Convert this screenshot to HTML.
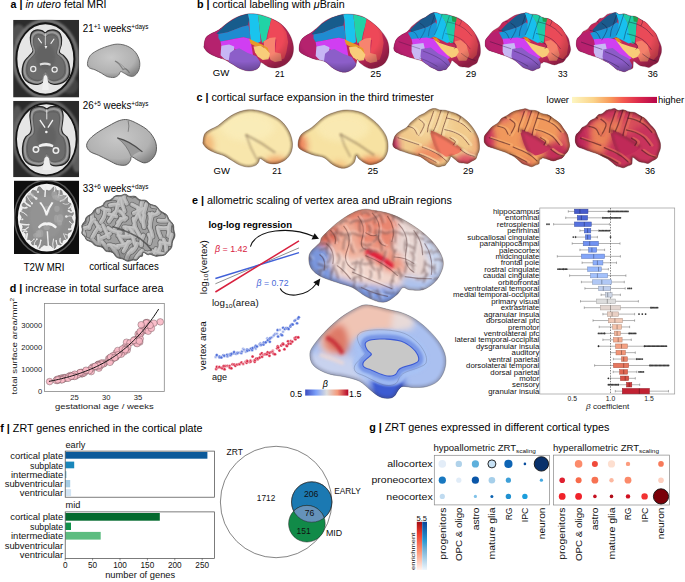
<!DOCTYPE html>
<html><head><meta charset="utf-8"><style>
html,body{margin:0;padding:0;background:#fff;overflow:hidden;}
svg{display:block;font-family:"Liberation Sans", sans-serif;}
</style></head><body>
<svg width="685" height="582" viewBox="0 0 685 582">
<defs><filter id="blur8" x="-50%" y="-50%" width="200%" height="200%"><feGaussianBlur stdDeviation="8"/></filter>
<filter id="blur4" x="-50%" y="-50%" width="200%" height="200%"><feGaussianBlur stdDeviation="4"/></filter>
<filter id="blur3" x="-50%" y="-50%" width="200%" height="200%"><feGaussianBlur stdDeviation="3"/></filter>
<filter id="blur1" x="-50%" y="-50%" width="200%" height="200%"><feGaussianBlur stdDeviation="1"/></filter>
<filter id="blur05" x="-50%" y="-50%" width="200%" height="200%"><feGaussianBlur stdDeviation="0.5"/></filter>
<radialGradient id="gray3d" cx="0.45" cy="0.4" r="0.65"><stop offset="0" stop-color="#c8c8c8"/><stop offset="0.7" stop-color="#b2b2b2"/><stop offset="1" stop-color="#858585"/></radialGradient>
<radialGradient id="edgeShade" cx="0.45" cy="0.4" r="0.62"><stop offset="0.7" stop-color="#000" stop-opacity="0"/><stop offset="1" stop-color="#000" stop-opacity="0.28"/></radialGradient>
<linearGradient id="magma" x1="0" x2="1" y1="0" y2="0"><stop offset="0" stop-color="#fdf6c2"/><stop offset="0.25" stop-color="#fbd48a"/><stop offset="0.45" stop-color="#f89a5a"/><stop offset="0.6" stop-color="#f45a50"/><stop offset="0.78" stop-color="#dc2a4c"/><stop offset="1" stop-color="#b6064a"/></linearGradient>
<filter id="blurE" x="-50%" y="-50%" width="200%" height="200%"><feGaussianBlur stdDeviation="14"/></filter>
<filter id="blurE2" x="-50%" y="-50%" width="200%" height="200%"><feGaussianBlur stdDeviation="8"/></filter>
<linearGradient id="cwgrad" x1="0" x2="1"><stop offset="0" stop-color="#3b4cc0"/><stop offset="0.25" stop-color="#7b9ff9"/><stop offset="0.5" stop-color="#dddddd"/><stop offset="0.75" stop-color="#f49a7b"/><stop offset="1" stop-color="#b40426"/></linearGradient></defs>
<text x="10.6" y="8.3" font-size="10" textLength="96" lengthAdjust="spacingAndGlyphs"><tspan font-weight="bold">a |</tspan> <tspan font-style="italic">in utero</tspan> fetal MRI</text>
<text x="197" y="8" font-size="10" textLength="147.7" lengthAdjust="spacingAndGlyphs"><tspan font-weight="bold">b |</tspan> cortical labelling with <tspan font-style="italic">μ</tspan>Brain</text>
<text x="196.5" y="101.1" font-size="10" textLength="237.3" lengthAdjust="spacingAndGlyphs"><tspan font-weight="bold">c |</tspan> cortical surface expansion in the third trimester</text>
<text x="9.8" y="291.8" font-size="10" textLength="153.7" lengthAdjust="spacingAndGlyphs"><tspan font-weight="bold">d |</tspan> increase in total surface area</text>
<text x="192.1" y="204" font-size="10" textLength="259.8" lengthAdjust="spacingAndGlyphs"><tspan font-weight="bold">e |</tspan> allometric scaling of vertex area and uBrain regions</text>
<text x="0.3" y="431.9" font-size="10" textLength="202.2" lengthAdjust="spacingAndGlyphs"><tspan font-weight="bold">f |</tspan> ZRT genes enriched in the cortical plate</text>
<text x="369.2" y="431" font-size="10" textLength="240.2" lengthAdjust="spacingAndGlyphs"><tspan font-weight="bold">g |</tspan> ZRT genes expressed in different cortical types</text>
<g transform="translate(10,17) scale(0.14257)"><clipPath id="mc1"><rect x="22" y="20" width="463" height="545"/></clipPath><g clip-path="url(#mc1)"><rect x="22" y="20" width="463" height="545" fill="#2c2c2c"/><ellipse cx="60" cy="120" rx="50" ry="70" fill="#6a6a6a" opacity="0.6" filter="url(#blur8)"/><ellipse cx="420" cy="480" rx="60" ry="60" fill="#555" opacity="0.6" filter="url(#blur8)"/><ellipse cx="250" cy="293" rx="222" ry="268" fill="none" stroke="#7a7a7a" stroke-width="22" filter="url(#blur8)"/><ellipse cx="248" cy="294" rx="203" ry="250" fill="#e6e6e6" stroke="#141414" stroke-width="13"/><path d="M247,112C238.38,112 235.1,99.67 223,96C210.9,92.33 193.83,89.43 181,92C168.17,94.57 159.97,100.65 153,110C146.03,119.35 143.92,128.33 143,143C142.08,157.67 144.52,172.77 148,190C151.48,207.23 164.57,221.42 162,237C159.43,252.58 145.18,261.07 134,275C122.82,288.93 109.62,297.42 101,313C92.38,328.58 89.2,342.77 87,360C84.8,377.23 84.78,391.6 89,407C93.22,422.4 98.27,432.82 110,444C121.73,455.18 136.5,463.05 153,468C169.5,472.95 186.25,473.2 200,471C213.75,468.8 220.85,464.25 228,456C235.15,447.75 235.33,436.27 239,426C242.67,415.73 243.97,400 248,400C252.03,400 256.42,415.73 261,426C265.58,436.27 265.3,447.75 273,456C280.7,464.25 288.88,468.8 303,471C317.12,473.2 333.5,472.95 350,468C366.5,463.05 380.9,455.18 393,444C405.1,432.82 411.42,422.4 416,407C420.58,391.6 419.65,377.23 418,360C416.35,342.77 414.15,328.58 407,313C399.85,297.42 390.18,287.1 379,275C367.82,262.9 349.48,262.58 346,247C342.52,231.42 357.43,209.07 360,190C362.57,170.93 362.57,157.67 360,143C357.43,128.33 354.62,119.35 346,110C337.38,100.65 326.93,94.57 313,92C299.07,89.43 282.1,92.33 270,96C257.9,99.67 255.62,112 247,112Z" fill="#6c6c6c" stroke="#262626" stroke-width="9"/><path d="M247.1,127.04C239.34,127.04 236.39,115.69 225.5,112.32C214.61,108.95 199.25,106.28 187.7,108.64C176.15,111 168.77,116.6 162.5,125.2C156.23,133.8 154.32,142.07 153.5,155.56C152.68,169.05 154.87,182.95 158,198.8C161.13,214.65 172.91,227.7 170.6,242.04C168.29,256.38 155.46,264.18 145.4,277C135.33,289.82 123.45,297.62 115.7,311.96C107.94,326.3 105.08,339.35 103.1,355.2C101.12,371.05 101.11,384.27 104.9,398.44C108.7,412.61 113.24,422.19 123.8,432.48C134.36,442.77 147.65,450.01 162.5,454.56C177.35,459.11 192.43,459.34 204.8,457.32C217.18,455.3 223.56,451.11 230,443.52C236.44,435.93 236.6,425.37 239.9,415.92C243.2,406.47 244.37,392 248,392C251.63,392 255.57,406.47 259.7,415.92C263.82,425.37 263.57,435.93 270.5,443.52C277.43,451.11 284.8,455.3 297.5,457.32C310.2,459.34 324.95,459.11 339.8,454.56C354.65,450.01 367.61,442.77 378.5,432.48C389.39,422.19 395.08,412.61 399.2,398.44C403.33,384.27 402.49,371.05 401,355.2C399.51,339.35 397.54,326.3 391.1,311.96C384.67,297.62 375.96,288.13 365.9,277C355.83,265.87 339.33,265.58 336.2,251.24C333.06,236.9 346.49,216.34 348.8,198.8C351.11,181.26 351.11,169.05 348.8,155.56C346.49,142.07 343.95,133.8 336.2,125.2C328.44,116.6 319.04,111 306.5,108.64C293.96,106.28 278.69,108.95 267.8,112.32C256.91,115.69 254.85,127.04 247.1,127.04Z" fill="none" stroke="#a2a2a2" stroke-width="14" opacity="0.85" filter="url(#blur3)"/><path d="M247.2,142.08C240.31,142.08 237.68,131.72 228,128.64C218.32,125.56 204.67,123.12 194.4,125.28C184.13,127.44 177.57,132.55 172,140.4C166.43,148.25 164.73,155.8 164,168.12C163.27,180.44 165.21,193.12 168,207.6C170.79,222.08 181.25,233.99 179.2,247.08C177.15,260.17 165.75,267.3 156.8,279C147.85,290.7 137.29,297.83 130.4,310.92C123.51,324.01 120.96,335.92 119.2,350.4C117.44,364.88 117.43,376.94 120.8,389.88C124.17,402.82 128.21,411.57 137.6,420.96C146.99,430.35 158.8,436.96 172,441.12C185.2,445.28 198.6,445.49 209.6,443.64C220.6,441.79 226.28,437.97 232,431.04C237.72,424.11 237.87,414.46 240.8,405.84C243.73,397.22 244.77,384 248,384C251.23,384 254.73,397.22 258.4,405.84C262.07,414.46 261.84,424.11 268,431.04C274.16,437.97 280.71,441.79 292,443.64C303.29,445.49 316.4,445.28 329.6,441.12C342.8,436.96 354.32,430.35 364,420.96C373.68,411.57 378.73,402.82 382.4,389.88C386.07,376.94 385.32,364.88 384,350.4C382.68,335.92 380.92,324.01 375.2,310.92C369.48,297.83 361.75,289.16 352.8,279C343.85,268.84 329.19,268.57 326.4,255.48C323.61,242.39 335.55,223.62 337.6,207.6C339.65,191.58 339.65,180.44 337.6,168.12C335.55,155.8 333.29,148.25 326.4,140.4C319.51,132.55 311.15,127.44 300,125.28C288.85,123.12 275.28,125.56 265.6,128.64C255.92,131.72 254.09,142.08 247.2,142.08Z" fill="none" stroke="#505050" stroke-width="5" opacity="0.7" filter="url(#blur3)"/><ellipse cx="248" cy="280" rx="70" ry="90" fill="#5a5a5a" opacity="0.5" filter="url(#blur8)"/><path d="M200,146 L226,182 L219,186 L194,151Z M307,150 L282,185 L289,189 L313,155Z" fill="#f2f2f2"/><path d="M242,203 L262,203 L252,224Z" fill="#f2f2f2"/><circle cx="163" cy="365" r="18" fill="none" stroke="#eaeaea" stroke-width="9"/><circle cx="313" cy="369" r="18" fill="none" stroke="#eaeaea" stroke-width="9"/><path d="M208,326 Q248,312 286,328 L283,342 Q248,330 211,340Z" fill="#dedede"/><path d="M236,420 Q249,392 262,420 L272,512 L226,512Z" fill="#efefef"/><path d="M248,114 L248,200" stroke="#dcdcdc" stroke-width="6"/></g></g>
<g transform="translate(10,98) scale(0.14257)"><clipPath id="mc2"><rect x="22" y="20" width="463" height="536"/></clipPath><g clip-path="url(#mc2)"><rect x="22" y="20" width="463" height="536" fill="#2a2a2a"/><ellipse cx="50" cy="200" rx="45" ry="150" fill="#7a7a7a" opacity="0.55" filter="url(#blur8)"/><ellipse cx="470" cy="420" rx="40" ry="100" fill="#888" opacity="0.55" filter="url(#blur8)"/><ellipse cx="255" cy="290" rx="228" ry="268" fill="none" stroke="#6e6e6e" stroke-width="18" filter="url(#blur8)"/><ellipse cx="255" cy="290" rx="212" ry="252" fill="#e6e6e6" stroke="#141414" stroke-width="12"/><path d="M258,76C247.92,76 244.3,64.57 230,62C215.7,59.43 194.67,58.7 180,62C165.33,65.3 157.33,69.37 150,80C142.67,90.63 140.92,103.5 140,120C139.08,136.5 143.17,151.67 145,170C146.83,188.33 150.92,205.33 150,220C149.08,234.67 147.33,239.92 140,250C132.67,260.08 118.8,262.17 110,275C101.2,287.83 96.03,300.75 92,320C87.97,339.25 86.53,359.83 88,380C89.47,400.17 92.3,415.33 100,430C107.7,444.67 115.33,451.75 130,460C144.67,468.25 162.58,473.17 180,475C197.42,476.83 213.08,476.42 225,470C236.92,463.58 238.95,451 245,440C251.05,429 253.05,410 258,410C262.95,410 265.77,429 272,440C278.23,451 279.53,463.58 292,470C304.47,476.42 322.95,476.83 340,475C357.05,473.17 371.8,468.25 385,460C398.2,451.75 405.58,444.67 412,430C418.42,415.33 419.27,400.17 420,380C420.73,359.83 419.67,339.25 416,320C412.33,300.75 408.07,287.83 400,275C391.93,262.17 378.97,260.08 372,250C365.03,239.92 362.73,234.67 362,220C361.27,205.33 366.17,188.33 368,170C369.83,151.67 373.1,136.5 372,120C370.9,103.5 368.78,90.63 362,80C355.22,69.37 349.12,65.3 335,62C320.88,58.7 299.12,59.43 285,62C270.88,64.57 268.08,76 258,76Z" fill="#6c6c6c" stroke="#262626" stroke-width="9"/><path d="M257.8,93.12C248.72,93.12 245.47,82.6 232.6,80.24C219.73,77.88 200.8,77.2 187.6,80.24C174.4,83.28 167.2,87.02 160.6,96.8C154,106.58 152.42,118.42 151.6,133.6C150.78,148.78 154.45,162.73 156.1,179.6C157.75,196.47 161.42,212.11 160.6,225.6C159.78,239.09 158.2,243.92 151.6,253.2C145,262.48 132.52,264.39 124.6,276.2C116.68,288.01 112.03,299.89 108.4,317.6C104.77,335.31 103.48,354.25 104.8,372.8C106.12,391.35 108.67,405.31 115.6,418.8C122.53,432.29 129.4,438.81 142.6,446.4C155.8,453.99 171.92,458.51 187.6,460.2C203.28,461.89 217.38,461.5 228.1,455.6C238.82,449.7 240.66,438.12 246.1,428C251.54,417.88 253.35,400.4 257.8,400.4C262.25,400.4 264.79,417.88 270.4,428C276.01,438.12 277.18,449.7 288.4,455.6C299.62,461.5 316.25,461.89 331.6,460.2C346.95,458.51 360.22,453.99 372.1,446.4C383.98,438.81 390.62,432.29 396.4,418.8C402.17,405.31 402.94,391.35 403.6,372.8C404.26,354.25 403.3,335.31 400,317.6C396.7,299.89 392.86,288.01 385.6,276.2C378.34,264.39 366.67,262.48 360.4,253.2C354.13,243.92 352.06,239.09 351.4,225.6C350.74,212.11 355.15,196.47 356.8,179.6C358.45,162.73 361.39,148.78 360.4,133.6C359.41,118.42 357.5,106.58 351.4,96.8C345.29,87.02 339.81,83.28 327.1,80.24C314.4,77.2 294.81,77.88 282.1,80.24C269.4,82.6 266.88,93.12 257.8,93.12Z" fill="none" stroke="#a2a2a2" stroke-width="14" opacity="0.85" filter="url(#blur3)"/><path d="M257.6,110.24C249.53,110.24 246.64,100.64 235.2,98.48C223.76,96.32 206.93,95.71 195.2,98.48C183.47,101.25 177.07,104.67 171.2,113.6C165.33,122.53 163.93,133.34 163.2,147.2C162.47,161.06 165.73,173.8 167.2,189.2C168.67,204.6 171.93,218.88 171.2,231.2C170.47,243.52 169.07,247.93 163.2,256.4C157.33,264.87 146.24,266.62 139.2,277.4C132.16,288.18 128.03,299.03 124.8,315.2C121.57,331.37 120.43,348.66 121.6,365.6C122.77,382.54 125.04,395.28 131.2,407.6C137.36,419.92 143.47,425.87 155.2,432.8C166.93,439.73 181.27,443.86 195.2,445.4C209.13,446.94 221.67,446.59 231.2,441.2C240.73,435.81 242.36,425.24 247.2,416C252.04,406.76 253.64,390.8 257.6,390.8C261.56,390.8 263.81,406.76 268.8,416C273.79,425.24 274.83,435.81 284.8,441.2C294.77,446.59 309.56,446.94 323.2,445.4C336.84,443.86 348.64,439.73 359.2,432.8C369.76,425.87 375.67,419.92 380.8,407.6C385.93,395.28 386.61,382.54 387.2,365.6C387.79,348.66 386.93,331.37 384,315.2C381.07,299.03 377.65,288.18 371.2,277.4C364.75,266.62 354.37,264.87 348.8,256.4C343.23,247.93 341.39,243.52 340.8,231.2C340.21,218.88 344.13,204.6 345.6,189.2C347.07,173.8 349.68,161.06 348.8,147.2C347.92,133.34 346.23,122.53 340.8,113.6C335.37,104.67 330.49,101.25 319.2,98.48C307.91,95.71 290.49,96.32 279.2,98.48C267.91,100.64 265.67,110.24 257.6,110.24Z" fill="none" stroke="#505050" stroke-width="5" opacity="0.7" filter="url(#blur3)"/><ellipse cx="256" cy="270" rx="70" ry="90" fill="#5a5a5a" opacity="0.5" filter="url(#blur8)"/><path d="M213,150 L250,205 L242,210 L206,158Z M297,150 L262,205 L270,210 L304,158Z" fill="#f2f2f2"/><circle cx="255" cy="238" r="9" fill="#f2f2f2"/><path d="M200,330 Q255,300 305,330 L300,345 Q255,332 205,345Z" fill="#f0f0f0"/><circle cx="182" cy="362" r="19" fill="none" stroke="#ececec" stroke-width="11"/><circle cx="322" cy="368" r="19" fill="none" stroke="#ececec" stroke-width="11"/><path d="M242,425 Q258,395 273,425 L288,505 L228,505Z" fill="#eee"/><path d="M258,80 L258,150" stroke="#e4e4e4" stroke-width="7"/></g></g>
<g transform="translate(10,177) scale(0.14257)"><clipPath id="mc3"><rect x="28" y="25" width="457" height="515"/></clipPath><g clip-path="url(#mc3)"><rect x="28" y="25" width="457" height="515" fill="#0e0e0e"/><ellipse cx="256" cy="285" rx="225" ry="262" fill="none" stroke="#5a5a5a" stroke-width="10" filter="url(#blur4)"/><ellipse cx="258" cy="285" rx="203" ry="238" fill="#f2f2f2"/><path d="M258,93.3C268.64,93.3 268.4,101.07 280.8,95.25C293.2,89.43 299.57,68.4 311.16,68.37C322.75,68.34 319.07,88.89 330.46,95.12C341.86,101.35 350.26,87.57 360.01,95.06C369.75,102.56 362.76,117.43 372.23,127.24C381.7,137.06 393.01,126.67 400.59,137.15C408.18,147.62 397.97,159.53 404.75,172.15C411.52,184.76 424.82,178.6 429.63,191.21C434.44,203.82 421.84,211.8 425.37,226.19C428.9,240.58 443.11,239.15 444.76,252.87C446.41,266.59 432.44,270.01 432.44,285C432.44,299.99 446.41,303.41 444.76,317.13C443.11,330.85 428.9,329.42 425.37,343.81C421.84,358.2 434.44,366.18 429.63,378.79C424.82,391.4 411.52,385.24 404.75,397.85C397.97,410.47 408.18,422.38 400.59,432.85C393.01,443.33 381.7,432.94 372.23,442.76C362.76,452.57 369.75,467.44 360.01,474.94C350.26,482.43 341.86,468.65 330.46,474.88C319.07,481.11 322.63,500.68 311.16,501.63C299.69,502.59 293.71,483.79 281.31,478.97C268.9,474.14 268.88,480.96 258,480.96C247.12,480.96 247.1,474.14 234.69,478.97C222.29,483.79 216.31,502.59 204.84,501.63C193.37,500.68 196.93,481.11 185.54,474.88C174.14,468.65 165.74,482.43 155.99,474.94C146.25,467.44 153.24,452.57 143.77,442.76C134.3,432.94 122.99,443.33 115.41,432.85C107.82,422.38 118.03,410.47 111.25,397.85C104.48,385.24 91.18,391.4 86.37,378.79C81.56,366.18 94.16,358.2 90.63,343.81C87.1,329.42 72.89,330.85 71.24,317.13C69.59,303.41 83.56,299.99 83.56,285C83.56,270.01 69.59,266.59 71.24,252.87C72.89,239.15 87.1,240.58 90.63,226.19C94.16,211.8 81.56,203.82 86.37,191.21C91.18,178.6 104.48,184.76 111.25,172.15C118.03,159.53 107.82,147.62 115.41,137.15C122.99,126.67 134.3,137.06 143.77,127.24C153.24,117.43 146.25,102.56 155.99,95.06C165.74,87.57 174.14,101.35 185.54,95.12C196.93,88.89 193.25,68.34 204.84,68.37C216.43,68.4 222.8,89.43 235.2,95.25C247.6,101.07 247.36,93.3 258,93.3Z" fill="#8e8e8e" stroke="#666" stroke-width="4"/><ellipse cx="258" cy="280" rx="120" ry="150" fill="#999" opacity="0.5" filter="url(#blur8)"/><path d="M448,279 Q421,266 395,277" fill="none" stroke="#ececec" stroke-width="5" stroke-linecap="round"/><circle cx="395" cy="277" r="9" fill="#e8e8e8"/><path d="M444,333 Q430,331 418,313" fill="none" stroke="#ececec" stroke-width="7" stroke-linecap="round"/><circle cx="418" cy="313" r="5" fill="#e8e8e8"/><path d="M437,361 Q423,368 412,367" fill="none" stroke="#ececec" stroke-width="11" stroke-linecap="round"/><circle cx="412" cy="367" r="6" fill="#e8e8e8"/><path d="M418,406 Q398,410 386,401" fill="none" stroke="#ececec" stroke-width="6" stroke-linecap="round"/><path d="M396,440 Q383,424 376,399" fill="none" stroke="#ececec" stroke-width="6" stroke-linecap="round"/><path d="M367,470 Q345,462 352,430" fill="none" stroke="#ececec" stroke-width="9" stroke-linecap="round"/><path d="M337,491 Q326,472 324,448" fill="none" stroke="#ececec" stroke-width="8" stroke-linecap="round"/><circle cx="324" cy="448" r="6" fill="#e8e8e8"/><path d="M304,504 Q294,473 305,435" fill="none" stroke="#ececec" stroke-width="7" stroke-linecap="round"/><path d="M197,499 Q214,475 216,444" fill="none" stroke="#ececec" stroke-width="9" stroke-linecap="round"/><circle cx="216" cy="444" r="6" fill="#e8e8e8"/><path d="M169,485 Q168,453 188,436" fill="none" stroke="#ececec" stroke-width="6" stroke-linecap="round"/><circle cx="188" cy="436" r="6" fill="#e8e8e8"/><path d="M140,462 Q155,450 168,437" fill="none" stroke="#ececec" stroke-width="6" stroke-linecap="round"/><circle cx="168" cy="437" r="5" fill="#e8e8e8"/><path d="M115,434 Q118,417 121,399" fill="none" stroke="#ececec" stroke-width="12" stroke-linecap="round"/><circle cx="121" cy="399" r="6" fill="#e8e8e8"/><path d="M92,395 Q97,370 118,383" fill="none" stroke="#ececec" stroke-width="9" stroke-linecap="round"/><path d="M82,371 Q110,373 129,351" fill="none" stroke="#ececec" stroke-width="8" stroke-linecap="round"/><path d="M72,330 Q102,336 131,334" fill="none" stroke="#ececec" stroke-width="10" stroke-linecap="round"/><circle cx="131" cy="334" r="6" fill="#e8e8e8"/><path d="M68,294 Q79,306 88,297" fill="none" stroke="#ececec" stroke-width="5" stroke-linecap="round"/><circle cx="88" cy="297" r="6" fill="#e8e8e8"/><path d="M72,240 Q97,246 120,270" fill="none" stroke="#ececec" stroke-width="7" stroke-linecap="round"/><path d="M78,211 Q95,222 117,214" fill="none" stroke="#ececec" stroke-width="12" stroke-linecap="round"/><circle cx="117" cy="214" r="6" fill="#e8e8e8"/><path d="M96,168 Q115,193 142,205" fill="none" stroke="#ececec" stroke-width="11" stroke-linecap="round"/><path d="M118,133 Q133,163 154,185" fill="none" stroke="#ececec" stroke-width="6" stroke-linecap="round"/><circle cx="154" cy="185" r="8" fill="#e8e8e8"/><path d="M138,110 Q157,133 184,151" fill="none" stroke="#ececec" stroke-width="12" stroke-linecap="round"/><circle cx="184" cy="151" r="9" fill="#e8e8e8"/><path d="M176,81 Q182,96 196,105" fill="none" stroke="#ececec" stroke-width="6" stroke-linecap="round"/><circle cx="196" cy="105" r="8" fill="#e8e8e8"/><path d="M313,69 Q320,88 310,101" fill="none" stroke="#ececec" stroke-width="9" stroke-linecap="round"/><path d="M346,85 Q348,118 337,143" fill="none" stroke="#ececec" stroke-width="6" stroke-linecap="round"/><path d="M379,111 Q380,137 345,128" fill="none" stroke="#ececec" stroke-width="6" stroke-linecap="round"/><path d="M401,136 Q383,161 352,169" fill="none" stroke="#ececec" stroke-width="9" stroke-linecap="round"/><path d="M424,174 Q409,203 372,186" fill="none" stroke="#ececec" stroke-width="5" stroke-linecap="round"/><path d="M432,195 Q425,216 412,220" fill="none" stroke="#ececec" stroke-width="9" stroke-linecap="round"/><path d="M444,237 Q431,257 411,237" fill="none" stroke="#ececec" stroke-width="10" stroke-linecap="round"/><circle cx="411" cy="237" r="7" fill="#e8e8e8"/><ellipse cx="146" cy="131" rx="24" ry="22" fill="#b0b0b0" opacity="0.5" filter="url(#blur4)"/><ellipse cx="348" cy="321" rx="17" ry="20" fill="#b0b0b0" opacity="0.5" filter="url(#blur4)"/><ellipse cx="324" cy="293" rx="15" ry="28" fill="#b0b0b0" opacity="0.5" filter="url(#blur4)"/><ellipse cx="339" cy="148" rx="23" ry="21" fill="#b0b0b0" opacity="0.5" filter="url(#blur4)"/><ellipse cx="329" cy="223" rx="19" ry="22" fill="#b0b0b0" opacity="0.5" filter="url(#blur4)"/><ellipse cx="372" cy="151" rx="17" ry="24" fill="#b0b0b0" opacity="0.5" filter="url(#blur4)"/><ellipse cx="352" cy="289" rx="22" ry="28" fill="#b0b0b0" opacity="0.5" filter="url(#blur4)"/><ellipse cx="326" cy="142" rx="28" ry="18" fill="#b0b0b0" opacity="0.5" filter="url(#blur4)"/><ellipse cx="213" cy="396" rx="21" ry="27" fill="#b0b0b0" opacity="0.5" filter="url(#blur4)"/><ellipse cx="180" cy="409" rx="18" ry="17" fill="#b0b0b0" opacity="0.5" filter="url(#blur4)"/><ellipse cx="259" cy="232" rx="23" ry="29" fill="#b0b0b0" opacity="0.5" filter="url(#blur4)"/><ellipse cx="311" cy="122" rx="20" ry="23" fill="#b0b0b0" opacity="0.5" filter="url(#blur4)"/><ellipse cx="257" cy="356" rx="22" ry="16" fill="#b0b0b0" opacity="0.5" filter="url(#blur4)"/><ellipse cx="199" cy="400" rx="20" ry="27" fill="#b0b0b0" opacity="0.5" filter="url(#blur4)"/><path d="M205,180 Q240,220 250,270 L262,270 Q275,220 305,180 L292,175 Q265,215 256,240 Q245,215 218,175Z" fill="#f4f4f4"/><path d="M195,350 Q230,310 258,320 Q290,310 330,350 L318,362 Q290,335 258,340 Q228,335 205,362Z" fill="#f4f4f4"/><path d="M262,380 L270,500" stroke="#eee" stroke-width="10"/><path d="M250,62 L245,140" stroke="#eee" stroke-width="10"/></g></g>
<g transform="translate(78,18) scale(0.17182)"><path d="M55,265C55.67,253.33 60.83,232.5 70,220C79.17,207.5 93.33,199.17 110,190C126.67,180.83 150,171.33 170,165C190,158.67 210,152 230,152C250,152 272.5,157 290,165C307.5,173 323.67,185.83 335,200C346.33,214.17 354.67,233.33 358,250C361.33,266.67 359.67,285.83 355,300C350.33,314.17 339.17,328.67 330,335C320.83,341.33 310,340.17 300,338C290,335.83 278.67,326.33 270,322C261.33,317.67 253.67,310.33 248,312C242.33,313.67 242.33,326.33 236,332C229.67,337.67 221,344.5 210,346C199,347.5 182,345 170,341C158,337 149.67,328.5 138,322C126.33,315.5 112,307.33 100,302C88,296.67 73.5,296.17 66,290C58.5,283.83 54.33,276.67 55,265Z" fill="url(#gray3d)" stroke="#5a5a5a" stroke-width="5"/><path d="M215,250 Q240,262 262,300 Q280,285 300,320" fill="none" stroke="#6a6a6a" stroke-width="7" opacity="0.7" filter="url(#blur4)"/><path d="M218,252 Q250,262 290,310" fill="none" stroke="#555" stroke-width="3" opacity="0.6"/></g>
<g transform="translate(78,100) scale(0.17182)"><path d="M50,265C50,252.5 58.33,238.33 70,225C81.67,211.67 101.67,197.5 120,185C138.33,172.5 160,160.83 180,150C200,139.17 221.67,125.83 240,120C258.33,114.17 271.67,111.67 290,115C308.33,118.33 330,129.17 350,140C370,150.83 393.33,163.33 410,180C426.67,196.67 442.5,220 450,240C457.5,260 458.33,282.5 455,300C451.67,317.5 440.83,334 430,345C419.17,356 403.33,364.83 390,366C376.67,367.17 363,358 350,352C337,346 319.5,330 312,330C304.5,330 310.33,344 305,352C299.67,360 292.5,374 280,378C267.5,382 246.67,380.33 230,376C213.33,371.67 198.33,361 180,352C161.67,343 138.33,330.67 120,322C101.67,313.33 81.67,309.5 70,300C58.33,290.5 50,277.5 50,265Z" fill="url(#gray3d)" stroke="#4a4a4a" stroke-width="5"/><path d="M232,222 Q300,240 372,300 Q340,300 312,332 Q280,260 232,222Z" fill="#9a9a9a"/><path d="M228,220 Q300,236 375,302" fill="none" stroke="#3a3a3a" stroke-width="7" opacity="0.85"/><path d="M232,224 Q285,262 310,330" fill="none" stroke="#555" stroke-width="4" opacity="0.7"/><path d="M292,122 Q300,150 292,185" fill="none" stroke="#5a5a5a" stroke-width="5" opacity="0.7"/></g>
<g transform="translate(78,180) scale(0.17182)"><defs><clipPath id="ca3"><path d="M25,290C25,280.44 19.55,274.03 22.55,264.03C25.55,254.03 34.42,249.91 40,240C45.58,230.09 42.46,223.49 50.46,214.49C58.46,205.49 69.77,204.49 80,195C90.23,185.51 89.63,176.03 101.63,167.03C113.63,158.03 128.57,158.47 140,150C151.43,141.53 148.78,131.67 158.78,124.67C168.78,117.67 178.46,121.31 190,115C201.54,108.69 204.5,98.13 216.5,93.13C228.5,88.13 238.45,92.12 250,90C261.55,87.88 264.24,81.53 274.24,82.53C284.24,83.53 288.43,92.46 300,95C311.57,97.54 320.11,91.23 332.11,95.23C344.11,99.23 347.37,110.25 360,115C372.63,119.75 383.24,113.98 395.24,118.98C407.24,123.98 407.5,133.06 420,140C432.5,146.94 445.76,145.69 457.76,153.69C469.76,161.69 468.69,170.47 480,180C491.31,189.53 504.3,191.32 514.3,201.32C524.3,211.32 522.07,218.5 530,230C537.93,241.5 548.33,246.83 553.93,258.83C559.53,270.83 556,276.5 558,290C560,303.5 565.51,312.31 563.91,326.31C562.31,340.31 553.93,346.51 550,360C546.07,373.49 550.26,381.78 544.26,393.78C538.26,405.78 528.2,411.42 520,420C511.8,428.58 513.24,432.27 503.24,436.67C493.24,441.07 480.2,440.56 470,442C459.8,443.44 462.26,445.88 452.26,443.88C442.26,441.88 429.2,433.82 420,432C410.8,430.18 414.26,436.8 406.26,434.8C398.26,432.8 386.28,420.31 380,422C373.72,423.69 378.84,438.25 374.84,443.25C370.84,448.25 366.39,442.43 360,447C353.61,451.57 350.88,462.28 342.88,466.08C334.88,469.88 330.58,464.62 320,466C309.42,467.38 302,474.2 290,473C278,471.8 272.74,464.54 260,460C247.26,455.46 238.31,457.89 226.31,450.29C214.31,442.69 212.69,429.26 200,422C187.31,414.74 174.84,419.98 162.84,413.98C150.84,407.98 152.37,398.53 140,392C127.63,385.47 113,387.35 101,381.35C89,375.35 90.14,368.39 80,362C69.86,355.61 58.29,355.41 50.29,349.41C42.29,343.41 45.55,339.52 40,332C34.45,324.48 25.53,320.21 22.53,311.81C19.53,303.41 25,299.56 25,290Z"/></clipPath></defs><path d="M25,290C25,280.44 19.55,274.03 22.55,264.03C25.55,254.03 34.42,249.91 40,240C45.58,230.09 42.46,223.49 50.46,214.49C58.46,205.49 69.77,204.49 80,195C90.23,185.51 89.63,176.03 101.63,167.03C113.63,158.03 128.57,158.47 140,150C151.43,141.53 148.78,131.67 158.78,124.67C168.78,117.67 178.46,121.31 190,115C201.54,108.69 204.5,98.13 216.5,93.13C228.5,88.13 238.45,92.12 250,90C261.55,87.88 264.24,81.53 274.24,82.53C284.24,83.53 288.43,92.46 300,95C311.57,97.54 320.11,91.23 332.11,95.23C344.11,99.23 347.37,110.25 360,115C372.63,119.75 383.24,113.98 395.24,118.98C407.24,123.98 407.5,133.06 420,140C432.5,146.94 445.76,145.69 457.76,153.69C469.76,161.69 468.69,170.47 480,180C491.31,189.53 504.3,191.32 514.3,201.32C524.3,211.32 522.07,218.5 530,230C537.93,241.5 548.33,246.83 553.93,258.83C559.53,270.83 556,276.5 558,290C560,303.5 565.51,312.31 563.91,326.31C562.31,340.31 553.93,346.51 550,360C546.07,373.49 550.26,381.78 544.26,393.78C538.26,405.78 528.2,411.42 520,420C511.8,428.58 513.24,432.27 503.24,436.67C493.24,441.07 480.2,440.56 470,442C459.8,443.44 462.26,445.88 452.26,443.88C442.26,441.88 429.2,433.82 420,432C410.8,430.18 414.26,436.8 406.26,434.8C398.26,432.8 386.28,420.31 380,422C373.72,423.69 378.84,438.25 374.84,443.25C370.84,448.25 366.39,442.43 360,447C353.61,451.57 350.88,462.28 342.88,466.08C334.88,469.88 330.58,464.62 320,466C309.42,467.38 302,474.2 290,473C278,471.8 272.74,464.54 260,460C247.26,455.46 238.31,457.89 226.31,450.29C214.31,442.69 212.69,429.26 200,422C187.31,414.74 174.84,419.98 162.84,413.98C150.84,407.98 152.37,398.53 140,392C127.63,385.47 113,387.35 101,381.35C89,375.35 90.14,368.39 80,362C69.86,355.61 58.29,355.41 50.29,349.41C42.29,343.41 45.55,339.52 40,332C34.45,324.48 25.53,320.21 22.53,311.81C19.53,303.41 25,299.56 25,290Z" fill="#a0a0a0"/><g clip-path="url(#ca3)"><g fill="none" stroke="#646464" stroke-width="32" stroke-linecap="round" opacity="0.9"><path d="M17,104 Q27,77 17,51"/><path d="M82,100 Q71,80 68,57"/><path d="M127,91 Q148,68 178,77"/><path d="M187,105 Q211,101 233,110"/><path d="M225,92 Q251,100 275,86"/><path d="M266,109 Q268,80 271,52"/><path d="M317,91 Q350,71 387,72"/><path d="M386,108 Q416,124 449,125"/><path d="M416,100 Q457,101 490,77"/><path d="M473,97 Q464,58 463,18"/><path d="M514,92 Q541,106 569,121"/><path d="M576,105 Q586,74 587,41"/><path d="M17,139 Q36,117 48,91"/><path d="M70,138 Q81,103 100,72"/><path d="M129,150 Q148,178 183,176"/><path d="M186,148 Q215,138 244,147"/><path d="M234,139 Q248,106 263,73"/><path d="M283,137 Q264,111 268,79"/><path d="M315,143 Q346,159 378,176"/><path d="M369,155 Q366,130 383,111"/><path d="M433,152 Q463,158 493,158"/><path d="M483,142 Q457,112 464,73"/><path d="M529,155 Q547,123 539,88"/><path d="M577,141 Q588,102 621,79"/><path d="M15,184 Q27,158 13,134"/><path d="M79,185 Q62,156 66,124"/><path d="M117,186 Q111,150 136,124"/><path d="M180,199 Q202,205 223,212"/><path d="M215,197 Q229,174 230,146"/><path d="M271,183 Q255,147 253,108"/><path d="M325,193 Q356,180 386,167"/><path d="M381,201 Q391,171 398,140"/><path d="M415,198 Q445,212 470,190"/><path d="M466,184 Q479,150 495,118"/><path d="M528,182 Q522,151 525,119"/><path d="M573,187 Q578,159 569,133"/><path d="M33,242 Q23,215 14,187"/><path d="M78,247 Q86,216 78,185"/><path d="M134,244 Q158,216 158,180"/><path d="M180,242 Q199,219 211,192"/><path d="M233,247 Q254,228 282,221"/><path d="M272,231 Q272,199 244,183"/><path d="M331,237 Q342,203 371,180"/><path d="M371,241 Q354,205 349,166"/><path d="M419,245 Q429,221 432,195"/><path d="M470,236 Q500,239 530,234"/><path d="M520,231 Q529,202 506,182"/><path d="M564,244 Q586,249 609,253"/><path d="M14,286 Q36,282 58,275"/><path d="M65,280 Q69,249 95,230"/><path d="M132,290 Q115,271 104,247"/><path d="M176,279 Q208,305 249,305"/><path d="M213,286 Q240,260 250,225"/><path d="M268,275 Q301,278 334,282"/><path d="M332,281 Q332,253 323,226"/><path d="M384,275 Q374,241 387,207"/><path d="M419,275 Q425,241 420,206"/><path d="M467,276 Q496,284 526,278"/><path d="M530,284 Q527,254 553,237"/><path d="M571,285 Q558,253 544,220"/><path d="M17,337 Q52,341 80,364"/><path d="M82,338 Q99,302 123,271"/><path d="M136,339 Q163,329 186,312"/><path d="M178,335 Q163,299 146,264"/><path d="M234,324 Q270,335 306,328"/><path d="M284,327 Q283,302 279,276"/><path d="M333,327 Q318,301 299,278"/><path d="M364,333 Q346,299 327,265"/><path d="M434,330 Q430,300 416,273"/><path d="M482,335 Q468,308 464,278"/><path d="M525,325 Q536,302 523,279"/><path d="M577,336 Q617,341 655,354"/><path d="M22,366 Q44,336 31,301"/><path d="M68,371 Q102,365 127,390"/><path d="M122,383 Q126,353 120,324"/><path d="M177,380 Q208,378 234,394"/><path d="M232,382 Q272,384 303,360"/><path d="M265,372 Q241,342 233,305"/><path d="M329,372 Q326,340 307,314"/><path d="M368,380 Q364,349 381,323"/><path d="M416,367 Q428,341 412,318"/><path d="M479,366 Q509,369 539,372"/><path d="M536,373 Q536,344 547,317"/><path d="M581,379 Q593,353 583,326"/><path d="M13,425 Q5,393 -8,363"/><path d="M65,422 Q71,393 88,370"/><path d="M118,413 Q116,377 90,352"/><path d="M168,414 Q163,384 141,362"/><path d="M218,426 Q208,401 191,380"/><path d="M265,416 Q284,390 292,359"/><path d="M313,418 Q337,399 344,369"/><path d="M364,422 Q398,420 427,439"/><path d="M435,414 Q469,424 503,433"/><path d="M467,419 Q484,393 480,362"/><path d="M514,418 Q516,380 499,347"/><path d="M567,418 Q564,387 580,359"/><path d="M22,475 Q30,443 40,411"/><path d="M76,465 Q71,437 77,410"/><path d="M117,476 Q100,458 101,433"/><path d="M184,465 Q171,433 162,401"/><path d="M231,469 Q234,434 213,405"/><path d="M280,468 Q287,429 317,403"/><path d="M329,473 Q344,437 374,412"/><path d="M387,465 Q399,442 417,424"/><path d="M428,463 Q449,436 454,402"/><path d="M482,475 Q520,488 557,501"/><path d="M530,468 Q559,479 589,478"/><path d="M570,461 Q547,447 550,420"/></g><g fill="none" stroke="#b4b4b4" stroke-width="23" stroke-linecap="round"><path d="M17,104 Q27,77 17,51"/><path d="M82,100 Q71,80 68,57"/><path d="M127,91 Q148,68 178,77"/><path d="M187,105 Q211,101 233,110"/><path d="M225,92 Q251,100 275,86"/><path d="M266,109 Q268,80 271,52"/><path d="M317,91 Q350,71 387,72"/><path d="M386,108 Q416,124 449,125"/><path d="M416,100 Q457,101 490,77"/><path d="M473,97 Q464,58 463,18"/><path d="M514,92 Q541,106 569,121"/><path d="M576,105 Q586,74 587,41"/><path d="M17,139 Q36,117 48,91"/><path d="M70,138 Q81,103 100,72"/><path d="M129,150 Q148,178 183,176"/><path d="M186,148 Q215,138 244,147"/><path d="M234,139 Q248,106 263,73"/><path d="M283,137 Q264,111 268,79"/><path d="M315,143 Q346,159 378,176"/><path d="M369,155 Q366,130 383,111"/><path d="M433,152 Q463,158 493,158"/><path d="M483,142 Q457,112 464,73"/><path d="M529,155 Q547,123 539,88"/><path d="M577,141 Q588,102 621,79"/><path d="M15,184 Q27,158 13,134"/><path d="M79,185 Q62,156 66,124"/><path d="M117,186 Q111,150 136,124"/><path d="M180,199 Q202,205 223,212"/><path d="M215,197 Q229,174 230,146"/><path d="M271,183 Q255,147 253,108"/><path d="M325,193 Q356,180 386,167"/><path d="M381,201 Q391,171 398,140"/><path d="M415,198 Q445,212 470,190"/><path d="M466,184 Q479,150 495,118"/><path d="M528,182 Q522,151 525,119"/><path d="M573,187 Q578,159 569,133"/><path d="M33,242 Q23,215 14,187"/><path d="M78,247 Q86,216 78,185"/><path d="M134,244 Q158,216 158,180"/><path d="M180,242 Q199,219 211,192"/><path d="M233,247 Q254,228 282,221"/><path d="M272,231 Q272,199 244,183"/><path d="M331,237 Q342,203 371,180"/><path d="M371,241 Q354,205 349,166"/><path d="M419,245 Q429,221 432,195"/><path d="M470,236 Q500,239 530,234"/><path d="M520,231 Q529,202 506,182"/><path d="M564,244 Q586,249 609,253"/><path d="M14,286 Q36,282 58,275"/><path d="M65,280 Q69,249 95,230"/><path d="M132,290 Q115,271 104,247"/><path d="M176,279 Q208,305 249,305"/><path d="M213,286 Q240,260 250,225"/><path d="M268,275 Q301,278 334,282"/><path d="M332,281 Q332,253 323,226"/><path d="M384,275 Q374,241 387,207"/><path d="M419,275 Q425,241 420,206"/><path d="M467,276 Q496,284 526,278"/><path d="M530,284 Q527,254 553,237"/><path d="M571,285 Q558,253 544,220"/><path d="M17,337 Q52,341 80,364"/><path d="M82,338 Q99,302 123,271"/><path d="M136,339 Q163,329 186,312"/><path d="M178,335 Q163,299 146,264"/><path d="M234,324 Q270,335 306,328"/><path d="M284,327 Q283,302 279,276"/><path d="M333,327 Q318,301 299,278"/><path d="M364,333 Q346,299 327,265"/><path d="M434,330 Q430,300 416,273"/><path d="M482,335 Q468,308 464,278"/><path d="M525,325 Q536,302 523,279"/><path d="M577,336 Q617,341 655,354"/><path d="M22,366 Q44,336 31,301"/><path d="M68,371 Q102,365 127,390"/><path d="M122,383 Q126,353 120,324"/><path d="M177,380 Q208,378 234,394"/><path d="M232,382 Q272,384 303,360"/><path d="M265,372 Q241,342 233,305"/><path d="M329,372 Q326,340 307,314"/><path d="M368,380 Q364,349 381,323"/><path d="M416,367 Q428,341 412,318"/><path d="M479,366 Q509,369 539,372"/><path d="M536,373 Q536,344 547,317"/><path d="M581,379 Q593,353 583,326"/><path d="M13,425 Q5,393 -8,363"/><path d="M65,422 Q71,393 88,370"/><path d="M118,413 Q116,377 90,352"/><path d="M168,414 Q163,384 141,362"/><path d="M218,426 Q208,401 191,380"/><path d="M265,416 Q284,390 292,359"/><path d="M313,418 Q337,399 344,369"/><path d="M364,422 Q398,420 427,439"/><path d="M435,414 Q469,424 503,433"/><path d="M467,419 Q484,393 480,362"/><path d="M514,418 Q516,380 499,347"/><path d="M567,418 Q564,387 580,359"/><path d="M22,475 Q30,443 40,411"/><path d="M76,465 Q71,437 77,410"/><path d="M117,476 Q100,458 101,433"/><path d="M184,465 Q171,433 162,401"/><path d="M231,469 Q234,434 213,405"/><path d="M280,468 Q287,429 317,403"/><path d="M329,473 Q344,437 374,412"/><path d="M387,465 Q399,442 417,424"/><path d="M428,463 Q449,436 454,402"/><path d="M482,475 Q520,488 557,501"/><path d="M530,468 Q559,479 589,478"/><path d="M570,461 Q547,447 550,420"/></g><g fill="none" stroke="#cacaca" stroke-width="10" stroke-linecap="round" opacity="0.7" transform="translate(-4,-5)"><path d="M17,104 Q27,77 17,51"/><path d="M82,100 Q71,80 68,57"/><path d="M127,91 Q148,68 178,77"/><path d="M187,105 Q211,101 233,110"/><path d="M225,92 Q251,100 275,86"/><path d="M266,109 Q268,80 271,52"/><path d="M317,91 Q350,71 387,72"/><path d="M386,108 Q416,124 449,125"/><path d="M416,100 Q457,101 490,77"/><path d="M473,97 Q464,58 463,18"/><path d="M514,92 Q541,106 569,121"/><path d="M576,105 Q586,74 587,41"/><path d="M17,139 Q36,117 48,91"/><path d="M70,138 Q81,103 100,72"/><path d="M129,150 Q148,178 183,176"/><path d="M186,148 Q215,138 244,147"/><path d="M234,139 Q248,106 263,73"/><path d="M283,137 Q264,111 268,79"/><path d="M315,143 Q346,159 378,176"/><path d="M369,155 Q366,130 383,111"/><path d="M433,152 Q463,158 493,158"/><path d="M483,142 Q457,112 464,73"/><path d="M529,155 Q547,123 539,88"/><path d="M577,141 Q588,102 621,79"/><path d="M15,184 Q27,158 13,134"/><path d="M79,185 Q62,156 66,124"/><path d="M117,186 Q111,150 136,124"/><path d="M180,199 Q202,205 223,212"/><path d="M215,197 Q229,174 230,146"/><path d="M271,183 Q255,147 253,108"/><path d="M325,193 Q356,180 386,167"/><path d="M381,201 Q391,171 398,140"/><path d="M415,198 Q445,212 470,190"/><path d="M466,184 Q479,150 495,118"/><path d="M528,182 Q522,151 525,119"/><path d="M573,187 Q578,159 569,133"/><path d="M33,242 Q23,215 14,187"/><path d="M78,247 Q86,216 78,185"/><path d="M134,244 Q158,216 158,180"/><path d="M180,242 Q199,219 211,192"/><path d="M233,247 Q254,228 282,221"/><path d="M272,231 Q272,199 244,183"/><path d="M331,237 Q342,203 371,180"/><path d="M371,241 Q354,205 349,166"/><path d="M419,245 Q429,221 432,195"/><path d="M470,236 Q500,239 530,234"/><path d="M520,231 Q529,202 506,182"/><path d="M564,244 Q586,249 609,253"/><path d="M14,286 Q36,282 58,275"/><path d="M65,280 Q69,249 95,230"/><path d="M132,290 Q115,271 104,247"/><path d="M176,279 Q208,305 249,305"/><path d="M213,286 Q240,260 250,225"/><path d="M268,275 Q301,278 334,282"/><path d="M332,281 Q332,253 323,226"/><path d="M384,275 Q374,241 387,207"/><path d="M419,275 Q425,241 420,206"/><path d="M467,276 Q496,284 526,278"/><path d="M530,284 Q527,254 553,237"/><path d="M571,285 Q558,253 544,220"/><path d="M17,337 Q52,341 80,364"/><path d="M82,338 Q99,302 123,271"/><path d="M136,339 Q163,329 186,312"/><path d="M178,335 Q163,299 146,264"/><path d="M234,324 Q270,335 306,328"/><path d="M284,327 Q283,302 279,276"/><path d="M333,327 Q318,301 299,278"/><path d="M364,333 Q346,299 327,265"/><path d="M434,330 Q430,300 416,273"/><path d="M482,335 Q468,308 464,278"/><path d="M525,325 Q536,302 523,279"/><path d="M577,336 Q617,341 655,354"/><path d="M22,366 Q44,336 31,301"/><path d="M68,371 Q102,365 127,390"/><path d="M122,383 Q126,353 120,324"/><path d="M177,380 Q208,378 234,394"/><path d="M232,382 Q272,384 303,360"/><path d="M265,372 Q241,342 233,305"/><path d="M329,372 Q326,340 307,314"/><path d="M368,380 Q364,349 381,323"/><path d="M416,367 Q428,341 412,318"/><path d="M479,366 Q509,369 539,372"/><path d="M536,373 Q536,344 547,317"/><path d="M581,379 Q593,353 583,326"/><path d="M13,425 Q5,393 -8,363"/><path d="M65,422 Q71,393 88,370"/><path d="M118,413 Q116,377 90,352"/><path d="M168,414 Q163,384 141,362"/><path d="M218,426 Q208,401 191,380"/><path d="M265,416 Q284,390 292,359"/><path d="M313,418 Q337,399 344,369"/><path d="M364,422 Q398,420 427,439"/><path d="M435,414 Q469,424 503,433"/><path d="M467,419 Q484,393 480,362"/><path d="M514,418 Q516,380 499,347"/><path d="M567,418 Q564,387 580,359"/><path d="M22,475 Q30,443 40,411"/><path d="M76,465 Q71,437 77,410"/><path d="M117,476 Q100,458 101,433"/><path d="M184,465 Q171,433 162,401"/><path d="M231,469 Q234,434 213,405"/><path d="M280,468 Q287,429 317,403"/><path d="M329,473 Q344,437 374,412"/><path d="M387,465 Q399,442 417,424"/><path d="M428,463 Q449,436 454,402"/><path d="M482,475 Q520,488 557,501"/><path d="M530,468 Q559,479 589,478"/><path d="M570,461 Q547,447 550,420"/></g><path d="M200,270 Q300,300 360,340 Q400,370 430,410" fill="none" stroke="#4a4a4a" stroke-width="9" opacity="0.8"/><path d="M60,350 Q200,420 330,470" fill="none" stroke="#6a6a6a" stroke-width="30" opacity="0.35" filter="url(#blur8)"/><path d="M25,290C25,280.44 19.55,274.03 22.55,264.03C25.55,254.03 34.42,249.91 40,240C45.58,230.09 42.46,223.49 50.46,214.49C58.46,205.49 69.77,204.49 80,195C90.23,185.51 89.63,176.03 101.63,167.03C113.63,158.03 128.57,158.47 140,150C151.43,141.53 148.78,131.67 158.78,124.67C168.78,117.67 178.46,121.31 190,115C201.54,108.69 204.5,98.13 216.5,93.13C228.5,88.13 238.45,92.12 250,90C261.55,87.88 264.24,81.53 274.24,82.53C284.24,83.53 288.43,92.46 300,95C311.57,97.54 320.11,91.23 332.11,95.23C344.11,99.23 347.37,110.25 360,115C372.63,119.75 383.24,113.98 395.24,118.98C407.24,123.98 407.5,133.06 420,140C432.5,146.94 445.76,145.69 457.76,153.69C469.76,161.69 468.69,170.47 480,180C491.31,189.53 504.3,191.32 514.3,201.32C524.3,211.32 522.07,218.5 530,230C537.93,241.5 548.33,246.83 553.93,258.83C559.53,270.83 556,276.5 558,290C560,303.5 565.51,312.31 563.91,326.31C562.31,340.31 553.93,346.51 550,360C546.07,373.49 550.26,381.78 544.26,393.78C538.26,405.78 528.2,411.42 520,420C511.8,428.58 513.24,432.27 503.24,436.67C493.24,441.07 480.2,440.56 470,442C459.8,443.44 462.26,445.88 452.26,443.88C442.26,441.88 429.2,433.82 420,432C410.8,430.18 414.26,436.8 406.26,434.8C398.26,432.8 386.28,420.31 380,422C373.72,423.69 378.84,438.25 374.84,443.25C370.84,448.25 366.39,442.43 360,447C353.61,451.57 350.88,462.28 342.88,466.08C334.88,469.88 330.58,464.62 320,466C309.42,467.38 302,474.2 290,473C278,471.8 272.74,464.54 260,460C247.26,455.46 238.31,457.89 226.31,450.29C214.31,442.69 212.69,429.26 200,422C187.31,414.74 174.84,419.98 162.84,413.98C150.84,407.98 152.37,398.53 140,392C127.63,385.47 113,387.35 101,381.35C89,375.35 90.14,368.39 80,362C69.86,355.61 58.29,355.41 50.29,349.41C42.29,343.41 45.55,339.52 40,332C34.45,324.48 25.53,320.21 22.53,311.81C19.53,303.41 25,299.56 25,290Z" fill="none" stroke="#444" stroke-width="14" opacity="0.5" filter="url(#blur4)"/></g><path d="M25,290C25,280.44 19.55,274.03 22.55,264.03C25.55,254.03 34.42,249.91 40,240C45.58,230.09 42.46,223.49 50.46,214.49C58.46,205.49 69.77,204.49 80,195C90.23,185.51 89.63,176.03 101.63,167.03C113.63,158.03 128.57,158.47 140,150C151.43,141.53 148.78,131.67 158.78,124.67C168.78,117.67 178.46,121.31 190,115C201.54,108.69 204.5,98.13 216.5,93.13C228.5,88.13 238.45,92.12 250,90C261.55,87.88 264.24,81.53 274.24,82.53C284.24,83.53 288.43,92.46 300,95C311.57,97.54 320.11,91.23 332.11,95.23C344.11,99.23 347.37,110.25 360,115C372.63,119.75 383.24,113.98 395.24,118.98C407.24,123.98 407.5,133.06 420,140C432.5,146.94 445.76,145.69 457.76,153.69C469.76,161.69 468.69,170.47 480,180C491.31,189.53 504.3,191.32 514.3,201.32C524.3,211.32 522.07,218.5 530,230C537.93,241.5 548.33,246.83 553.93,258.83C559.53,270.83 556,276.5 558,290C560,303.5 565.51,312.31 563.91,326.31C562.31,340.31 553.93,346.51 550,360C546.07,373.49 550.26,381.78 544.26,393.78C538.26,405.78 528.2,411.42 520,420C511.8,428.58 513.24,432.27 503.24,436.67C493.24,441.07 480.2,440.56 470,442C459.8,443.44 462.26,445.88 452.26,443.88C442.26,441.88 429.2,433.82 420,432C410.8,430.18 414.26,436.8 406.26,434.8C398.26,432.8 386.28,420.31 380,422C373.72,423.69 378.84,438.25 374.84,443.25C370.84,448.25 366.39,442.43 360,447C353.61,451.57 350.88,462.28 342.88,466.08C334.88,469.88 330.58,464.62 320,466C309.42,467.38 302,474.2 290,473C278,471.8 272.74,464.54 260,460C247.26,455.46 238.31,457.89 226.31,450.29C214.31,442.69 212.69,429.26 200,422C187.31,414.74 174.84,419.98 162.84,413.98C150.84,407.98 152.37,398.53 140,392C127.63,385.47 113,387.35 101,381.35C89,375.35 90.14,368.39 80,362C69.86,355.61 58.29,355.41 50.29,349.41C42.29,343.41 45.55,339.52 40,332C34.45,324.48 25.53,320.21 22.53,311.81C19.53,303.41 25,299.56 25,290Z" fill="none" stroke="#4a4a4a" stroke-width="4"/></g>
<text x="82.8" y="31.9" font-size="10" textLength="65.6" lengthAdjust="spacingAndGlyphs">21<tspan font-size="6.5" dy="-2.9">+1</tspan><tspan dy="2.9"> weeks</tspan><tspan font-size="6.5" dy="-2.9">+days</tspan></text>
<text x="82.8" y="109.1" font-size="10" textLength="65.6" lengthAdjust="spacingAndGlyphs">26<tspan font-size="6.5" dy="-2.9">+5</tspan><tspan dy="2.9"> weeks</tspan><tspan font-size="6.5" dy="-2.9">+days</tspan></text>
<text x="82.8" y="191.5" font-size="10" textLength="65.6" lengthAdjust="spacingAndGlyphs">33<tspan font-size="6.5" dy="-2.9">+6</tspan><tspan dy="2.9"> weeks</tspan><tspan font-size="6.5" dy="-2.9">+days</tspan></text>
<text x="23.7" y="271.3" font-size="10" textLength="40.7" lengthAdjust="spacingAndGlyphs">T2W MRI</text>
<text x="89.2" y="269.8" font-size="10" textLength="69.6" lengthAdjust="spacingAndGlyphs">cortical surfaces</text>
<clipPath id="cb21"><path d="M204.09,45.04C204.33,43.28 204.57,39.68 205.84,37.74C207.1,35.79 209.49,34.7 211.68,33.36C213.87,32.02 216.55,31.29 218.98,29.71C221.41,28.13 223.6,25.82 226.28,23.87C228.95,21.92 231.63,19.66 235.04,18.03C238.44,16.4 242.82,14.7 246.72,14.09C250.61,13.48 254.5,13.72 258.39,14.38C262.29,15.04 266.18,16.33 270.07,18.03C273.97,19.73 278.47,21.8 281.75,24.6C285.04,27.4 287.83,31.17 289.78,34.82C291.73,38.47 293.07,42.85 293.43,46.5C293.8,50.15 293.19,53.8 291.97,56.72C290.75,59.64 288.56,62.19 286.13,64.01C283.7,65.84 280.29,67.18 277.37,67.66C274.45,68.15 271.29,67.79 268.61,66.93C265.94,66.08 262.77,62.8 261.31,62.55C259.85,62.31 260.58,64.38 259.85,65.47C259.12,66.57 258.64,68.2 256.93,69.12C255.23,70.05 252.31,71.02 249.64,71.02C246.96,71.02 243.8,70.29 240.88,69.12C237.96,67.96 234.79,65.6 232.12,64.01C229.44,62.43 227.49,60.85 224.82,59.64C222.14,58.42 218.73,57.81 216.06,56.72C213.38,55.62 210.71,54.48 208.76,53.07C206.81,51.65 205.16,49.59 204.38,48.25C203.6,46.91 203.84,46.79 204.09,45.04Z"/></clipPath><path d="M204.09,45.04C204.33,43.28 204.57,39.68 205.84,37.74C207.1,35.79 209.49,34.7 211.68,33.36C213.87,32.02 216.55,31.29 218.98,29.71C221.41,28.13 223.6,25.82 226.28,23.87C228.95,21.92 231.63,19.66 235.04,18.03C238.44,16.4 242.82,14.7 246.72,14.09C250.61,13.48 254.5,13.72 258.39,14.38C262.29,15.04 266.18,16.33 270.07,18.03C273.97,19.73 278.47,21.8 281.75,24.6C285.04,27.4 287.83,31.17 289.78,34.82C291.73,38.47 293.07,42.85 293.43,46.5C293.8,50.15 293.19,53.8 291.97,56.72C290.75,59.64 288.56,62.19 286.13,64.01C283.7,65.84 280.29,67.18 277.37,67.66C274.45,68.15 271.29,67.79 268.61,66.93C265.94,66.08 262.77,62.8 261.31,62.55C259.85,62.31 260.58,64.38 259.85,65.47C259.12,66.57 258.64,68.2 256.93,69.12C255.23,70.05 252.31,71.02 249.64,71.02C246.96,71.02 243.8,70.29 240.88,69.12C237.96,67.96 234.79,65.6 232.12,64.01C229.44,62.43 227.49,60.85 224.82,59.64C222.14,58.42 218.73,57.81 216.06,56.72C213.38,55.62 210.71,54.48 208.76,53.07C206.81,51.65 205.16,49.59 204.38,48.25C203.6,46.91 203.84,46.79 204.09,45.04Z" fill="#c0285a"/><g clip-path="url(#cb21)"><path d="M200.51,25.28 L220.55,25.28 L221.98,39.44 L221.27,45.81 L221.98,59.97 L229.14,64.93 L230.58,72.01 L200.51,72.01Z" fill="#b5226e"/><path d="M216.26,33.77 L226.28,23.86 L237.73,16.78 L247.76,13.24 L249.19,19.61 L248.04,25.28 L242.03,26.69 L234.87,29.53 L227.71,32.36 L219.12,34.06Z" fill="#175c8c"/><path d="M218.41,34.06 L227.71,32.36 L234.87,29.53 L242.03,26.69 L248.47,25.28 L249.9,32.36 L249.9,38.73 L243.46,37.31 L234.87,38.73 L227.71,40.15 L220.55,41.56 L218.41,38.02Z" fill="#1f8bd0"/><path d="M247.76,13.24 L257.78,13.95 L258.92,22.44 L259.93,32.36 L260.64,41.56 L256.35,43.69 L250.62,40.15 L249.9,32.36 L249.19,19.61Z" fill="#1ac4ee"/><path d="M257.78,13.95 L271.38,18.19 L269.95,25.28 L267.8,32.36 L266.37,39.44 L262.07,42.98 L259.93,32.36 L258.92,22.44Z" fill="#21d3a6"/><path d="M271.38,18.19 L280.69,23.86 L286.41,32.36 L288.13,42.27 L286.41,52.19 L284.27,58.56 L279.26,59.97 L274.96,53.6 L276.39,39.44 L269.23,38.02 L267.09,38.73 L268.52,32.36 L269.95,25.28Z" fill="#ee4858"/><path d="M263.51,41.56 L269.23,38.02 L275.68,37.31 L274.96,45.1 L274.96,52.19 L280.69,53.6 L281.83,60.68 L274.96,62.1 L270.67,59.97 L267.8,53.6 L264.22,47.94Z" fill="#f7846f"/><path d="M220.55,41.56 L227.71,40.15 L234.87,38.73 L243.46,37.31 L249.9,38.73 L251.34,45.1 L252.77,53.6 L253.48,59.97 L247.76,59.97 L240.6,53.6 L234.87,48.64 L229.14,46.52 L221.27,45.81Z" fill="#d03ef2"/><path d="M221.27,45.81 L229.14,44.4 L234.15,46.52 L234.15,50.77 L230.58,53.6 L230.29,60.97 L224.85,59.55 L220.55,55.3Z" fill="#c7b6f5"/><path d="M229.86,52.89 L234.15,49.64 L239.17,48.22 L247.76,52.89 L256.35,56.15 L261.36,63.52 L258.5,73.43 L246.33,74.85 L234.87,70.6 L228.43,62.81Z" fill="#8c5ec9"/><path d="M249.19,38.73 L254.92,41.56 L262.07,44.4 L267.8,47.94 L269.23,53.6 L263.51,46.8 L254.92,46.1 L250.62,43.69Z" fill="#e69a2a"/><path d="M253.48,46.52 L260.64,45.81 L265.65,48.64 L269.95,53.6 L268.52,59.27 L262.79,59.97 L257.78,56.43 L254.92,52.19Z" fill="#f8cd7a"/><path d="M204.09,45.04C204.33,43.28 204.57,39.68 205.84,37.74C207.1,35.79 209.49,34.7 211.68,33.36C213.87,32.02 216.55,31.29 218.98,29.71C221.41,28.13 223.6,25.82 226.28,23.87C228.95,21.92 231.63,19.66 235.04,18.03C238.44,16.4 242.82,14.7 246.72,14.09C250.61,13.48 254.5,13.72 258.39,14.38C262.29,15.04 266.18,16.33 270.07,18.03C273.97,19.73 278.47,21.8 281.75,24.6C285.04,27.4 287.83,31.17 289.78,34.82C291.73,38.47 293.07,42.85 293.43,46.5C293.8,50.15 293.19,53.8 291.97,56.72C290.75,59.64 288.56,62.19 286.13,64.01C283.7,65.84 280.29,67.18 277.37,67.66C274.45,68.15 271.29,67.79 268.61,66.93C265.94,66.08 262.77,62.8 261.31,62.55C259.85,62.31 260.58,64.38 259.85,65.47C259.12,66.57 258.64,68.2 256.93,69.12C255.23,70.05 252.31,71.02 249.64,71.02C246.96,71.02 243.8,70.29 240.88,69.12C237.96,67.96 234.79,65.6 232.12,64.01C229.44,62.43 227.49,60.85 224.82,59.64C222.14,58.42 218.73,57.81 216.06,56.72C213.38,55.62 210.71,54.48 208.76,53.07C206.81,51.65 205.16,49.59 204.38,48.25C203.6,46.91 203.84,46.79 204.09,45.04Z" fill="url(#edgeShade)"/></g><path d="M204.09,45.04C204.33,43.28 204.57,39.68 205.84,37.74C207.1,35.79 209.49,34.7 211.68,33.36C213.87,32.02 216.55,31.29 218.98,29.71C221.41,28.13 223.6,25.82 226.28,23.87C228.95,21.92 231.63,19.66 235.04,18.03C238.44,16.4 242.82,14.7 246.72,14.09C250.61,13.48 254.5,13.72 258.39,14.38C262.29,15.04 266.18,16.33 270.07,18.03C273.97,19.73 278.47,21.8 281.75,24.6C285.04,27.4 287.83,31.17 289.78,34.82C291.73,38.47 293.07,42.85 293.43,46.5C293.8,50.15 293.19,53.8 291.97,56.72C290.75,59.64 288.56,62.19 286.13,64.01C283.7,65.84 280.29,67.18 277.37,67.66C274.45,68.15 271.29,67.79 268.61,66.93C265.94,66.08 262.77,62.8 261.31,62.55C259.85,62.31 260.58,64.38 259.85,65.47C259.12,66.57 258.64,68.2 256.93,69.12C255.23,70.05 252.31,71.02 249.64,71.02C246.96,71.02 243.8,70.29 240.88,69.12C237.96,67.96 234.79,65.6 232.12,64.01C229.44,62.43 227.49,60.85 224.82,59.64C222.14,58.42 218.73,57.81 216.06,56.72C213.38,55.62 210.71,54.48 208.76,53.07C206.81,51.65 205.16,49.59 204.38,48.25C203.6,46.91 203.84,46.79 204.09,45.04Z" fill="none" stroke="#3a1a2a" stroke-width="0.5" opacity="0.5"/>
<clipPath id="cb25"><path d="M299.11,47.3C299.4,44.97 299.99,41.17 302.26,38.54C304.54,35.91 308.98,34.45 312.78,31.53C316.57,28.61 320.95,23.65 325.04,21.02C329.13,18.4 333.51,16.94 337.3,15.77C341.1,14.6 344.02,14.02 347.81,14.02C351.61,14.02 356.57,14.75 360.08,15.77C363.58,16.79 365.62,17.96 368.84,20.15C372.05,22.34 376.28,25.55 379.35,28.91C382.41,32.26 385.63,36.35 387.23,40.29C388.84,44.24 389.28,48.91 388.98,52.56C388.69,56.21 387.38,59.71 385.48,62.19C383.58,64.68 380.37,66.43 377.6,67.45C374.82,68.47 371.76,69.06 368.84,68.33C365.92,67.6 361.98,64.53 360.08,63.07C358.18,61.61 358.27,58.98 357.45,59.57C356.63,60.15 356.49,64.68 355.17,66.57C353.86,68.47 351.67,70.02 349.57,70.95C347.46,71.89 345.19,72.56 342.56,72.18C339.93,71.8 336.72,70.43 333.8,68.68C330.88,66.92 327.96,63.19 325.04,61.67C322.12,60.15 319.2,60.44 316.28,59.57C313.36,58.69 310.15,57.58 307.52,56.41C304.89,55.24 301.91,54.08 300.51,52.56C299.11,51.04 298.82,49.64 299.11,47.3Z"/></clipPath><path d="M299.11,47.3C299.4,44.97 299.99,41.17 302.26,38.54C304.54,35.91 308.98,34.45 312.78,31.53C316.57,28.61 320.95,23.65 325.04,21.02C329.13,18.4 333.51,16.94 337.3,15.77C341.1,14.6 344.02,14.02 347.81,14.02C351.61,14.02 356.57,14.75 360.08,15.77C363.58,16.79 365.62,17.96 368.84,20.15C372.05,22.34 376.28,25.55 379.35,28.91C382.41,32.26 385.63,36.35 387.23,40.29C388.84,44.24 389.28,48.91 388.98,52.56C388.69,56.21 387.38,59.71 385.48,62.19C383.58,64.68 380.37,66.43 377.6,67.45C374.82,68.47 371.76,69.06 368.84,68.33C365.92,67.6 361.98,64.53 360.08,63.07C358.18,61.61 358.27,58.98 357.45,59.57C356.63,60.15 356.49,64.68 355.17,66.57C353.86,68.47 351.67,70.02 349.57,70.95C347.46,71.89 345.19,72.56 342.56,72.18C339.93,71.8 336.72,70.43 333.8,68.68C330.88,66.92 327.96,63.19 325.04,61.67C322.12,60.15 319.2,60.44 316.28,59.57C313.36,58.69 310.15,57.58 307.52,56.41C304.89,55.24 301.91,54.08 300.51,52.56C299.11,51.04 298.82,49.64 299.11,47.3Z" fill="#c0285a"/><g clip-path="url(#cb25)"><path d="M295.51,25.45 L315.67,25.45 L317.11,39.91 L316.39,46.43 L317.11,60.89 L324.32,65.96 L325.76,73.19 L295.51,73.19Z" fill="#b5226e"/><path d="M311.35,34.13 L321.43,24 L332.96,16.76 L343.04,13.15 L344.48,19.66 L343.33,25.45 L337.28,26.89 L330.08,29.79 L322.87,32.68 L314.23,34.42Z" fill="#175c8c"/><path d="M313.51,34.42 L322.87,32.68 L330.08,29.79 L337.28,26.89 L343.76,25.45 L345.2,32.68 L345.2,39.19 L338.72,37.74 L330.08,39.19 L322.87,40.64 L315.67,42.08 L313.51,38.47Z" fill="#1f8bd0"/><path d="M343.04,13.15 L353.12,13.87 L354.27,22.55 L355.28,32.68 L356,42.08 L351.68,44.25 L345.92,40.64 L345.2,32.68 L344.48,19.66Z" fill="#1ac4ee"/><path d="M353.12,13.87 L366.8,18.21 L365.36,25.45 L363.2,32.68 L361.76,39.91 L357.44,43.53 L355.28,32.68 L354.27,22.55Z" fill="#21d3a6"/><path d="M366.8,18.21 L376.17,24 L381.93,32.68 L383.65,42.81 L381.93,52.94 L379.77,59.45 L374.73,60.89 L370.4,54.38 L371.84,39.91 L364.64,38.47 L362.48,39.19 L363.92,32.68 L365.36,25.45Z" fill="#ee4858"/><path d="M358.88,42.08 L364.64,38.47 L371.12,37.74 L370.4,45.7 L370.4,52.94 L376.17,54.38 L377.32,61.62 L370.4,63.06 L366.08,60.89 L363.2,54.38 L359.6,48.6Z" fill="#f7846f"/><path d="M315.67,42.08 L322.87,40.64 L330.08,39.19 L338.72,37.74 L345.2,39.19 L346.64,45.7 L348.08,54.38 L348.8,60.89 L343.04,60.89 L335.84,54.38 L330.08,49.32 L324.32,47.15 L316.39,46.43Z" fill="#d03ef2"/><path d="M316.39,46.43 L324.32,44.98 L329.36,47.15 L329.36,51.49 L325.76,54.38 L325.47,61.91 L319.99,60.46 L315.67,56.12Z" fill="#c7b6f5"/><path d="M325.04,53.66 L329.36,50.33 L334.4,48.88 L343.04,53.66 L351.68,56.99 L356.72,64.51 L353.84,74.64 L341.6,76.09 L330.08,71.75 L323.59,63.79Z" fill="#8c5ec9"/><path d="M344.48,39.19 L350.24,42.08 L357.44,44.98 L363.2,48.6 L364.64,54.38 L358.88,47.44 L350.24,46.71 L345.92,44.25Z" fill="#e69a2a"/><path d="M348.8,47.15 L356,46.43 L361.04,49.32 L365.36,54.38 L363.92,60.17 L358.16,60.89 L353.12,57.28 L350.24,52.94Z" fill="#f8cd7a"/><path d="M299.11,47.3C299.4,44.97 299.99,41.17 302.26,38.54C304.54,35.91 308.98,34.45 312.78,31.53C316.57,28.61 320.95,23.65 325.04,21.02C329.13,18.4 333.51,16.94 337.3,15.77C341.1,14.6 344.02,14.02 347.81,14.02C351.61,14.02 356.57,14.75 360.08,15.77C363.58,16.79 365.62,17.96 368.84,20.15C372.05,22.34 376.28,25.55 379.35,28.91C382.41,32.26 385.63,36.35 387.23,40.29C388.84,44.24 389.28,48.91 388.98,52.56C388.69,56.21 387.38,59.71 385.48,62.19C383.58,64.68 380.37,66.43 377.6,67.45C374.82,68.47 371.76,69.06 368.84,68.33C365.92,67.6 361.98,64.53 360.08,63.07C358.18,61.61 358.27,58.98 357.45,59.57C356.63,60.15 356.49,64.68 355.17,66.57C353.86,68.47 351.67,70.02 349.57,70.95C347.46,71.89 345.19,72.56 342.56,72.18C339.93,71.8 336.72,70.43 333.8,68.68C330.88,66.92 327.96,63.19 325.04,61.67C322.12,60.15 319.2,60.44 316.28,59.57C313.36,58.69 310.15,57.58 307.52,56.41C304.89,55.24 301.91,54.08 300.51,52.56C299.11,51.04 298.82,49.64 299.11,47.3Z" fill="url(#edgeShade)"/></g><path d="M299.11,47.3C299.4,44.97 299.99,41.17 302.26,38.54C304.54,35.91 308.98,34.45 312.78,31.53C316.57,28.61 320.95,23.65 325.04,21.02C329.13,18.4 333.51,16.94 337.3,15.77C341.1,14.6 344.02,14.02 347.81,14.02C351.61,14.02 356.57,14.75 360.08,15.77C363.58,16.79 365.62,17.96 368.84,20.15C372.05,22.34 376.28,25.55 379.35,28.91C382.41,32.26 385.63,36.35 387.23,40.29C388.84,44.24 389.28,48.91 388.98,52.56C388.69,56.21 387.38,59.71 385.48,62.19C383.58,64.68 380.37,66.43 377.6,67.45C374.82,68.47 371.76,69.06 368.84,68.33C365.92,67.6 361.98,64.53 360.08,63.07C358.18,61.61 358.27,58.98 357.45,59.57C356.63,60.15 356.49,64.68 355.17,66.57C353.86,68.47 351.67,70.02 349.57,70.95C347.46,71.89 345.19,72.56 342.56,72.18C339.93,71.8 336.72,70.43 333.8,68.68C330.88,66.92 327.96,63.19 325.04,61.67C322.12,60.15 319.2,60.44 316.28,59.57C313.36,58.69 310.15,57.58 307.52,56.41C304.89,55.24 301.91,54.08 300.51,52.56C299.11,51.04 298.82,49.64 299.11,47.3Z" fill="none" stroke="#3a1a2a" stroke-width="0.5" opacity="0.5"/>
<clipPath id="cb29"><path d="M393.85,47.3C394,46.19 394.31,44.34 394.83,42.88C395.36,41.42 395.86,39.88 397.01,38.54C398.15,37.21 399.94,36.03 401.69,34.86C403.44,33.7 405.9,32.88 407.52,31.53C409.14,30.19 409.95,28.26 411.41,26.8C412.87,25.34 414.79,23.97 416.28,22.78C417.76,21.58 418.86,20.53 420.32,19.65C421.78,18.77 423.55,18.38 425.04,17.52C426.53,16.66 427.8,15.31 429.26,14.49C430.72,13.67 432.46,12.91 433.8,12.61C435.14,12.32 436.12,12.48 437.29,12.71C438.46,12.95 439.32,13.75 440.81,14.02C442.29,14.28 444.46,14.02 446.21,14.31C447.97,14.6 449.54,15.24 451.32,15.77C453.1,16.29 455.15,16.73 456.91,17.46C458.66,18.19 460.05,18.95 461.83,20.15C463.61,21.34 465.82,23.01 467.57,24.62C469.32,26.22 470.87,27.92 472.34,29.78C473.82,31.64 475.26,33.72 476.42,35.76C477.59,37.81 478.69,39.97 479.35,42.05C480.01,44.12 480.24,46.17 480.39,48.21C480.53,50.25 480.54,52.56 480.22,54.31C479.91,56.06 479.06,57.23 478.47,58.69C477.89,60.15 477.67,61.97 476.72,63.07C475.77,64.16 474.09,64.53 472.78,65.26C471.46,65.99 470.22,67.16 468.84,67.45C467.45,67.74 465.92,67.16 464.46,67.01C463,66.87 461.46,67.16 460.08,66.57C458.69,65.99 457.45,64.53 456.14,63.51C454.82,62.49 453.07,60.56 452.19,60.44C451.32,60.32 451.32,62.02 450.88,62.81C450.44,63.59 450.08,64.43 449.57,65.17C449.05,65.92 448.4,66.57 447.81,67.27C447.23,67.97 446.94,68.89 446.06,69.38C445.19,69.86 443.73,69.9 442.56,70.16C441.39,70.43 440.37,71.16 439.05,70.95C437.74,70.75 436.13,69.61 434.67,68.94C433.21,68.27 431.75,67.77 430.29,66.92C428.83,66.08 427.37,64.88 425.91,63.86C424.45,62.84 423.14,61.55 421.53,60.79C419.93,60.03 418.03,59.8 416.28,59.3C414.53,58.81 412.78,58.35 411.02,57.81C409.27,57.27 407.52,56.65 405.77,56.06C404.02,55.48 401.83,54.82 400.51,54.31C399.2,53.8 398.76,53.43 397.88,53C397.01,52.56 395.91,52.26 395.26,51.68C394.6,51.11 394.19,50.27 393.96,49.54C393.72,48.81 393.71,48.41 393.85,47.3Z"/></clipPath><path d="M393.85,47.3C394,46.19 394.31,44.34 394.83,42.88C395.36,41.42 395.86,39.88 397.01,38.54C398.15,37.21 399.94,36.03 401.69,34.86C403.44,33.7 405.9,32.88 407.52,31.53C409.14,30.19 409.95,28.26 411.41,26.8C412.87,25.34 414.79,23.97 416.28,22.78C417.76,21.58 418.86,20.53 420.32,19.65C421.78,18.77 423.55,18.38 425.04,17.52C426.53,16.66 427.8,15.31 429.26,14.49C430.72,13.67 432.46,12.91 433.8,12.61C435.14,12.32 436.12,12.48 437.29,12.71C438.46,12.95 439.32,13.75 440.81,14.02C442.29,14.28 444.46,14.02 446.21,14.31C447.97,14.6 449.54,15.24 451.32,15.77C453.1,16.29 455.15,16.73 456.91,17.46C458.66,18.19 460.05,18.95 461.83,20.15C463.61,21.34 465.82,23.01 467.57,24.62C469.32,26.22 470.87,27.92 472.34,29.78C473.82,31.64 475.26,33.72 476.42,35.76C477.59,37.81 478.69,39.97 479.35,42.05C480.01,44.12 480.24,46.17 480.39,48.21C480.53,50.25 480.54,52.56 480.22,54.31C479.91,56.06 479.06,57.23 478.47,58.69C477.89,60.15 477.67,61.97 476.72,63.07C475.77,64.16 474.09,64.53 472.78,65.26C471.46,65.99 470.22,67.16 468.84,67.45C467.45,67.74 465.92,67.16 464.46,67.01C463,66.87 461.46,67.16 460.08,66.57C458.69,65.99 457.45,64.53 456.14,63.51C454.82,62.49 453.07,60.56 452.19,60.44C451.32,60.32 451.32,62.02 450.88,62.81C450.44,63.59 450.08,64.43 449.57,65.17C449.05,65.92 448.4,66.57 447.81,67.27C447.23,67.97 446.94,68.89 446.06,69.38C445.19,69.86 443.73,69.9 442.56,70.16C441.39,70.43 440.37,71.16 439.05,70.95C437.74,70.75 436.13,69.61 434.67,68.94C433.21,68.27 431.75,67.77 430.29,66.92C428.83,66.08 427.37,64.88 425.91,63.86C424.45,62.84 423.14,61.55 421.53,60.79C419.93,60.03 418.03,59.8 416.28,59.3C414.53,58.81 412.78,58.35 411.02,57.81C409.27,57.27 407.52,56.65 405.77,56.06C404.02,55.48 401.83,54.82 400.51,54.31C399.2,53.8 398.76,53.43 397.88,53C397.01,52.56 395.91,52.26 395.26,51.68C394.6,51.11 394.19,50.27 393.96,49.54C393.72,48.81 393.71,48.41 393.85,47.3Z" fill="#c0285a"/><g clip-path="url(#cb29)"><path d="M389.42,37.11 L409.39,29.69 L411.6,37.11 L415.3,41.56 L413.08,46.01 L411.9,58.63 L420.48,63.83 L421.96,72.73 L389.42,72.73Z" fill="#b8206e"/><path d="M410.13,29.69 L416.04,23.75 L424.92,16.33 L433.79,11.13 L436.75,14.84 L435.27,22.26 L427.88,26.72 L419,29.69 L411.6,32.65Z" fill="#1a5a8c"/><path d="M407.91,32.65 L419,29.69 L427.88,26.72 L435.27,22.26 L438.23,25.23 L436.75,34.14 L433.79,37.11 L426.4,39.33 L419,40.82 L411.6,39.33Z" fill="#1a98d8"/><path d="M433.79,11.87 L441.19,14.1 L445.62,22.26 L448.58,32.65 L451.54,41.56 L447.1,43.05 L438.23,38.59 L433.79,36.37 L436.75,29.69 L436.75,20.78Z" fill="#18c0ee"/><path d="M439.71,13.36 L451.54,15.58 L455.24,22.26 L454.5,34.14 L453.02,43.05 L450.06,43.05 L447.1,32.65 L445.62,22.26Z" fill="#1ecca6"/><path d="M451.54,15.58 L457.46,17.81 L456.72,22.26 L452.28,21.52Z" fill="#20a050"/><path d="M456.72,17.81 L466.33,23.01 L474.47,31.91 L478.17,44.53 L476.69,54.92 L472.25,59.37 L466.33,56.41 L464.85,46.01 L458.94,44.53 L454.5,43.05 L454.5,32.65 L455.98,22.26Z" fill="#ea4a58"/><path d="M454.5,41.56 L460.42,40.08 L466.33,44.53 L469.29,54.92 L466.33,60.86 L458.94,60.86 L455.98,54.92 L457.46,48.98Z" fill="#f4806a"/><path d="M411.6,38.89 L426.4,37.55 L433.79,39.04 L439.71,44.53 L445.62,50.47 L450.06,57.89 L445.62,59.97 L438.23,56.41 L430.83,50.76 L423.44,47.8 L413.08,46.9Z" fill="#d040f0"/><path d="M411.6,44.53 L423.44,43.05 L424.92,48.98 L421.96,54.92 L421.22,60.86 L414.56,58.63 L411.6,51.95Z" fill="#c8b8f4"/><path d="M421.22,48.98 L430.83,47.5 L438.23,53.44 L447.1,57.89 L450.8,64.57 L447.84,72.73 L439.71,72.73 L430.83,69.77 L423.44,63.09 L420.48,56.41Z" fill="#8c5cc8"/><path d="M433.79,39.33 L439.71,43.05 L448.58,46.01 L457.46,48.24 L458.94,51.95 L455.98,56.41 L451.54,57.89 L447.1,54.92 L441.19,48.98Z" fill="#f8cc78"/><path d="M432.31,37.11 L436.75,37.85 L440.45,42.3 L435.27,40.82Z" fill="#e09020"/><path d="M442.31,13.78C441.88,15.04 440.58,18.84 439.72,21.36C438.85,23.89 437.99,26.71 437.12,28.95C436.25,31.19 434.96,33.81 434.52,34.78" fill="none" stroke="#1a1030" stroke-width="0.8" stroke-linecap="round" opacity="0.35"/><path d="M434.52,15.53C434.09,16.79 432.79,20.68 431.93,23.11C431.06,25.55 429.91,27.98 429.33,30.12C428.76,32.25 428.61,34.98 428.47,35.95" fill="none" stroke="#1a1030" stroke-width="0.8" stroke-linecap="round" opacity="0.35"/><path d="M449.23,16.11C448.8,17.48 447.5,21.66 446.64,24.28C445.77,26.91 444.76,29.44 444.04,31.87C443.32,34.3 442.6,37.7 442.31,38.87" fill="none" stroke="#1a1030" stroke-width="0.8" stroke-linecap="round" opacity="0.35"/><path d="M447.5,21.95C448.95,22.34 453.27,23.11 456.16,24.28C459.04,25.45 462.21,27 464.81,28.95C467.41,30.89 470.58,34.78 471.73,35.95" fill="none" stroke="#1a1030" stroke-width="0.8" stroke-linecap="round" opacity="0.35"/><path d="M445.77,33.62C447.22,34 451.54,34.78 454.43,35.95C457.31,37.12 460.48,38.48 463.08,40.62C465.68,42.76 468.85,47.42 470,48.78" fill="none" stroke="#1a1030" stroke-width="0.8" stroke-linecap="round" opacity="0.35"/><path d="M450.96,41.78C451.83,42.37 455.58,44.12 456.16,45.28C456.73,46.45 454.71,48.2 454.43,48.78" fill="none" stroke="#1a1030" stroke-width="0.8" stroke-linecap="round" opacity="0.35"/><path d="M419.81,23.11C420.68,23.89 424.43,26.03 425.01,27.78C425.58,29.53 424.14,31.67 423.27,33.62C422.41,35.56 420.39,38.48 419.81,39.45" fill="none" stroke="#1a1030" stroke-width="0.8" stroke-linecap="round" opacity="0.35"/><path d="M407.7,30.12C408.85,30.5 412.89,31.09 414.62,32.45C416.35,33.81 417.51,37.31 418.08,38.28" fill="none" stroke="#1a1030" stroke-width="0.8" stroke-linecap="round" opacity="0.35"/><path d="M399.05,41.78C400.2,42.17 403.66,43.34 405.97,44.12C408.28,44.89 410.58,45.67 412.89,46.45C415.2,47.23 418.66,48.4 419.81,48.78" fill="none" stroke="#1a1030" stroke-width="0.8" stroke-linecap="round" opacity="0.35"/><path d="M423.27,51.12C424.72,51.7 429.04,53.26 431.93,54.62C434.81,55.98 437.99,57.54 440.58,59.29C443.18,61.04 446.35,64.15 447.5,65.12" fill="none" stroke="#1a1030" stroke-width="0.8" stroke-linecap="round" opacity="0.35"/><path d="M419.81,58.12C421.26,58.7 425.58,60.26 428.47,61.62C431.35,62.98 435.68,65.51 437.12,66.29" fill="none" stroke="#1a1030" stroke-width="0.8" stroke-linecap="round" opacity="0.35"/><path d="M461.35,53.45C462.5,54.23 465.96,56.95 468.27,58.12C470.58,59.29 474.04,60.06 475.19,60.45" fill="none" stroke="#1a1030" stroke-width="0.8" stroke-linecap="round" opacity="0.35"/><path d="M411.16,19.61C412.03,20 415.49,21.56 416.35,21.95" fill="none" stroke="#1a1030" stroke-width="0.8" stroke-linecap="round" opacity="0.35"/><path d="M457.89,18.45C458.46,18.84 461.06,19.61 461.35,20.78C461.64,21.95 459.91,24.67 459.62,25.45" fill="none" stroke="#1a1030" stroke-width="0.8" stroke-linecap="round" opacity="0.35"/><path d="M393.85,47.3C394,46.19 394.31,44.34 394.83,42.88C395.36,41.42 395.86,39.88 397.01,38.54C398.15,37.21 399.94,36.03 401.69,34.86C403.44,33.7 405.9,32.88 407.52,31.53C409.14,30.19 409.95,28.26 411.41,26.8C412.87,25.34 414.79,23.97 416.28,22.78C417.76,21.58 418.86,20.53 420.32,19.65C421.78,18.77 423.55,18.38 425.04,17.52C426.53,16.66 427.8,15.31 429.26,14.49C430.72,13.67 432.46,12.91 433.8,12.61C435.14,12.32 436.12,12.48 437.29,12.71C438.46,12.95 439.32,13.75 440.81,14.02C442.29,14.28 444.46,14.02 446.21,14.31C447.97,14.6 449.54,15.24 451.32,15.77C453.1,16.29 455.15,16.73 456.91,17.46C458.66,18.19 460.05,18.95 461.83,20.15C463.61,21.34 465.82,23.01 467.57,24.62C469.32,26.22 470.87,27.92 472.34,29.78C473.82,31.64 475.26,33.72 476.42,35.76C477.59,37.81 478.69,39.97 479.35,42.05C480.01,44.12 480.24,46.17 480.39,48.21C480.53,50.25 480.54,52.56 480.22,54.31C479.91,56.06 479.06,57.23 478.47,58.69C477.89,60.15 477.67,61.97 476.72,63.07C475.77,64.16 474.09,64.53 472.78,65.26C471.46,65.99 470.22,67.16 468.84,67.45C467.45,67.74 465.92,67.16 464.46,67.01C463,66.87 461.46,67.16 460.08,66.57C458.69,65.99 457.45,64.53 456.14,63.51C454.82,62.49 453.07,60.56 452.19,60.44C451.32,60.32 451.32,62.02 450.88,62.81C450.44,63.59 450.08,64.43 449.57,65.17C449.05,65.92 448.4,66.57 447.81,67.27C447.23,67.97 446.94,68.89 446.06,69.38C445.19,69.86 443.73,69.9 442.56,70.16C441.39,70.43 440.37,71.16 439.05,70.95C437.74,70.75 436.13,69.61 434.67,68.94C433.21,68.27 431.75,67.77 430.29,66.92C428.83,66.08 427.37,64.88 425.91,63.86C424.45,62.84 423.14,61.55 421.53,60.79C419.93,60.03 418.03,59.8 416.28,59.3C414.53,58.81 412.78,58.35 411.02,57.81C409.27,57.27 407.52,56.65 405.77,56.06C404.02,55.48 401.83,54.82 400.51,54.31C399.2,53.8 398.76,53.43 397.88,53C397.01,52.56 395.91,52.26 395.26,51.68C394.6,51.11 394.19,50.27 393.96,49.54C393.72,48.81 393.71,48.41 393.85,47.3Z" fill="url(#edgeShade)"/></g><path d="M393.85,47.3C394,46.19 394.31,44.34 394.83,42.88C395.36,41.42 395.86,39.88 397.01,38.54C398.15,37.21 399.94,36.03 401.69,34.86C403.44,33.7 405.9,32.88 407.52,31.53C409.14,30.19 409.95,28.26 411.41,26.8C412.87,25.34 414.79,23.97 416.28,22.78C417.76,21.58 418.86,20.53 420.32,19.65C421.78,18.77 423.55,18.38 425.04,17.52C426.53,16.66 427.8,15.31 429.26,14.49C430.72,13.67 432.46,12.91 433.8,12.61C435.14,12.32 436.12,12.48 437.29,12.71C438.46,12.95 439.32,13.75 440.81,14.02C442.29,14.28 444.46,14.02 446.21,14.31C447.97,14.6 449.54,15.24 451.32,15.77C453.1,16.29 455.15,16.73 456.91,17.46C458.66,18.19 460.05,18.95 461.83,20.15C463.61,21.34 465.82,23.01 467.57,24.62C469.32,26.22 470.87,27.92 472.34,29.78C473.82,31.64 475.26,33.72 476.42,35.76C477.59,37.81 478.69,39.97 479.35,42.05C480.01,44.12 480.24,46.17 480.39,48.21C480.53,50.25 480.54,52.56 480.22,54.31C479.91,56.06 479.06,57.23 478.47,58.69C477.89,60.15 477.67,61.97 476.72,63.07C475.77,64.16 474.09,64.53 472.78,65.26C471.46,65.99 470.22,67.16 468.84,67.45C467.45,67.74 465.92,67.16 464.46,67.01C463,66.87 461.46,67.16 460.08,66.57C458.69,65.99 457.45,64.53 456.14,63.51C454.82,62.49 453.07,60.56 452.19,60.44C451.32,60.32 451.32,62.02 450.88,62.81C450.44,63.59 450.08,64.43 449.57,65.17C449.05,65.92 448.4,66.57 447.81,67.27C447.23,67.97 446.94,68.89 446.06,69.38C445.19,69.86 443.73,69.9 442.56,70.16C441.39,70.43 440.37,71.16 439.05,70.95C437.74,70.75 436.13,69.61 434.67,68.94C433.21,68.27 431.75,67.77 430.29,66.92C428.83,66.08 427.37,64.88 425.91,63.86C424.45,62.84 423.14,61.55 421.53,60.79C419.93,60.03 418.03,59.8 416.28,59.3C414.53,58.81 412.78,58.35 411.02,57.81C409.27,57.27 407.52,56.65 405.77,56.06C404.02,55.48 401.83,54.82 400.51,54.31C399.2,53.8 398.76,53.43 397.88,53C397.01,52.56 395.91,52.26 395.26,51.68C394.6,51.11 394.19,50.27 393.96,49.54C393.72,48.81 393.71,48.41 393.85,47.3Z" fill="none" stroke="#3a1a2a" stroke-width="0.5" opacity="0.5"/>
<clipPath id="cb33"><path d="M485.11,43.77C485.11,42.52 485.14,40.92 485.75,39.58C486.35,38.25 487.59,37.18 488.76,35.74C489.93,34.29 491.05,32.37 492.76,30.91C494.46,29.45 497.36,28.37 498.98,26.98C500.59,25.58 500.99,23.76 502.45,22.54C503.91,21.33 505.73,20.85 507.74,19.68C509.75,18.51 512.08,16.56 514.51,15.53C516.95,14.51 520.32,14.03 522.34,13.55C524.35,13.07 525.16,12.55 526.62,12.64C528.08,12.74 529.33,13.8 531.09,14.13C532.86,14.47 535.29,14.09 537.24,14.65C539.18,15.21 540.76,16.75 542.77,17.49C544.79,18.23 547.39,18.24 549.34,19.09C551.29,19.94 552.58,21.26 554.45,22.6C556.33,23.93 558.89,25.39 560.59,27.1C562.3,28.8 563.37,30.93 564.67,32.82C565.97,34.71 567.55,36.49 568.41,38.44C569.26,40.39 569.41,42.62 569.78,44.5C570.15,46.38 570.73,48.02 570.61,49.72C570.49,51.42 569.8,53.27 569.05,54.72C568.3,56.16 567.1,57.15 566.13,58.36C565.16,59.58 564.43,61.16 563.21,62.01C562,62.87 560.29,62.99 558.83,63.47C557.37,63.96 556.03,64.93 554.45,64.93C552.87,64.93 551.05,63.96 549.34,63.47C547.64,62.99 545.39,62.11 544.23,62.01C543.08,61.92 543.02,62.6 542.41,62.89C541.8,63.18 540.95,63.28 540.58,63.77C540.22,64.25 540.34,65.13 540.22,65.81C540.1,66.49 540.52,67.27 539.85,67.85C539.18,68.44 537.42,68.83 536.2,69.31C534.99,69.8 533.89,70.77 532.55,70.77C531.22,70.77 529.64,69.8 528.18,69.31C526.72,68.83 525.26,68.71 523.8,67.85C522.34,67 520.88,65.42 519.42,64.2C517.96,62.99 516.5,61.53 515.04,60.55C513.58,59.58 512.12,59.09 510.66,58.36C509.2,57.64 507.74,56.78 506.28,56.18C504.82,55.57 503.36,55.2 501.9,54.72C500.44,54.23 498.98,53.74 497.52,53.26C496.06,52.77 494.6,52.28 493.14,51.8C491.68,51.31 489.99,51.12 488.76,50.34C487.53,49.55 486.34,48.18 485.73,47.09C485.13,45.99 485.11,45.02 485.11,43.77Z"/></clipPath><path d="M485.11,43.77C485.11,42.52 485.14,40.92 485.75,39.58C486.35,38.25 487.59,37.18 488.76,35.74C489.93,34.29 491.05,32.37 492.76,30.91C494.46,29.45 497.36,28.37 498.98,26.98C500.59,25.58 500.99,23.76 502.45,22.54C503.91,21.33 505.73,20.85 507.74,19.68C509.75,18.51 512.08,16.56 514.51,15.53C516.95,14.51 520.32,14.03 522.34,13.55C524.35,13.07 525.16,12.55 526.62,12.64C528.08,12.74 529.33,13.8 531.09,14.13C532.86,14.47 535.29,14.09 537.24,14.65C539.18,15.21 540.76,16.75 542.77,17.49C544.79,18.23 547.39,18.24 549.34,19.09C551.29,19.94 552.58,21.26 554.45,22.6C556.33,23.93 558.89,25.39 560.59,27.1C562.3,28.8 563.37,30.93 564.67,32.82C565.97,34.71 567.55,36.49 568.41,38.44C569.26,40.39 569.41,42.62 569.78,44.5C570.15,46.38 570.73,48.02 570.61,49.72C570.49,51.42 569.8,53.27 569.05,54.72C568.3,56.16 567.1,57.15 566.13,58.36C565.16,59.58 564.43,61.16 563.21,62.01C562,62.87 560.29,62.99 558.83,63.47C557.37,63.96 556.03,64.93 554.45,64.93C552.87,64.93 551.05,63.96 549.34,63.47C547.64,62.99 545.39,62.11 544.23,62.01C543.08,61.92 543.02,62.6 542.41,62.89C541.8,63.18 540.95,63.28 540.58,63.77C540.22,64.25 540.34,65.13 540.22,65.81C540.1,66.49 540.52,67.27 539.85,67.85C539.18,68.44 537.42,68.83 536.2,69.31C534.99,69.8 533.89,70.77 532.55,70.77C531.22,70.77 529.64,69.8 528.18,69.31C526.72,68.83 525.26,68.71 523.8,67.85C522.34,67 520.88,65.42 519.42,64.2C517.96,62.99 516.5,61.53 515.04,60.55C513.58,59.58 512.12,59.09 510.66,58.36C509.2,57.64 507.74,56.78 506.28,56.18C504.82,55.57 503.36,55.2 501.9,54.72C500.44,54.23 498.98,53.74 497.52,53.26C496.06,52.77 494.6,52.28 493.14,51.8C491.68,51.31 489.99,51.12 488.76,50.34C487.53,49.55 486.34,48.18 485.73,47.09C485.13,45.99 485.11,45.02 485.11,43.77Z" fill="#c0285a"/><g clip-path="url(#cb33)"><path d="M480.72,37.05 L500.46,29.65 L502.65,37.05 L506.3,41.49 L504.11,45.92 L502.94,58.5 L511.42,63.67 L512.88,72.55 L480.72,72.55Z" fill="#b8206e"/><path d="M501.19,29.65 L507.03,23.74 L515.8,16.34 L524.57,11.16 L527.49,14.86 L526.03,22.26 L518.73,26.69 L509.96,29.65 L502.65,32.61Z" fill="#1a5a8c"/><path d="M498.99,32.61 L509.96,29.65 L518.73,26.69 L526.03,22.26 L528.96,25.22 L527.49,34.09 L524.57,37.05 L517.26,39.27 L509.96,40.75 L502.65,39.27Z" fill="#1a98d8"/><path d="M524.57,11.9 L531.88,14.12 L536.26,22.26 L539.19,32.61 L542.11,41.49 L537.73,42.97 L528.96,38.53 L524.57,36.31 L527.49,29.65 L527.49,20.78Z" fill="#18c0ee"/><path d="M530.42,13.38 L542.11,15.6 L545.76,22.26 L545.03,34.09 L543.57,42.97 L540.65,42.97 L537.73,32.61 L536.26,22.26Z" fill="#1ecca6"/><path d="M542.11,15.6 L547.96,17.82 L547.23,22.26 L542.84,21.52Z" fill="#20a050"/><path d="M547.23,17.82 L556.73,23 L564.76,31.87 L568.42,44.44 L566.96,54.8 L562.57,59.24 L556.73,56.28 L555.26,45.92 L549.42,44.44 L545.03,42.97 L545.03,32.61 L546.49,22.26Z" fill="#ea4a58"/><path d="M545.03,41.49 L550.88,40.01 L556.73,44.44 L559.65,54.8 L556.73,60.72 L549.42,60.72 L546.49,54.8 L547.96,48.88Z" fill="#f4806a"/><path d="M502.65,38.82 L517.26,37.49 L524.57,38.97 L530.42,44.44 L536.26,50.36 L540.65,57.76 L536.26,59.83 L528.96,56.28 L521.65,50.66 L514.34,47.7 L504.11,46.81Z" fill="#d040f0"/><path d="M502.65,44.44 L514.34,42.97 L515.8,48.88 L512.88,54.8 L512.15,60.72 L505.57,58.5 L502.65,51.84Z" fill="#c8b8f4"/><path d="M512.15,48.88 L521.65,47.4 L528.96,53.32 L537.73,57.76 L541.38,64.41 L538.46,72.55 L530.42,72.55 L521.65,69.59 L514.34,62.93 L511.42,56.28Z" fill="#8c5cc8"/><path d="M524.57,39.27 L530.42,42.97 L539.19,45.92 L547.96,48.14 L549.42,51.84 L546.49,56.28 L542.11,57.76 L537.73,54.8 L531.88,48.88Z" fill="#f8cc78"/><path d="M523.11,37.05 L527.49,37.79 L531.15,42.23 L526.03,40.75Z" fill="#e09020"/><path d="M532.99,13.81C532.56,15.06 531.28,18.84 530.43,21.36C529.57,23.88 528.71,26.69 527.86,28.92C527,31.15 525.72,33.76 525.29,34.73" fill="none" stroke="#1a1030" stroke-width="0.8" stroke-linecap="round" opacity="0.45"/><path d="M525.29,15.55C524.87,16.81 523.58,20.68 522.73,23.11C521.87,25.53 520.73,27.95 520.16,30.08C519.59,32.21 519.45,34.93 519.31,35.9" fill="none" stroke="#1a1030" stroke-width="0.8" stroke-linecap="round" opacity="0.45"/><path d="M539.83,16.13C539.4,17.49 538.12,21.65 537.27,24.27C536.41,26.88 535.41,29.4 534.7,31.83C533.99,34.25 533.28,37.64 532.99,38.8" fill="none" stroke="#1a1030" stroke-width="0.8" stroke-linecap="round" opacity="0.45"/><path d="M538.12,21.94C539.55,22.33 543.82,23.11 546.67,24.27C549.52,25.43 552.66,26.98 555.22,28.92C557.79,30.86 560.92,34.73 562.06,35.9" fill="none" stroke="#1a1030" stroke-width="0.8" stroke-linecap="round" opacity="0.45"/><path d="M536.41,33.57C537.84,33.96 542.11,34.73 544.96,35.9C547.81,37.06 550.95,38.41 553.51,40.55C556.08,42.68 559.21,47.33 560.35,48.68" fill="none" stroke="#1a1030" stroke-width="0.8" stroke-linecap="round" opacity="0.45"/><path d="M541.54,41.71C542.4,42.29 546.1,44.03 546.67,45.2C547.24,46.36 545.25,48.1 544.96,48.68" fill="none" stroke="#1a1030" stroke-width="0.8" stroke-linecap="round" opacity="0.45"/><path d="M510.76,23.11C511.61,23.88 515.32,26.01 515.89,27.76C516.46,29.5 515.03,31.63 514.18,33.57C513.32,35.51 511.33,38.41 510.76,39.38" fill="none" stroke="#1a1030" stroke-width="0.8" stroke-linecap="round" opacity="0.45"/><path d="M498.79,30.08C499.93,30.47 503.92,31.05 505.63,32.41C507.34,33.76 508.48,37.25 509.05,38.22" fill="none" stroke="#1a1030" stroke-width="0.8" stroke-linecap="round" opacity="0.45"/><path d="M490.24,41.71C491.38,42.1 494.8,43.26 497.08,44.03C499.36,44.81 501.64,45.58 503.92,46.36C506.2,47.13 509.62,48.3 510.76,48.68" fill="none" stroke="#1a1030" stroke-width="0.8" stroke-linecap="round" opacity="0.45"/><path d="M514.18,51.01C515.6,51.59 519.88,53.14 522.73,54.5C525.58,55.85 528.71,57.4 531.28,59.15C533.85,60.89 536.98,63.99 538.12,64.96" fill="none" stroke="#1a1030" stroke-width="0.8" stroke-linecap="round" opacity="0.45"/><path d="M510.76,57.98C512.18,58.57 516.46,60.12 519.31,61.47C522.16,62.83 526.43,65.35 527.86,66.12" fill="none" stroke="#1a1030" stroke-width="0.8" stroke-linecap="round" opacity="0.45"/><path d="M551.8,53.33C552.94,54.11 556.36,56.82 558.64,57.98C560.92,59.15 564.34,59.92 565.48,60.31" fill="none" stroke="#1a1030" stroke-width="0.8" stroke-linecap="round" opacity="0.45"/><path d="M502.21,19.62C503.06,20.01 506.48,21.56 507.34,21.94" fill="none" stroke="#1a1030" stroke-width="0.8" stroke-linecap="round" opacity="0.45"/><path d="M548.38,18.46C548.95,18.84 551.52,19.62 551.8,20.78C552.09,21.94 550.38,24.66 550.09,25.43" fill="none" stroke="#1a1030" stroke-width="0.8" stroke-linecap="round" opacity="0.45"/><path d="M485.11,43.77C485.11,42.52 485.14,40.92 485.75,39.58C486.35,38.25 487.59,37.18 488.76,35.74C489.93,34.29 491.05,32.37 492.76,30.91C494.46,29.45 497.36,28.37 498.98,26.98C500.59,25.58 500.99,23.76 502.45,22.54C503.91,21.33 505.73,20.85 507.74,19.68C509.75,18.51 512.08,16.56 514.51,15.53C516.95,14.51 520.32,14.03 522.34,13.55C524.35,13.07 525.16,12.55 526.62,12.64C528.08,12.74 529.33,13.8 531.09,14.13C532.86,14.47 535.29,14.09 537.24,14.65C539.18,15.21 540.76,16.75 542.77,17.49C544.79,18.23 547.39,18.24 549.34,19.09C551.29,19.94 552.58,21.26 554.45,22.6C556.33,23.93 558.89,25.39 560.59,27.1C562.3,28.8 563.37,30.93 564.67,32.82C565.97,34.71 567.55,36.49 568.41,38.44C569.26,40.39 569.41,42.62 569.78,44.5C570.15,46.38 570.73,48.02 570.61,49.72C570.49,51.42 569.8,53.27 569.05,54.72C568.3,56.16 567.1,57.15 566.13,58.36C565.16,59.58 564.43,61.16 563.21,62.01C562,62.87 560.29,62.99 558.83,63.47C557.37,63.96 556.03,64.93 554.45,64.93C552.87,64.93 551.05,63.96 549.34,63.47C547.64,62.99 545.39,62.11 544.23,62.01C543.08,61.92 543.02,62.6 542.41,62.89C541.8,63.18 540.95,63.28 540.58,63.77C540.22,64.25 540.34,65.13 540.22,65.81C540.1,66.49 540.52,67.27 539.85,67.85C539.18,68.44 537.42,68.83 536.2,69.31C534.99,69.8 533.89,70.77 532.55,70.77C531.22,70.77 529.64,69.8 528.18,69.31C526.72,68.83 525.26,68.71 523.8,67.85C522.34,67 520.88,65.42 519.42,64.2C517.96,62.99 516.5,61.53 515.04,60.55C513.58,59.58 512.12,59.09 510.66,58.36C509.2,57.64 507.74,56.78 506.28,56.18C504.82,55.57 503.36,55.2 501.9,54.72C500.44,54.23 498.98,53.74 497.52,53.26C496.06,52.77 494.6,52.28 493.14,51.8C491.68,51.31 489.99,51.12 488.76,50.34C487.53,49.55 486.34,48.18 485.73,47.09C485.13,45.99 485.11,45.02 485.11,43.77Z" fill="url(#edgeShade)"/></g><path d="M485.11,43.77C485.11,42.52 485.14,40.92 485.75,39.58C486.35,38.25 487.59,37.18 488.76,35.74C489.93,34.29 491.05,32.37 492.76,30.91C494.46,29.45 497.36,28.37 498.98,26.98C500.59,25.58 500.99,23.76 502.45,22.54C503.91,21.33 505.73,20.85 507.74,19.68C509.75,18.51 512.08,16.56 514.51,15.53C516.95,14.51 520.32,14.03 522.34,13.55C524.35,13.07 525.16,12.55 526.62,12.64C528.08,12.74 529.33,13.8 531.09,14.13C532.86,14.47 535.29,14.09 537.24,14.65C539.18,15.21 540.76,16.75 542.77,17.49C544.79,18.23 547.39,18.24 549.34,19.09C551.29,19.94 552.58,21.26 554.45,22.6C556.33,23.93 558.89,25.39 560.59,27.1C562.3,28.8 563.37,30.93 564.67,32.82C565.97,34.71 567.55,36.49 568.41,38.44C569.26,40.39 569.41,42.62 569.78,44.5C570.15,46.38 570.73,48.02 570.61,49.72C570.49,51.42 569.8,53.27 569.05,54.72C568.3,56.16 567.1,57.15 566.13,58.36C565.16,59.58 564.43,61.16 563.21,62.01C562,62.87 560.29,62.99 558.83,63.47C557.37,63.96 556.03,64.93 554.45,64.93C552.87,64.93 551.05,63.96 549.34,63.47C547.64,62.99 545.39,62.11 544.23,62.01C543.08,61.92 543.02,62.6 542.41,62.89C541.8,63.18 540.95,63.28 540.58,63.77C540.22,64.25 540.34,65.13 540.22,65.81C540.1,66.49 540.52,67.27 539.85,67.85C539.18,68.44 537.42,68.83 536.2,69.31C534.99,69.8 533.89,70.77 532.55,70.77C531.22,70.77 529.64,69.8 528.18,69.31C526.72,68.83 525.26,68.71 523.8,67.85C522.34,67 520.88,65.42 519.42,64.2C517.96,62.99 516.5,61.53 515.04,60.55C513.58,59.58 512.12,59.09 510.66,58.36C509.2,57.64 507.74,56.78 506.28,56.18C504.82,55.57 503.36,55.2 501.9,54.72C500.44,54.23 498.98,53.74 497.52,53.26C496.06,52.77 494.6,52.28 493.14,51.8C491.68,51.31 489.99,51.12 488.76,50.34C487.53,49.55 486.34,48.18 485.73,47.09C485.13,45.99 485.11,45.02 485.11,43.77Z" fill="none" stroke="#3a1a2a" stroke-width="0.5" opacity="0.5"/>
<clipPath id="cb36"><path d="M576.39,42.05C576.54,40.69 576.66,39.54 577.39,38.37C578.12,37.2 579.81,36.17 580.77,35.04C581.73,33.91 581.97,32.59 583.14,31.57C584.31,30.55 586.44,30.05 587.78,28.91C589.11,27.76 589.71,25.88 591.17,24.72C592.63,23.55 595.18,22.89 596.53,21.9C597.89,20.91 598.13,19.5 599.3,18.77C600.47,18.04 602.18,18.28 603.54,17.52C604.91,16.76 606.02,14.94 607.48,14.21C608.94,13.48 610.94,13.41 612.3,13.14C613.67,12.86 614.5,12.36 615.66,12.56C616.83,12.77 617.79,14.15 619.31,14.37C620.83,14.59 623.02,13.65 624.77,13.88C626.52,14.12 628,15.33 629.82,15.77C631.64,16.2 633.93,15.9 635.68,16.48C637.43,17.07 638.52,18.2 640.33,19.27C642.14,20.34 644.78,21.44 646.53,22.9C648.28,24.36 649.28,26.21 650.84,28.03C652.41,29.85 654.62,31.78 655.94,33.83C657.25,35.87 657.84,38.18 658.73,40.29C659.61,42.4 660.8,44.44 661.24,46.49C661.68,48.53 661.63,50.74 661.36,52.56C661.08,54.37 660.19,55.77 659.6,57.38C659.02,58.98 658.87,60.95 657.85,62.19C656.83,63.43 654.93,63.95 653.47,64.82C652.01,65.7 650.55,67.16 649.09,67.45C647.63,67.74 646.17,66.87 644.71,66.57C643.25,66.28 641.62,66.21 640.33,65.7C639.05,65.19 638.11,64.24 637,63.51C635.89,62.78 634.32,61.1 633.68,61.32C633.03,61.54 633.33,63.65 633.15,64.82C632.97,65.99 633.38,67.45 632.62,68.33C631.87,69.2 629.94,69.49 628.59,70.08C627.25,70.66 625.82,71.68 624.57,71.83C623.31,71.98 622.23,71.25 621.06,70.95C619.89,70.66 618.87,70.81 617.56,70.08C616.24,69.35 614.64,67.74 613.18,66.57C611.72,65.41 610.4,64.09 608.8,63.07C607.19,62.05 605.29,61.32 603.54,60.44C601.79,59.57 600.04,58.54 598.29,57.81C596.53,57.08 594.78,56.65 593.03,56.06C591.28,55.48 589.38,54.89 587.78,54.31C586.17,53.73 584.86,53.14 583.4,52.56C581.94,51.97 580.16,51.82 579.02,50.81C577.87,49.79 576.94,47.94 576.5,46.48C576.06,45.02 576.24,43.4 576.39,42.05Z"/></clipPath><path d="M576.39,42.05C576.54,40.69 576.66,39.54 577.39,38.37C578.12,37.2 579.81,36.17 580.77,35.04C581.73,33.91 581.97,32.59 583.14,31.57C584.31,30.55 586.44,30.05 587.78,28.91C589.11,27.76 589.71,25.88 591.17,24.72C592.63,23.55 595.18,22.89 596.53,21.9C597.89,20.91 598.13,19.5 599.3,18.77C600.47,18.04 602.18,18.28 603.54,17.52C604.91,16.76 606.02,14.94 607.48,14.21C608.94,13.48 610.94,13.41 612.3,13.14C613.67,12.86 614.5,12.36 615.66,12.56C616.83,12.77 617.79,14.15 619.31,14.37C620.83,14.59 623.02,13.65 624.77,13.88C626.52,14.12 628,15.33 629.82,15.77C631.64,16.2 633.93,15.9 635.68,16.48C637.43,17.07 638.52,18.2 640.33,19.27C642.14,20.34 644.78,21.44 646.53,22.9C648.28,24.36 649.28,26.21 650.84,28.03C652.41,29.85 654.62,31.78 655.94,33.83C657.25,35.87 657.84,38.18 658.73,40.29C659.61,42.4 660.8,44.44 661.24,46.49C661.68,48.53 661.63,50.74 661.36,52.56C661.08,54.37 660.19,55.77 659.6,57.38C659.02,58.98 658.87,60.95 657.85,62.19C656.83,63.43 654.93,63.95 653.47,64.82C652.01,65.7 650.55,67.16 649.09,67.45C647.63,67.74 646.17,66.87 644.71,66.57C643.25,66.28 641.62,66.21 640.33,65.7C639.05,65.19 638.11,64.24 637,63.51C635.89,62.78 634.32,61.1 633.68,61.32C633.03,61.54 633.33,63.65 633.15,64.82C632.97,65.99 633.38,67.45 632.62,68.33C631.87,69.2 629.94,69.49 628.59,70.08C627.25,70.66 625.82,71.68 624.57,71.83C623.31,71.98 622.23,71.25 621.06,70.95C619.89,70.66 618.87,70.81 617.56,70.08C616.24,69.35 614.64,67.74 613.18,66.57C611.72,65.41 610.4,64.09 608.8,63.07C607.19,62.05 605.29,61.32 603.54,60.44C601.79,59.57 600.04,58.54 598.29,57.81C596.53,57.08 594.78,56.65 593.03,56.06C591.28,55.48 589.38,54.89 587.78,54.31C586.17,53.73 584.86,53.14 583.4,52.56C581.94,51.97 580.16,51.82 579.02,50.81C577.87,49.79 576.94,47.94 576.5,46.48C576.06,45.02 576.24,43.4 576.39,42.05Z" fill="#c0285a"/><g clip-path="url(#cb36)"><path d="M572.03,37.44 L591.64,29.9 L593.82,37.44 L597.45,41.97 L595.27,46.49 L594.11,59.31 L602.53,64.59 L603.98,73.64 L572.03,73.64Z" fill="#b8206e"/><path d="M592.36,29.9 L598.17,23.87 L606.89,16.33 L615.6,11.05 L618.51,14.82 L617.06,22.36 L609.79,26.89 L601.08,29.9 L593.82,32.92Z" fill="#1a5a8c"/><path d="M590.19,32.92 L601.08,29.9 L609.79,26.89 L617.06,22.36 L619.96,25.38 L618.51,34.43 L615.6,37.44 L608.34,39.71 L601.08,41.21 L593.82,39.71Z" fill="#1a98d8"/><path d="M615.6,11.81 L622.87,14.07 L627.22,22.36 L630.13,32.92 L633.03,41.97 L628.68,43.48 L619.96,38.95 L615.6,36.69 L618.51,29.9 L618.51,20.86Z" fill="#18c0ee"/><path d="M621.41,13.32 L633.03,15.58 L636.66,22.36 L635.94,34.43 L634.49,43.48 L631.58,43.48 L628.68,32.92 L627.22,22.36Z" fill="#1ecca6"/><path d="M633.03,15.58 L638.84,17.84 L638.12,22.36 L633.76,21.61Z" fill="#20a050"/><path d="M638.12,17.84 L647.56,23.12 L655.55,32.17 L659.18,44.98 L657.72,55.54 L653.37,60.07 L647.56,57.05 L646.11,46.49 L640.3,44.98 L635.94,43.48 L635.94,32.92 L637.39,22.36Z" fill="#ea4a58"/><path d="M635.94,41.97 L641.75,40.46 L647.56,44.98 L650.46,55.54 L647.56,61.57 L640.3,61.57 L637.39,55.54 L638.84,49.51Z" fill="#f4806a"/><path d="M593.82,39.25 L608.34,37.9 L615.6,39.41 L621.41,44.98 L627.22,51.02 L631.58,58.56 L627.22,60.67 L619.96,57.05 L612.7,51.32 L605.44,48.3 L595.27,47.4Z" fill="#d040f0"/><path d="M593.82,44.98 L605.44,43.48 L606.89,49.51 L603.98,55.54 L603.26,61.57 L596.72,59.31 L593.82,52.53Z" fill="#c8b8f4"/><path d="M603.26,49.51 L612.7,48 L619.96,54.03 L628.68,58.56 L632.31,65.34 L629.4,73.64 L621.41,73.64 L612.7,70.62 L605.44,63.84 L602.53,57.05Z" fill="#8c5cc8"/><path d="M615.6,39.71 L621.41,43.48 L630.13,46.49 L638.84,48.76 L640.3,52.53 L637.39,57.05 L633.03,58.56 L628.68,55.54 L622.87,49.51Z" fill="#f8cc78"/><path d="M614.15,37.44 L618.51,38.2 L622.14,42.72 L617.06,41.21Z" fill="#e09020"/><path d="M623.97,13.75C623.55,15.03 622.27,18.88 621.42,21.45C620.57,24.02 619.72,26.88 618.87,29.16C618.02,31.43 616.75,34.1 616.32,35.08" fill="none" stroke="#1a1030" stroke-width="0.8" stroke-linecap="round" opacity="0.5"/><path d="M616.32,15.52C615.9,16.81 614.62,20.76 613.77,23.23C612.92,25.7 611.79,28.17 611.22,30.34C610.66,32.51 610.52,35.28 610.37,36.27" fill="none" stroke="#1a1030" stroke-width="0.8" stroke-linecap="round" opacity="0.5"/><path d="M630.77,16.12C630.34,17.5 629.07,21.75 628.22,24.41C627.37,27.08 626.38,29.65 625.67,32.12C624.96,34.59 624.25,38.05 623.97,39.23" fill="none" stroke="#1a1030" stroke-width="0.8" stroke-linecap="round" opacity="0.5"/><path d="M629.07,22.04C630.48,22.44 634.73,23.23 637.56,24.41C640.4,25.6 643.51,27.18 646.06,29.16C648.61,31.13 651.73,35.08 652.86,36.27" fill="none" stroke="#1a1030" stroke-width="0.8" stroke-linecap="round" opacity="0.5"/><path d="M627.37,33.9C628.78,34.29 633.03,35.08 635.87,36.27C638.7,37.45 641.81,38.84 644.36,41.01C646.91,43.18 650.03,47.92 651.16,49.31" fill="none" stroke="#1a1030" stroke-width="0.8" stroke-linecap="round" opacity="0.5"/><path d="M632.47,42.2C633.32,42.79 637,44.57 637.56,45.75C638.13,46.94 636.15,48.71 635.87,49.31" fill="none" stroke="#1a1030" stroke-width="0.8" stroke-linecap="round" opacity="0.5"/><path d="M601.88,23.23C602.73,24.02 606.41,26.19 606.98,27.97C607.54,29.75 606.13,31.92 605.28,33.9C604.43,35.87 602.44,38.84 601.88,39.82" fill="none" stroke="#1a1030" stroke-width="0.8" stroke-linecap="round" opacity="0.5"/><path d="M589.98,30.34C591.12,30.74 595.08,31.33 596.78,32.71C598.48,34.1 599.61,37.65 600.18,38.64" fill="none" stroke="#1a1030" stroke-width="0.8" stroke-linecap="round" opacity="0.5"/><path d="M581.49,42.2C582.62,42.59 586.02,43.78 588.28,44.57C590.55,45.36 592.81,46.15 595.08,46.94C597.35,47.73 600.75,48.91 601.88,49.31" fill="none" stroke="#1a1030" stroke-width="0.8" stroke-linecap="round" opacity="0.5"/><path d="M605.28,51.68C606.69,52.27 610.94,53.85 613.77,55.23C616.61,56.62 619.72,58.2 622.27,59.98C624.82,61.75 627.94,64.91 629.07,65.9" fill="none" stroke="#1a1030" stroke-width="0.8" stroke-linecap="round" opacity="0.5"/><path d="M601.88,58.79C603.29,59.38 607.54,60.96 610.37,62.35C613.21,63.73 617.46,66.3 618.87,67.09" fill="none" stroke="#1a1030" stroke-width="0.8" stroke-linecap="round" opacity="0.5"/><path d="M642.66,54.05C643.8,54.84 647.19,57.6 649.46,58.79C651.73,59.98 655.12,60.77 656.26,61.16" fill="none" stroke="#1a1030" stroke-width="0.8" stroke-linecap="round" opacity="0.5"/><path d="M593.38,19.67C594.23,20.07 597.63,21.65 598.48,22.04" fill="none" stroke="#1a1030" stroke-width="0.8" stroke-linecap="round" opacity="0.5"/><path d="M639.26,18.49C639.83,18.88 642.38,19.67 642.66,20.86C642.95,22.04 641.25,24.81 640.96,25.6" fill="none" stroke="#1a1030" stroke-width="0.8" stroke-linecap="round" opacity="0.5"/><path d="M576.39,42.05C576.54,40.69 576.66,39.54 577.39,38.37C578.12,37.2 579.81,36.17 580.77,35.04C581.73,33.91 581.97,32.59 583.14,31.57C584.31,30.55 586.44,30.05 587.78,28.91C589.11,27.76 589.71,25.88 591.17,24.72C592.63,23.55 595.18,22.89 596.53,21.9C597.89,20.91 598.13,19.5 599.3,18.77C600.47,18.04 602.18,18.28 603.54,17.52C604.91,16.76 606.02,14.94 607.48,14.21C608.94,13.48 610.94,13.41 612.3,13.14C613.67,12.86 614.5,12.36 615.66,12.56C616.83,12.77 617.79,14.15 619.31,14.37C620.83,14.59 623.02,13.65 624.77,13.88C626.52,14.12 628,15.33 629.82,15.77C631.64,16.2 633.93,15.9 635.68,16.48C637.43,17.07 638.52,18.2 640.33,19.27C642.14,20.34 644.78,21.44 646.53,22.9C648.28,24.36 649.28,26.21 650.84,28.03C652.41,29.85 654.62,31.78 655.94,33.83C657.25,35.87 657.84,38.18 658.73,40.29C659.61,42.4 660.8,44.44 661.24,46.49C661.68,48.53 661.63,50.74 661.36,52.56C661.08,54.37 660.19,55.77 659.6,57.38C659.02,58.98 658.87,60.95 657.85,62.19C656.83,63.43 654.93,63.95 653.47,64.82C652.01,65.7 650.55,67.16 649.09,67.45C647.63,67.74 646.17,66.87 644.71,66.57C643.25,66.28 641.62,66.21 640.33,65.7C639.05,65.19 638.11,64.24 637,63.51C635.89,62.78 634.32,61.1 633.68,61.32C633.03,61.54 633.33,63.65 633.15,64.82C632.97,65.99 633.38,67.45 632.62,68.33C631.87,69.2 629.94,69.49 628.59,70.08C627.25,70.66 625.82,71.68 624.57,71.83C623.31,71.98 622.23,71.25 621.06,70.95C619.89,70.66 618.87,70.81 617.56,70.08C616.24,69.35 614.64,67.74 613.18,66.57C611.72,65.41 610.4,64.09 608.8,63.07C607.19,62.05 605.29,61.32 603.54,60.44C601.79,59.57 600.04,58.54 598.29,57.81C596.53,57.08 594.78,56.65 593.03,56.06C591.28,55.48 589.38,54.89 587.78,54.31C586.17,53.73 584.86,53.14 583.4,52.56C581.94,51.97 580.16,51.82 579.02,50.81C577.87,49.79 576.94,47.94 576.5,46.48C576.06,45.02 576.24,43.4 576.39,42.05Z" fill="url(#edgeShade)"/></g><path d="M576.39,42.05C576.54,40.69 576.66,39.54 577.39,38.37C578.12,37.2 579.81,36.17 580.77,35.04C581.73,33.91 581.97,32.59 583.14,31.57C584.31,30.55 586.44,30.05 587.78,28.91C589.11,27.76 589.71,25.88 591.17,24.72C592.63,23.55 595.18,22.89 596.53,21.9C597.89,20.91 598.13,19.5 599.3,18.77C600.47,18.04 602.18,18.28 603.54,17.52C604.91,16.76 606.02,14.94 607.48,14.21C608.94,13.48 610.94,13.41 612.3,13.14C613.67,12.86 614.5,12.36 615.66,12.56C616.83,12.77 617.79,14.15 619.31,14.37C620.83,14.59 623.02,13.65 624.77,13.88C626.52,14.12 628,15.33 629.82,15.77C631.64,16.2 633.93,15.9 635.68,16.48C637.43,17.07 638.52,18.2 640.33,19.27C642.14,20.34 644.78,21.44 646.53,22.9C648.28,24.36 649.28,26.21 650.84,28.03C652.41,29.85 654.62,31.78 655.94,33.83C657.25,35.87 657.84,38.18 658.73,40.29C659.61,42.4 660.8,44.44 661.24,46.49C661.68,48.53 661.63,50.74 661.36,52.56C661.08,54.37 660.19,55.77 659.6,57.38C659.02,58.98 658.87,60.95 657.85,62.19C656.83,63.43 654.93,63.95 653.47,64.82C652.01,65.7 650.55,67.16 649.09,67.45C647.63,67.74 646.17,66.87 644.71,66.57C643.25,66.28 641.62,66.21 640.33,65.7C639.05,65.19 638.11,64.24 637,63.51C635.89,62.78 634.32,61.1 633.68,61.32C633.03,61.54 633.33,63.65 633.15,64.82C632.97,65.99 633.38,67.45 632.62,68.33C631.87,69.2 629.94,69.49 628.59,70.08C627.25,70.66 625.82,71.68 624.57,71.83C623.31,71.98 622.23,71.25 621.06,70.95C619.89,70.66 618.87,70.81 617.56,70.08C616.24,69.35 614.64,67.74 613.18,66.57C611.72,65.41 610.4,64.09 608.8,63.07C607.19,62.05 605.29,61.32 603.54,60.44C601.79,59.57 600.04,58.54 598.29,57.81C596.53,57.08 594.78,56.65 593.03,56.06C591.28,55.48 589.38,54.89 587.78,54.31C586.17,53.73 584.86,53.14 583.4,52.56C581.94,51.97 580.16,51.82 579.02,50.81C577.87,49.79 576.94,47.94 576.5,46.48C576.06,45.02 576.24,43.4 576.39,42.05Z" fill="none" stroke="#3a1a2a" stroke-width="0.5" opacity="0.5"/>
<clipPath id="cc21"><path d="M203.09,141.04C203.33,139.28 203.57,135.68 204.84,133.74C206.1,131.79 208.49,130.7 210.68,129.36C212.87,128.02 215.55,127.29 217.98,125.71C220.41,124.13 222.6,121.82 225.28,119.87C227.95,117.92 230.63,115.66 234.04,114.03C237.44,112.4 241.82,110.7 245.72,110.09C249.61,109.48 253.5,109.72 257.39,110.38C261.29,111.04 265.18,112.33 269.07,114.03C272.97,115.73 277.47,117.8 280.75,120.6C284.04,123.4 286.83,127.17 288.78,130.82C290.73,134.47 292.07,138.85 292.43,142.5C292.8,146.15 292.19,149.8 290.97,152.72C289.75,155.64 287.56,158.19 285.13,160.01C282.7,161.84 279.29,163.18 276.37,163.66C273.45,164.15 270.29,163.79 267.61,162.93C264.94,162.08 261.77,158.8 260.31,158.55C258.85,158.31 259.58,160.38 258.85,161.47C258.12,162.57 257.64,164.2 255.93,165.12C254.23,166.05 251.31,167.02 248.64,167.02C245.96,167.02 242.8,166.29 239.88,165.12C236.96,163.96 233.79,161.6 231.12,160.01C228.44,158.43 226.49,156.85 223.82,155.64C221.14,154.42 217.73,153.81 215.06,152.72C212.38,151.62 209.71,150.48 207.76,149.07C205.81,147.65 204.16,145.59 203.38,144.25C202.6,142.91 202.84,142.79 203.09,141.04Z"/></clipPath><path d="M203.09,141.04C203.33,139.28 203.57,135.68 204.84,133.74C206.1,131.79 208.49,130.7 210.68,129.36C212.87,128.02 215.55,127.29 217.98,125.71C220.41,124.13 222.6,121.82 225.28,119.87C227.95,117.92 230.63,115.66 234.04,114.03C237.44,112.4 241.82,110.7 245.72,110.09C249.61,109.48 253.5,109.72 257.39,110.38C261.29,111.04 265.18,112.33 269.07,114.03C272.97,115.73 277.47,117.8 280.75,120.6C284.04,123.4 286.83,127.17 288.78,130.82C290.73,134.47 292.07,138.85 292.43,142.5C292.8,146.15 292.19,149.8 290.97,152.72C289.75,155.64 287.56,158.19 285.13,160.01C282.7,161.84 279.29,163.18 276.37,163.66C273.45,164.15 270.29,163.79 267.61,162.93C264.94,162.08 261.77,158.8 260.31,158.55C258.85,158.31 259.58,160.38 258.85,161.47C258.12,162.57 257.64,164.2 255.93,165.12C254.23,166.05 251.31,167.02 248.64,167.02C245.96,167.02 242.8,166.29 239.88,165.12C236.96,163.96 233.79,161.6 231.12,160.01C228.44,158.43 226.49,156.85 223.82,155.64C221.14,154.42 217.73,153.81 215.06,152.72C212.38,151.62 209.71,150.48 207.76,149.07C205.81,147.65 204.16,145.59 203.38,144.25C202.6,142.91 202.84,142.79 203.09,141.04Z" fill="#f8e6ac"/><g clip-path="url(#cc21)"><ellipse cx="204.87" cy="145.39" rx="8.93" ry="12.53" fill="#f0b070" opacity="0.9" filter="url(#blur3)"/><ellipse cx="276.35" cy="164.74" rx="12.51" ry="7.97" fill="#ee9a60" opacity="0.9" filter="url(#blur3)"/><ellipse cx="247.76" cy="127.17" rx="26.8" ry="14.23" fill="#fbf0c0" opacity="0.6" filter="url(#blur3)"/><path d="M246.33,135.14 Q260.45,141.97 274.56,152.22" fill="none" stroke="#4a3020" stroke-width="2" stroke-linecap="round" opacity="0.38" filter="url(#blur1)"/><path d="M246.33,135.14 Q249.72,147.09 256.69,159.05" fill="none" stroke="#4a3020" stroke-width="1.8" stroke-linecap="round" opacity="0.3" filter="url(#blur1)"/><path d="M203.09,141.04C203.33,139.28 203.57,135.68 204.84,133.74C206.1,131.79 208.49,130.7 210.68,129.36C212.87,128.02 215.55,127.29 217.98,125.71C220.41,124.13 222.6,121.82 225.28,119.87C227.95,117.92 230.63,115.66 234.04,114.03C237.44,112.4 241.82,110.7 245.72,110.09C249.61,109.48 253.5,109.72 257.39,110.38C261.29,111.04 265.18,112.33 269.07,114.03C272.97,115.73 277.47,117.8 280.75,120.6C284.04,123.4 286.83,127.17 288.78,130.82C290.73,134.47 292.07,138.85 292.43,142.5C292.8,146.15 292.19,149.8 290.97,152.72C289.75,155.64 287.56,158.19 285.13,160.01C282.7,161.84 279.29,163.18 276.37,163.66C273.45,164.15 270.29,163.79 267.61,162.93C264.94,162.08 261.77,158.8 260.31,158.55C258.85,158.31 259.58,160.38 258.85,161.47C258.12,162.57 257.64,164.2 255.93,165.12C254.23,166.05 251.31,167.02 248.64,167.02C245.96,167.02 242.8,166.29 239.88,165.12C236.96,163.96 233.79,161.6 231.12,160.01C228.44,158.43 226.49,156.85 223.82,155.64C221.14,154.42 217.73,153.81 215.06,152.72C212.38,151.62 209.71,150.48 207.76,149.07C205.81,147.65 204.16,145.59 203.38,144.25C202.6,142.91 202.84,142.79 203.09,141.04Z" fill="none" stroke="#3a2018" stroke-width="3.2" opacity="0.45" filter="url(#blur1)"/></g><path d="M203.09,141.04C203.33,139.28 203.57,135.68 204.84,133.74C206.1,131.79 208.49,130.7 210.68,129.36C212.87,128.02 215.55,127.29 217.98,125.71C220.41,124.13 222.6,121.82 225.28,119.87C227.95,117.92 230.63,115.66 234.04,114.03C237.44,112.4 241.82,110.7 245.72,110.09C249.61,109.48 253.5,109.72 257.39,110.38C261.29,111.04 265.18,112.33 269.07,114.03C272.97,115.73 277.47,117.8 280.75,120.6C284.04,123.4 286.83,127.17 288.78,130.82C290.73,134.47 292.07,138.85 292.43,142.5C292.8,146.15 292.19,149.8 290.97,152.72C289.75,155.64 287.56,158.19 285.13,160.01C282.7,161.84 279.29,163.18 276.37,163.66C273.45,164.15 270.29,163.79 267.61,162.93C264.94,162.08 261.77,158.8 260.31,158.55C258.85,158.31 259.58,160.38 258.85,161.47C258.12,162.57 257.64,164.2 255.93,165.12C254.23,166.05 251.31,167.02 248.64,167.02C245.96,167.02 242.8,166.29 239.88,165.12C236.96,163.96 233.79,161.6 231.12,160.01C228.44,158.43 226.49,156.85 223.82,155.64C221.14,154.42 217.73,153.81 215.06,152.72C212.38,151.62 209.71,150.48 207.76,149.07C205.81,147.65 204.16,145.59 203.38,144.25C202.6,142.91 202.84,142.79 203.09,141.04Z" fill="none" stroke="#3a2018" stroke-width="0.6" opacity="0.55"/>
<clipPath id="cc25"><path d="M298.11,143.3C298.4,140.97 298.99,137.17 301.26,134.54C303.54,131.91 307.98,130.45 311.78,127.53C315.57,124.61 319.95,119.65 324.04,117.02C328.13,114.4 332.51,112.94 336.3,111.77C340.1,110.6 343.02,110.02 346.81,110.02C350.61,110.02 355.57,110.75 359.08,111.77C362.58,112.79 364.62,113.96 367.84,116.15C371.05,118.34 375.28,121.55 378.35,124.91C381.41,128.26 384.63,132.35 386.23,136.29C387.84,140.24 388.28,144.91 387.98,148.56C387.69,152.21 386.38,155.71 384.48,158.19C382.58,160.68 379.37,162.43 376.6,163.45C373.82,164.47 370.76,165.06 367.84,164.33C364.92,163.6 360.98,160.53 359.08,159.07C357.18,157.61 357.27,154.98 356.45,155.57C355.63,156.15 355.49,160.68 354.17,162.57C352.86,164.47 350.67,166.02 348.57,166.95C346.46,167.89 344.19,168.56 341.56,168.18C338.93,167.8 335.72,166.43 332.8,164.68C329.88,162.92 326.96,159.19 324.04,157.67C321.12,156.15 318.2,156.44 315.28,155.57C312.36,154.69 309.15,153.58 306.52,152.41C303.89,151.24 300.91,150.08 299.51,148.56C298.11,147.04 297.82,145.64 298.11,143.3Z"/></clipPath><path d="M298.11,143.3C298.4,140.97 298.99,137.17 301.26,134.54C303.54,131.91 307.98,130.45 311.78,127.53C315.57,124.61 319.95,119.65 324.04,117.02C328.13,114.4 332.51,112.94 336.3,111.77C340.1,110.6 343.02,110.02 346.81,110.02C350.61,110.02 355.57,110.75 359.08,111.77C362.58,112.79 364.62,113.96 367.84,116.15C371.05,118.34 375.28,121.55 378.35,124.91C381.41,128.26 384.63,132.35 386.23,136.29C387.84,140.24 388.28,144.91 387.98,148.56C387.69,152.21 386.38,155.71 384.48,158.19C382.58,160.68 379.37,162.43 376.6,163.45C373.82,164.47 370.76,165.06 367.84,164.33C364.92,163.6 360.98,160.53 359.08,159.07C357.18,157.61 357.27,154.98 356.45,155.57C355.63,156.15 355.49,160.68 354.17,162.57C352.86,164.47 350.67,166.02 348.57,166.95C346.46,167.89 344.19,168.56 341.56,168.18C338.93,167.8 335.72,166.43 332.8,164.68C329.88,162.92 326.96,159.19 324.04,157.67C321.12,156.15 318.2,156.44 315.28,155.57C312.36,154.69 309.15,153.58 306.52,152.41C303.89,151.24 300.91,150.08 299.51,148.56C298.11,147.04 297.82,145.64 298.11,143.3Z" fill="#f7e2a2"/><g clip-path="url(#cc25)"><ellipse cx="299.01" cy="146.08" rx="8.09" ry="12.8" fill="#ec7f58" opacity="0.95" filter="url(#blur3)"/><ellipse cx="371.81" cy="165.85" rx="14.38" ry="9.31" fill="#ec8656" opacity="0.95" filter="url(#blur3)"/><ellipse cx="338.55" cy="167.02" rx="8.99" ry="5.82" fill="#f2b070" opacity="0.7" filter="url(#blur3)"/><ellipse cx="343.05" cy="127.46" rx="26.96" ry="14.54" fill="#fbeebc" opacity="0.6" filter="url(#blur3)"/><path d="M340.62,134.44 Q357.11,142.88 373.6,154.8" fill="none" stroke="#4a3020" stroke-width="2" stroke-linecap="round" opacity="0.38" filter="url(#blur1)"/><path d="M340.62,134.44 Q343.63,145.5 350.24,156.55" fill="none" stroke="#4a3020" stroke-width="1.8" stroke-linecap="round" opacity="0.3" filter="url(#blur1)"/><path d="M298.11,143.3C298.4,140.97 298.99,137.17 301.26,134.54C303.54,131.91 307.98,130.45 311.78,127.53C315.57,124.61 319.95,119.65 324.04,117.02C328.13,114.4 332.51,112.94 336.3,111.77C340.1,110.6 343.02,110.02 346.81,110.02C350.61,110.02 355.57,110.75 359.08,111.77C362.58,112.79 364.62,113.96 367.84,116.15C371.05,118.34 375.28,121.55 378.35,124.91C381.41,128.26 384.63,132.35 386.23,136.29C387.84,140.24 388.28,144.91 387.98,148.56C387.69,152.21 386.38,155.71 384.48,158.19C382.58,160.68 379.37,162.43 376.6,163.45C373.82,164.47 370.76,165.06 367.84,164.33C364.92,163.6 360.98,160.53 359.08,159.07C357.18,157.61 357.27,154.98 356.45,155.57C355.63,156.15 355.49,160.68 354.17,162.57C352.86,164.47 350.67,166.02 348.57,166.95C346.46,167.89 344.19,168.56 341.56,168.18C338.93,167.8 335.72,166.43 332.8,164.68C329.88,162.92 326.96,159.19 324.04,157.67C321.12,156.15 318.2,156.44 315.28,155.57C312.36,154.69 309.15,153.58 306.52,152.41C303.89,151.24 300.91,150.08 299.51,148.56C298.11,147.04 297.82,145.64 298.11,143.3Z" fill="none" stroke="#3a2018" stroke-width="3.2" opacity="0.45" filter="url(#blur1)"/></g><path d="M298.11,143.3C298.4,140.97 298.99,137.17 301.26,134.54C303.54,131.91 307.98,130.45 311.78,127.53C315.57,124.61 319.95,119.65 324.04,117.02C328.13,114.4 332.51,112.94 336.3,111.77C340.1,110.6 343.02,110.02 346.81,110.02C350.61,110.02 355.57,110.75 359.08,111.77C362.58,112.79 364.62,113.96 367.84,116.15C371.05,118.34 375.28,121.55 378.35,124.91C381.41,128.26 384.63,132.35 386.23,136.29C387.84,140.24 388.28,144.91 387.98,148.56C387.69,152.21 386.38,155.71 384.48,158.19C382.58,160.68 379.37,162.43 376.6,163.45C373.82,164.47 370.76,165.06 367.84,164.33C364.92,163.6 360.98,160.53 359.08,159.07C357.18,157.61 357.27,154.98 356.45,155.57C355.63,156.15 355.49,160.68 354.17,162.57C352.86,164.47 350.67,166.02 348.57,166.95C346.46,167.89 344.19,168.56 341.56,168.18C338.93,167.8 335.72,166.43 332.8,164.68C329.88,162.92 326.96,159.19 324.04,157.67C321.12,156.15 318.2,156.44 315.28,155.57C312.36,154.69 309.15,153.58 306.52,152.41C303.89,151.24 300.91,150.08 299.51,148.56C298.11,147.04 297.82,145.64 298.11,143.3Z" fill="none" stroke="#3a2018" stroke-width="0.6" opacity="0.55"/>
<clipPath id="cc29"><path d="M392.85,143.3C393,142.19 393.31,140.34 393.83,138.88C394.36,137.42 394.86,135.88 396.01,134.54C397.15,133.21 398.94,132.03 400.69,130.86C402.44,129.7 404.9,128.88 406.52,127.53C408.14,126.19 408.95,124.26 410.41,122.8C411.87,121.34 413.79,119.97 415.28,118.78C416.76,117.58 417.86,116.53 419.32,115.65C420.78,114.77 422.55,114.38 424.04,113.52C425.53,112.66 426.8,111.31 428.26,110.49C429.72,109.67 431.46,108.91 432.8,108.61C434.14,108.32 435.12,108.48 436.29,108.71C437.46,108.95 438.32,109.75 439.81,110.02C441.29,110.28 443.46,110.02 445.21,110.31C446.97,110.6 448.54,111.24 450.32,111.77C452.1,112.29 454.15,112.73 455.91,113.46C457.66,114.19 459.05,114.95 460.83,116.15C462.61,117.34 464.82,119.01 466.57,120.62C468.32,122.22 469.87,123.92 471.34,125.78C472.82,127.64 474.26,129.72 475.42,131.76C476.59,133.81 477.69,135.97 478.35,138.05C479.01,140.12 479.24,142.17 479.39,144.21C479.53,146.25 479.54,148.56 479.22,150.31C478.91,152.06 478.06,153.23 477.47,154.69C476.89,156.15 476.67,157.97 475.72,159.07C474.77,160.16 473.09,160.53 471.78,161.26C470.46,161.99 469.22,163.16 467.84,163.45C466.45,163.74 464.92,163.16 463.46,163.01C462,162.87 460.46,163.16 459.08,162.57C457.69,161.99 456.45,160.53 455.14,159.51C453.82,158.49 452.07,156.56 451.19,156.44C450.32,156.32 450.32,158.02 449.88,158.81C449.44,159.59 449.08,160.43 448.57,161.17C448.05,161.92 447.4,162.57 446.81,163.27C446.23,163.97 445.94,164.89 445.06,165.38C444.19,165.86 442.73,165.9 441.56,166.16C440.39,166.43 439.37,167.16 438.05,166.95C436.74,166.75 435.13,165.61 433.67,164.94C432.21,164.27 430.75,163.77 429.29,162.92C427.83,162.08 426.37,160.88 424.91,159.86C423.45,158.84 422.14,157.55 420.53,156.79C418.93,156.03 417.03,155.8 415.28,155.3C413.53,154.81 411.78,154.35 410.02,153.81C408.27,153.27 406.52,152.65 404.77,152.06C403.02,151.48 400.83,150.82 399.51,150.31C398.2,149.8 397.76,149.43 396.88,149C396.01,148.56 394.91,148.26 394.26,147.68C393.6,147.11 393.19,146.27 392.96,145.54C392.72,144.81 392.71,144.41 392.85,143.3Z"/></clipPath><path d="M392.85,143.3C393,142.19 393.31,140.34 393.83,138.88C394.36,137.42 394.86,135.88 396.01,134.54C397.15,133.21 398.94,132.03 400.69,130.86C402.44,129.7 404.9,128.88 406.52,127.53C408.14,126.19 408.95,124.26 410.41,122.8C411.87,121.34 413.79,119.97 415.28,118.78C416.76,117.58 417.86,116.53 419.32,115.65C420.78,114.77 422.55,114.38 424.04,113.52C425.53,112.66 426.8,111.31 428.26,110.49C429.72,109.67 431.46,108.91 432.8,108.61C434.14,108.32 435.12,108.48 436.29,108.71C437.46,108.95 438.32,109.75 439.81,110.02C441.29,110.28 443.46,110.02 445.21,110.31C446.97,110.6 448.54,111.24 450.32,111.77C452.1,112.29 454.15,112.73 455.91,113.46C457.66,114.19 459.05,114.95 460.83,116.15C462.61,117.34 464.82,119.01 466.57,120.62C468.32,122.22 469.87,123.92 471.34,125.78C472.82,127.64 474.26,129.72 475.42,131.76C476.59,133.81 477.69,135.97 478.35,138.05C479.01,140.12 479.24,142.17 479.39,144.21C479.53,146.25 479.54,148.56 479.22,150.31C478.91,152.06 478.06,153.23 477.47,154.69C476.89,156.15 476.67,157.97 475.72,159.07C474.77,160.16 473.09,160.53 471.78,161.26C470.46,161.99 469.22,163.16 467.84,163.45C466.45,163.74 464.92,163.16 463.46,163.01C462,162.87 460.46,163.16 459.08,162.57C457.69,161.99 456.45,160.53 455.14,159.51C453.82,158.49 452.07,156.56 451.19,156.44C450.32,156.32 450.32,158.02 449.88,158.81C449.44,159.59 449.08,160.43 448.57,161.17C448.05,161.92 447.4,162.57 446.81,163.27C446.23,163.97 445.94,164.89 445.06,165.38C444.19,165.86 442.73,165.9 441.56,166.16C440.39,166.43 439.37,167.16 438.05,166.95C436.74,166.75 435.13,165.61 433.67,164.94C432.21,164.27 430.75,163.77 429.29,162.92C427.83,162.08 426.37,160.88 424.91,159.86C423.45,158.84 422.14,157.55 420.53,156.79C418.93,156.03 417.03,155.8 415.28,155.3C413.53,154.81 411.78,154.35 410.02,153.81C408.27,153.27 406.52,152.65 404.77,152.06C403.02,151.48 400.83,150.82 399.51,150.31C398.2,149.8 397.76,149.43 396.88,149C396.01,148.56 394.91,148.26 394.26,147.68C393.6,147.11 393.19,146.27 392.96,145.54C392.72,144.81 392.71,144.41 392.85,143.3Z" fill="#f1ca8c"/><g clip-path="url(#cc29)"><ellipse cx="392.85" cy="147.12" rx="6.06" ry="12.83" fill="#c42a68" opacity="1" filter="url(#blur3)"/><ellipse cx="429.2" cy="155.29" rx="15.58" ry="8.17" fill="#f08a62" opacity="0.9" filter="url(#blur3)"/><ellipse cx="440.45" cy="144.78" rx="10.38" ry="7" fill="#f07a5c" opacity="0.9" filter="url(#blur3)"/><ellipse cx="466.41" cy="162.29" rx="12.11" ry="8.17" fill="#d8405e" opacity="0.9" filter="url(#blur3)"/><ellipse cx="477.65" cy="143.62" rx="4.33" ry="11.67" fill="#f09a70" opacity="0.8" filter="url(#blur3)"/><ellipse cx="418.81" cy="164.04" rx="10.38" ry="4.67" fill="#f0a070" opacity="0.8" filter="url(#blur3)"/><ellipse cx="431.79" cy="126.12" rx="21.63" ry="11.67" fill="#f5d8a0" opacity="0.6" filter="url(#blur3)"/><path d="M430.93,130.78C432.81,129.99 443.91,136.46 448.06,138.95C452.21,141.44 461.42,147.27 462.08,149.45C462.74,151.63 455.88,154.35 452.99,155.29C450.11,156.22 442.98,157.84 440.45,156.45C437.91,155.07 435.23,148.32 433.96,144.9C432.69,141.48 429.05,131.58 430.93,130.78Z" fill="#f27860" filter="url(#blur05)"/><path d="M441.31,109.78C440.88,111.04 439.58,114.84 438.72,117.36C437.85,119.89 436.99,122.71 436.12,124.95C435.25,127.19 433.96,129.81 433.52,130.78" fill="none" stroke="#f8e0b0" stroke-width="2.6" stroke-linecap="round" opacity="0.6" transform="translate(2.2,0)" filter="url(#blur05)"/><path d="M441.31,109.78C440.88,111.04 439.58,114.84 438.72,117.36C437.85,119.89 436.99,122.71 436.12,124.95C435.25,127.19 433.96,129.81 433.52,130.78" fill="none" stroke="#4a1a20" stroke-width="0.9" stroke-linecap="round" opacity="0.6" filter="url(#blur05)"/><path d="M433.52,111.53C433.09,112.79 431.79,116.68 430.93,119.11C430.06,121.55 428.91,123.98 428.33,126.12C427.76,128.25 427.61,130.98 427.47,131.95" fill="none" stroke="#f8e0b0" stroke-width="2.6" stroke-linecap="round" opacity="0.6" transform="translate(2.2,0)" filter="url(#blur05)"/><path d="M433.52,111.53C433.09,112.79 431.79,116.68 430.93,119.11C430.06,121.55 428.91,123.98 428.33,126.12C427.76,128.25 427.61,130.98 427.47,131.95" fill="none" stroke="#4a1a20" stroke-width="0.9" stroke-linecap="round" opacity="0.6" filter="url(#blur05)"/><path d="M448.23,112.11C447.8,113.48 446.5,117.66 445.64,120.28C444.77,122.91 443.76,125.44 443.04,127.87C442.32,130.3 441.6,133.7 441.31,134.87" fill="none" stroke="#f8e0b0" stroke-width="2.6" stroke-linecap="round" opacity="0.6" transform="translate(2.2,0)" filter="url(#blur05)"/><path d="M448.23,112.11C447.8,113.48 446.5,117.66 445.64,120.28C444.77,122.91 443.76,125.44 443.04,127.87C442.32,130.3 441.6,133.7 441.31,134.87" fill="none" stroke="#4a1a20" stroke-width="0.9" stroke-linecap="round" opacity="0.6" filter="url(#blur05)"/><path d="M446.5,117.95C447.95,118.34 452.27,119.11 455.16,120.28C458.04,121.45 461.21,123 463.81,124.95C466.41,126.89 469.58,130.78 470.73,131.95" fill="none" stroke="#f8e0b0" stroke-width="2.6" stroke-linecap="round" opacity="0.6" transform="translate(2.2,0)" filter="url(#blur05)"/><path d="M446.5,117.95C447.95,118.34 452.27,119.11 455.16,120.28C458.04,121.45 461.21,123 463.81,124.95C466.41,126.89 469.58,130.78 470.73,131.95" fill="none" stroke="#4a1a20" stroke-width="0.9" stroke-linecap="round" opacity="0.6" filter="url(#blur05)"/><path d="M444.77,129.62C446.22,130 450.54,130.78 453.43,131.95C456.31,133.12 459.48,134.48 462.08,136.62C464.68,138.76 467.85,143.42 469,144.78" fill="none" stroke="#f8e0b0" stroke-width="2.6" stroke-linecap="round" opacity="0.6" transform="translate(2.2,0)" filter="url(#blur05)"/><path d="M444.77,129.62C446.22,130 450.54,130.78 453.43,131.95C456.31,133.12 459.48,134.48 462.08,136.62C464.68,138.76 467.85,143.42 469,144.78" fill="none" stroke="#4a1a20" stroke-width="0.9" stroke-linecap="round" opacity="0.6" filter="url(#blur05)"/><path d="M449.96,137.78C450.83,138.37 454.58,140.12 455.16,141.28C455.73,142.45 453.71,144.2 453.43,144.78" fill="none" stroke="#f8e0b0" stroke-width="2.6" stroke-linecap="round" opacity="0.6" transform="translate(2.2,0)" filter="url(#blur05)"/><path d="M449.96,137.78C450.83,138.37 454.58,140.12 455.16,141.28C455.73,142.45 453.71,144.2 453.43,144.78" fill="none" stroke="#4a1a20" stroke-width="0.9" stroke-linecap="round" opacity="0.6" filter="url(#blur05)"/><path d="M418.81,119.11C419.68,119.89 423.43,122.03 424.01,123.78C424.58,125.53 423.14,127.67 422.27,129.62C421.41,131.56 419.39,134.48 418.81,135.45" fill="none" stroke="#f8e0b0" stroke-width="2.6" stroke-linecap="round" opacity="0.6" transform="translate(2.2,0)" filter="url(#blur05)"/><path d="M418.81,119.11C419.68,119.89 423.43,122.03 424.01,123.78C424.58,125.53 423.14,127.67 422.27,129.62C421.41,131.56 419.39,134.48 418.81,135.45" fill="none" stroke="#4a1a20" stroke-width="0.9" stroke-linecap="round" opacity="0.6" filter="url(#blur05)"/><path d="M406.7,126.12C407.85,126.5 411.89,127.09 413.62,128.45C415.35,129.81 416.51,133.31 417.08,134.28" fill="none" stroke="#f8e0b0" stroke-width="2.6" stroke-linecap="round" opacity="0.6" transform="translate(2.2,0)" filter="url(#blur05)"/><path d="M406.7,126.12C407.85,126.5 411.89,127.09 413.62,128.45C415.35,129.81 416.51,133.31 417.08,134.28" fill="none" stroke="#4a1a20" stroke-width="0.9" stroke-linecap="round" opacity="0.6" filter="url(#blur05)"/><path d="M398.05,137.78C399.2,138.17 402.66,139.34 404.97,140.12C407.28,140.89 409.58,141.67 411.89,142.45C414.2,143.23 417.66,144.4 418.81,144.78" fill="none" stroke="#f8e0b0" stroke-width="2.6" stroke-linecap="round" opacity="0.6" transform="translate(2.2,0)" filter="url(#blur05)"/><path d="M398.05,137.78C399.2,138.17 402.66,139.34 404.97,140.12C407.28,140.89 409.58,141.67 411.89,142.45C414.2,143.23 417.66,144.4 418.81,144.78" fill="none" stroke="#4a1a20" stroke-width="0.9" stroke-linecap="round" opacity="0.6" filter="url(#blur05)"/><path d="M422.27,147.12C423.72,147.7 428.04,149.26 430.93,150.62C433.81,151.98 436.99,153.54 439.58,155.29C442.18,157.04 445.35,160.15 446.5,161.12" fill="none" stroke="#f8e0b0" stroke-width="2.6" stroke-linecap="round" opacity="0.6" transform="translate(2.2,0)" filter="url(#blur05)"/><path d="M422.27,147.12C423.72,147.7 428.04,149.26 430.93,150.62C433.81,151.98 436.99,153.54 439.58,155.29C442.18,157.04 445.35,160.15 446.5,161.12" fill="none" stroke="#4a1a20" stroke-width="0.9" stroke-linecap="round" opacity="0.6" filter="url(#blur05)"/><path d="M418.81,154.12C420.26,154.7 424.58,156.26 427.47,157.62C430.35,158.98 434.68,161.51 436.12,162.29" fill="none" stroke="#f8e0b0" stroke-width="2.6" stroke-linecap="round" opacity="0.6" transform="translate(2.2,0)" filter="url(#blur05)"/><path d="M418.81,154.12C420.26,154.7 424.58,156.26 427.47,157.62C430.35,158.98 434.68,161.51 436.12,162.29" fill="none" stroke="#4a1a20" stroke-width="0.9" stroke-linecap="round" opacity="0.6" filter="url(#blur05)"/><path d="M460.35,149.45C461.5,150.23 464.96,152.95 467.27,154.12C469.58,155.29 473.04,156.06 474.19,156.45" fill="none" stroke="#f8e0b0" stroke-width="2.6" stroke-linecap="round" opacity="0.6" transform="translate(2.2,0)" filter="url(#blur05)"/><path d="M460.35,149.45C461.5,150.23 464.96,152.95 467.27,154.12C469.58,155.29 473.04,156.06 474.19,156.45" fill="none" stroke="#4a1a20" stroke-width="0.9" stroke-linecap="round" opacity="0.6" filter="url(#blur05)"/><path d="M410.16,115.61C411.03,116 414.49,117.56 415.35,117.95" fill="none" stroke="#f8e0b0" stroke-width="2.6" stroke-linecap="round" opacity="0.6" transform="translate(2.2,0)" filter="url(#blur05)"/><path d="M410.16,115.61C411.03,116 414.49,117.56 415.35,117.95" fill="none" stroke="#4a1a20" stroke-width="0.9" stroke-linecap="round" opacity="0.6" filter="url(#blur05)"/><path d="M456.89,114.45C457.46,114.84 460.06,115.61 460.35,116.78C460.64,117.95 458.91,120.67 458.62,121.45" fill="none" stroke="#f8e0b0" stroke-width="2.6" stroke-linecap="round" opacity="0.6" transform="translate(2.2,0)" filter="url(#blur05)"/><path d="M456.89,114.45C457.46,114.84 460.06,115.61 460.35,116.78C460.64,117.95 458.91,120.67 458.62,121.45" fill="none" stroke="#4a1a20" stroke-width="0.9" stroke-linecap="round" opacity="0.6" filter="url(#blur05)"/><path d="M430.93,130.78 Q446.5,138.37 462.08,149.45" fill="none" stroke="#4a3020" stroke-width="2" stroke-linecap="round" opacity="0.38" filter="url(#blur1)"/><path d="M430.93,130.78 Q433.96,143.62 440.45,156.45" fill="none" stroke="#4a3020" stroke-width="1.8" stroke-linecap="round" opacity="0.3" filter="url(#blur1)"/><path d="M392.85,143.3C393,142.19 393.31,140.34 393.83,138.88C394.36,137.42 394.86,135.88 396.01,134.54C397.15,133.21 398.94,132.03 400.69,130.86C402.44,129.7 404.9,128.88 406.52,127.53C408.14,126.19 408.95,124.26 410.41,122.8C411.87,121.34 413.79,119.97 415.28,118.78C416.76,117.58 417.86,116.53 419.32,115.65C420.78,114.77 422.55,114.38 424.04,113.52C425.53,112.66 426.8,111.31 428.26,110.49C429.72,109.67 431.46,108.91 432.8,108.61C434.14,108.32 435.12,108.48 436.29,108.71C437.46,108.95 438.32,109.75 439.81,110.02C441.29,110.28 443.46,110.02 445.21,110.31C446.97,110.6 448.54,111.24 450.32,111.77C452.1,112.29 454.15,112.73 455.91,113.46C457.66,114.19 459.05,114.95 460.83,116.15C462.61,117.34 464.82,119.01 466.57,120.62C468.32,122.22 469.87,123.92 471.34,125.78C472.82,127.64 474.26,129.72 475.42,131.76C476.59,133.81 477.69,135.97 478.35,138.05C479.01,140.12 479.24,142.17 479.39,144.21C479.53,146.25 479.54,148.56 479.22,150.31C478.91,152.06 478.06,153.23 477.47,154.69C476.89,156.15 476.67,157.97 475.72,159.07C474.77,160.16 473.09,160.53 471.78,161.26C470.46,161.99 469.22,163.16 467.84,163.45C466.45,163.74 464.92,163.16 463.46,163.01C462,162.87 460.46,163.16 459.08,162.57C457.69,161.99 456.45,160.53 455.14,159.51C453.82,158.49 452.07,156.56 451.19,156.44C450.32,156.32 450.32,158.02 449.88,158.81C449.44,159.59 449.08,160.43 448.57,161.17C448.05,161.92 447.4,162.57 446.81,163.27C446.23,163.97 445.94,164.89 445.06,165.38C444.19,165.86 442.73,165.9 441.56,166.16C440.39,166.43 439.37,167.16 438.05,166.95C436.74,166.75 435.13,165.61 433.67,164.94C432.21,164.27 430.75,163.77 429.29,162.92C427.83,162.08 426.37,160.88 424.91,159.86C423.45,158.84 422.14,157.55 420.53,156.79C418.93,156.03 417.03,155.8 415.28,155.3C413.53,154.81 411.78,154.35 410.02,153.81C408.27,153.27 406.52,152.65 404.77,152.06C403.02,151.48 400.83,150.82 399.51,150.31C398.2,149.8 397.76,149.43 396.88,149C396.01,148.56 394.91,148.26 394.26,147.68C393.6,147.11 393.19,146.27 392.96,145.54C392.72,144.81 392.71,144.41 392.85,143.3Z" fill="none" stroke="#3a2018" stroke-width="3.2" opacity="0.45" filter="url(#blur1)"/></g><path d="M392.85,143.3C393,142.19 393.31,140.34 393.83,138.88C394.36,137.42 394.86,135.88 396.01,134.54C397.15,133.21 398.94,132.03 400.69,130.86C402.44,129.7 404.9,128.88 406.52,127.53C408.14,126.19 408.95,124.26 410.41,122.8C411.87,121.34 413.79,119.97 415.28,118.78C416.76,117.58 417.86,116.53 419.32,115.65C420.78,114.77 422.55,114.38 424.04,113.52C425.53,112.66 426.8,111.31 428.26,110.49C429.72,109.67 431.46,108.91 432.8,108.61C434.14,108.32 435.12,108.48 436.29,108.71C437.46,108.95 438.32,109.75 439.81,110.02C441.29,110.28 443.46,110.02 445.21,110.31C446.97,110.6 448.54,111.24 450.32,111.77C452.1,112.29 454.15,112.73 455.91,113.46C457.66,114.19 459.05,114.95 460.83,116.15C462.61,117.34 464.82,119.01 466.57,120.62C468.32,122.22 469.87,123.92 471.34,125.78C472.82,127.64 474.26,129.72 475.42,131.76C476.59,133.81 477.69,135.97 478.35,138.05C479.01,140.12 479.24,142.17 479.39,144.21C479.53,146.25 479.54,148.56 479.22,150.31C478.91,152.06 478.06,153.23 477.47,154.69C476.89,156.15 476.67,157.97 475.72,159.07C474.77,160.16 473.09,160.53 471.78,161.26C470.46,161.99 469.22,163.16 467.84,163.45C466.45,163.74 464.92,163.16 463.46,163.01C462,162.87 460.46,163.16 459.08,162.57C457.69,161.99 456.45,160.53 455.14,159.51C453.82,158.49 452.07,156.56 451.19,156.44C450.32,156.32 450.32,158.02 449.88,158.81C449.44,159.59 449.08,160.43 448.57,161.17C448.05,161.92 447.4,162.57 446.81,163.27C446.23,163.97 445.94,164.89 445.06,165.38C444.19,165.86 442.73,165.9 441.56,166.16C440.39,166.43 439.37,167.16 438.05,166.95C436.74,166.75 435.13,165.61 433.67,164.94C432.21,164.27 430.75,163.77 429.29,162.92C427.83,162.08 426.37,160.88 424.91,159.86C423.45,158.84 422.14,157.55 420.53,156.79C418.93,156.03 417.03,155.8 415.28,155.3C413.53,154.81 411.78,154.35 410.02,153.81C408.27,153.27 406.52,152.65 404.77,152.06C403.02,151.48 400.83,150.82 399.51,150.31C398.2,149.8 397.76,149.43 396.88,149C396.01,148.56 394.91,148.26 394.26,147.68C393.6,147.11 393.19,146.27 392.96,145.54C392.72,144.81 392.71,144.41 392.85,143.3Z" fill="none" stroke="#3a2018" stroke-width="0.6" opacity="0.55"/>
<clipPath id="cc33"><path d="M484.11,139.77C484.11,138.52 484.14,136.92 484.75,135.58C485.35,134.25 486.59,133.18 487.76,131.74C488.93,130.29 490.05,128.37 491.76,126.91C493.46,125.45 496.36,124.37 497.98,122.98C499.59,121.58 499.99,119.76 501.45,118.54C502.91,117.33 504.73,116.85 506.74,115.68C508.75,114.51 511.08,112.56 513.51,111.53C515.95,110.51 519.32,110.03 521.34,109.55C523.35,109.07 524.16,108.55 525.62,108.64C527.08,108.74 528.33,109.8 530.09,110.13C531.86,110.47 534.29,110.09 536.24,110.65C538.18,111.21 539.76,112.75 541.77,113.49C543.79,114.23 546.39,114.24 548.34,115.09C550.29,115.94 551.58,117.26 553.45,118.6C555.33,119.93 557.89,121.39 559.59,123.1C561.3,124.8 562.37,126.93 563.67,128.82C564.97,130.71 566.55,132.49 567.41,134.44C568.26,136.39 568.41,138.62 568.78,140.5C569.15,142.38 569.73,144.02 569.61,145.72C569.49,147.42 568.8,149.27 568.05,150.72C567.3,152.16 566.1,153.15 565.13,154.36C564.16,155.58 563.43,157.16 562.21,158.01C561,158.87 559.29,158.99 557.83,159.47C556.37,159.96 555.03,160.93 553.45,160.93C551.87,160.93 550.05,159.96 548.34,159.47C546.64,158.99 544.39,158.11 543.23,158.01C542.08,157.92 542.02,158.6 541.41,158.89C540.8,159.18 539.95,159.28 539.58,159.77C539.22,160.25 539.34,161.13 539.22,161.81C539.1,162.49 539.52,163.27 538.85,163.85C538.18,164.44 536.42,164.83 535.2,165.31C533.99,165.8 532.89,166.77 531.55,166.77C530.22,166.77 528.64,165.8 527.18,165.31C525.72,164.83 524.26,164.71 522.8,163.85C521.34,163 519.88,161.42 518.42,160.2C516.96,158.99 515.5,157.53 514.04,156.55C512.58,155.58 511.12,155.09 509.66,154.36C508.2,153.64 506.74,152.78 505.28,152.18C503.82,151.57 502.36,151.2 500.9,150.72C499.44,150.23 497.98,149.74 496.52,149.26C495.06,148.77 493.6,148.28 492.14,147.8C490.68,147.31 488.99,147.12 487.76,146.34C486.53,145.55 485.34,144.18 484.73,143.09C484.13,141.99 484.11,141.02 484.11,139.77Z"/></clipPath><path d="M484.11,139.77C484.11,138.52 484.14,136.92 484.75,135.58C485.35,134.25 486.59,133.18 487.76,131.74C488.93,130.29 490.05,128.37 491.76,126.91C493.46,125.45 496.36,124.37 497.98,122.98C499.59,121.58 499.99,119.76 501.45,118.54C502.91,117.33 504.73,116.85 506.74,115.68C508.75,114.51 511.08,112.56 513.51,111.53C515.95,110.51 519.32,110.03 521.34,109.55C523.35,109.07 524.16,108.55 525.62,108.64C527.08,108.74 528.33,109.8 530.09,110.13C531.86,110.47 534.29,110.09 536.24,110.65C538.18,111.21 539.76,112.75 541.77,113.49C543.79,114.23 546.39,114.24 548.34,115.09C550.29,115.94 551.58,117.26 553.45,118.6C555.33,119.93 557.89,121.39 559.59,123.1C561.3,124.8 562.37,126.93 563.67,128.82C564.97,130.71 566.55,132.49 567.41,134.44C568.26,136.39 568.41,138.62 568.78,140.5C569.15,142.38 569.73,144.02 569.61,145.72C569.49,147.42 568.8,149.27 568.05,150.72C567.3,152.16 566.1,153.15 565.13,154.36C564.16,155.58 563.43,157.16 562.21,158.01C561,158.87 559.29,158.99 557.83,159.47C556.37,159.96 555.03,160.93 553.45,160.93C551.87,160.93 550.05,159.96 548.34,159.47C546.64,158.99 544.39,158.11 543.23,158.01C542.08,157.92 542.02,158.6 541.41,158.89C540.8,159.18 539.95,159.28 539.58,159.77C539.22,160.25 539.34,161.13 539.22,161.81C539.1,162.49 539.52,163.27 538.85,163.85C538.18,164.44 536.42,164.83 535.2,165.31C533.99,165.8 532.89,166.77 531.55,166.77C530.22,166.77 528.64,165.8 527.18,165.31C525.72,164.83 524.26,164.71 522.8,163.85C521.34,163 519.88,161.42 518.42,160.2C516.96,158.99 515.5,157.53 514.04,156.55C512.58,155.58 511.12,155.09 509.66,154.36C508.2,153.64 506.74,152.78 505.28,152.18C503.82,151.57 502.36,151.2 500.9,150.72C499.44,150.23 497.98,149.74 496.52,149.26C495.06,148.77 493.6,148.28 492.14,147.8C490.68,147.31 488.99,147.12 487.76,146.34C486.53,145.55 485.34,144.18 484.73,143.09C484.13,141.99 484.11,141.02 484.11,139.77Z" fill="#f0985c"/><g clip-path="url(#cc33)"><ellipse cx="485.82" cy="140.61" rx="8.55" ry="18.6" fill="#c42a5c" opacity="1" filter="url(#blur3)"/><ellipse cx="531.14" cy="140.61" rx="8.55" ry="7.56" fill="#c8305c" opacity="0.9" filter="url(#blur3)"/><ellipse cx="557.64" cy="155.15" rx="13.68" ry="13.95" fill="#c02a58" opacity="0.95" filter="url(#blur3)"/><ellipse cx="518.31" cy="165.03" rx="13.68" ry="4.65" fill="#d0405e" opacity="0.85" filter="url(#blur3)"/><ellipse cx="501.21" cy="115.62" rx="10.26" ry="6.98" fill="#d8506a" opacity="0.7" filter="url(#blur3)"/><ellipse cx="526.86" cy="110.97" rx="8.55" ry="4.65" fill="#d04060" opacity="0.7" filter="url(#blur3)"/><ellipse cx="565.34" cy="134.8" rx="5.13" ry="11.63" fill="#d04060" opacity="0.7" filter="url(#blur3)"/><path d="M520.87,129.57C522.67,128.7 533.34,134.8 537.33,137.13C541.32,139.45 550.14,144.84 550.8,147.01C551.46,149.18 544.99,152.32 542.25,153.4C539.51,154.49 532.73,156.45 530.28,155.15C527.83,153.85 525.12,147.05 523.87,143.64C522.61,140.23 519.08,130.44 520.87,129.57Z" fill="#c8305c" filter="url(#blur05)"/><path d="M531.99,109.81C531.56,111.06 530.28,114.84 529.43,117.36C528.57,119.88 527.71,122.69 526.86,124.92C526,127.15 524.72,129.76 524.29,130.73" fill="none" stroke="#f8b070" stroke-width="2.6" stroke-linecap="round" opacity="0.6" transform="translate(2.2,0)" filter="url(#blur05)"/><path d="M531.99,109.81C531.56,111.06 530.28,114.84 529.43,117.36C528.57,119.88 527.71,122.69 526.86,124.92C526,127.15 524.72,129.76 524.29,130.73" fill="none" stroke="#4a1a20" stroke-width="1.12" stroke-linecap="round" opacity="0.6" filter="url(#blur05)"/><path d="M524.29,111.55C523.87,112.81 522.58,116.68 521.73,119.11C520.87,121.53 519.73,123.95 519.16,126.08C518.59,128.21 518.45,130.93 518.31,131.9" fill="none" stroke="#f8b070" stroke-width="2.6" stroke-linecap="round" opacity="0.6" transform="translate(2.2,0)" filter="url(#blur05)"/><path d="M524.29,111.55C523.87,112.81 522.58,116.68 521.73,119.11C520.87,121.53 519.73,123.95 519.16,126.08C518.59,128.21 518.45,130.93 518.31,131.9" fill="none" stroke="#4a1a20" stroke-width="1.12" stroke-linecap="round" opacity="0.6" filter="url(#blur05)"/><path d="M538.83,112.13C538.4,113.49 537.12,117.65 536.27,120.27C535.41,122.88 534.41,125.4 533.7,127.83C532.99,130.25 532.28,133.64 531.99,134.8" fill="none" stroke="#f8b070" stroke-width="2.6" stroke-linecap="round" opacity="0.6" transform="translate(2.2,0)" filter="url(#blur05)"/><path d="M538.83,112.13C538.4,113.49 537.12,117.65 536.27,120.27C535.41,122.88 534.41,125.4 533.7,127.83C532.99,130.25 532.28,133.64 531.99,134.8" fill="none" stroke="#4a1a20" stroke-width="1.12" stroke-linecap="round" opacity="0.6" filter="url(#blur05)"/><path d="M537.12,117.94C538.55,118.33 542.82,119.11 545.67,120.27C548.52,121.43 551.66,122.98 554.22,124.92C556.79,126.86 559.92,130.73 561.06,131.9" fill="none" stroke="#f8b070" stroke-width="2.6" stroke-linecap="round" opacity="0.6" transform="translate(2.2,0)" filter="url(#blur05)"/><path d="M537.12,117.94C538.55,118.33 542.82,119.11 545.67,120.27C548.52,121.43 551.66,122.98 554.22,124.92C556.79,126.86 559.92,130.73 561.06,131.9" fill="none" stroke="#4a1a20" stroke-width="1.12" stroke-linecap="round" opacity="0.6" filter="url(#blur05)"/><path d="M535.41,129.57C536.84,129.96 541.11,130.73 543.96,131.9C546.81,133.06 549.95,134.41 552.51,136.55C555.08,138.68 558.21,143.33 559.35,144.68" fill="none" stroke="#f8b070" stroke-width="2.6" stroke-linecap="round" opacity="0.6" transform="translate(2.2,0)" filter="url(#blur05)"/><path d="M535.41,129.57C536.84,129.96 541.11,130.73 543.96,131.9C546.81,133.06 549.95,134.41 552.51,136.55C555.08,138.68 558.21,143.33 559.35,144.68" fill="none" stroke="#4a1a20" stroke-width="1.12" stroke-linecap="round" opacity="0.6" filter="url(#blur05)"/><path d="M540.54,137.71C541.4,138.29 545.1,140.03 545.67,141.2C546.24,142.36 544.25,144.1 543.96,144.68" fill="none" stroke="#f8b070" stroke-width="2.6" stroke-linecap="round" opacity="0.6" transform="translate(2.2,0)" filter="url(#blur05)"/><path d="M540.54,137.71C541.4,138.29 545.1,140.03 545.67,141.2C546.24,142.36 544.25,144.1 543.96,144.68" fill="none" stroke="#4a1a20" stroke-width="1.12" stroke-linecap="round" opacity="0.6" filter="url(#blur05)"/><path d="M509.76,119.11C510.61,119.88 514.32,122.01 514.89,123.76C515.46,125.5 514.03,127.63 513.18,129.57C512.32,131.51 510.33,134.41 509.76,135.38" fill="none" stroke="#f8b070" stroke-width="2.6" stroke-linecap="round" opacity="0.6" transform="translate(2.2,0)" filter="url(#blur05)"/><path d="M509.76,119.11C510.61,119.88 514.32,122.01 514.89,123.76C515.46,125.5 514.03,127.63 513.18,129.57C512.32,131.51 510.33,134.41 509.76,135.38" fill="none" stroke="#4a1a20" stroke-width="1.12" stroke-linecap="round" opacity="0.6" filter="url(#blur05)"/><path d="M497.79,126.08C498.93,126.47 502.92,127.05 504.63,128.41C506.34,129.76 507.48,133.25 508.05,134.22" fill="none" stroke="#f8b070" stroke-width="2.6" stroke-linecap="round" opacity="0.6" transform="translate(2.2,0)" filter="url(#blur05)"/><path d="M497.79,126.08C498.93,126.47 502.92,127.05 504.63,128.41C506.34,129.76 507.48,133.25 508.05,134.22" fill="none" stroke="#4a1a20" stroke-width="1.12" stroke-linecap="round" opacity="0.6" filter="url(#blur05)"/><path d="M489.24,137.71C490.38,138.1 493.8,139.26 496.08,140.03C498.36,140.81 500.64,141.58 502.92,142.36C505.2,143.13 508.62,144.3 509.76,144.68" fill="none" stroke="#f8b070" stroke-width="2.6" stroke-linecap="round" opacity="0.6" transform="translate(2.2,0)" filter="url(#blur05)"/><path d="M489.24,137.71C490.38,138.1 493.8,139.26 496.08,140.03C498.36,140.81 500.64,141.58 502.92,142.36C505.2,143.13 508.62,144.3 509.76,144.68" fill="none" stroke="#4a1a20" stroke-width="1.12" stroke-linecap="round" opacity="0.6" filter="url(#blur05)"/><path d="M513.18,147.01C514.6,147.59 518.88,149.14 521.73,150.5C524.58,151.85 527.71,153.4 530.28,155.15C532.85,156.89 535.98,159.99 537.12,160.96" fill="none" stroke="#f8b070" stroke-width="2.6" stroke-linecap="round" opacity="0.6" transform="translate(2.2,0)" filter="url(#blur05)"/><path d="M513.18,147.01C514.6,147.59 518.88,149.14 521.73,150.5C524.58,151.85 527.71,153.4 530.28,155.15C532.85,156.89 535.98,159.99 537.12,160.96" fill="none" stroke="#4a1a20" stroke-width="1.12" stroke-linecap="round" opacity="0.6" filter="url(#blur05)"/><path d="M509.76,153.98C511.18,154.57 515.46,156.12 518.31,157.47C521.16,158.83 525.43,161.35 526.86,162.12" fill="none" stroke="#f8b070" stroke-width="2.6" stroke-linecap="round" opacity="0.6" transform="translate(2.2,0)" filter="url(#blur05)"/><path d="M509.76,153.98C511.18,154.57 515.46,156.12 518.31,157.47C521.16,158.83 525.43,161.35 526.86,162.12" fill="none" stroke="#4a1a20" stroke-width="1.12" stroke-linecap="round" opacity="0.6" filter="url(#blur05)"/><path d="M550.8,149.33C551.94,150.11 555.36,152.82 557.64,153.98C559.92,155.15 563.34,155.92 564.48,156.31" fill="none" stroke="#f8b070" stroke-width="2.6" stroke-linecap="round" opacity="0.6" transform="translate(2.2,0)" filter="url(#blur05)"/><path d="M550.8,149.33C551.94,150.11 555.36,152.82 557.64,153.98C559.92,155.15 563.34,155.92 564.48,156.31" fill="none" stroke="#4a1a20" stroke-width="1.12" stroke-linecap="round" opacity="0.6" filter="url(#blur05)"/><path d="M501.21,115.62C502.06,116.01 505.48,117.56 506.34,117.94" fill="none" stroke="#f8b070" stroke-width="2.6" stroke-linecap="round" opacity="0.6" transform="translate(2.2,0)" filter="url(#blur05)"/><path d="M501.21,115.62C502.06,116.01 505.48,117.56 506.34,117.94" fill="none" stroke="#4a1a20" stroke-width="1.12" stroke-linecap="round" opacity="0.6" filter="url(#blur05)"/><path d="M547.38,114.46C547.95,114.84 550.52,115.62 550.8,116.78C551.09,117.94 549.38,120.66 549.09,121.43" fill="none" stroke="#f8b070" stroke-width="2.6" stroke-linecap="round" opacity="0.6" transform="translate(2.2,0)" filter="url(#blur05)"/><path d="M547.38,114.46C547.95,114.84 550.52,115.62 550.8,116.78C551.09,117.94 549.38,120.66 549.09,121.43" fill="none" stroke="#4a1a20" stroke-width="1.12" stroke-linecap="round" opacity="0.6" filter="url(#blur05)"/><path d="M520.87,129.57 Q535.84,136.55 550.8,147.01" fill="none" stroke="#4a3020" stroke-width="2" stroke-linecap="round" opacity="0.38" filter="url(#blur1)"/><path d="M520.87,129.57 Q523.87,142.36 530.28,155.15" fill="none" stroke="#4a3020" stroke-width="1.8" stroke-linecap="round" opacity="0.3" filter="url(#blur1)"/><path d="M484.11,139.77C484.11,138.52 484.14,136.92 484.75,135.58C485.35,134.25 486.59,133.18 487.76,131.74C488.93,130.29 490.05,128.37 491.76,126.91C493.46,125.45 496.36,124.37 497.98,122.98C499.59,121.58 499.99,119.76 501.45,118.54C502.91,117.33 504.73,116.85 506.74,115.68C508.75,114.51 511.08,112.56 513.51,111.53C515.95,110.51 519.32,110.03 521.34,109.55C523.35,109.07 524.16,108.55 525.62,108.64C527.08,108.74 528.33,109.8 530.09,110.13C531.86,110.47 534.29,110.09 536.24,110.65C538.18,111.21 539.76,112.75 541.77,113.49C543.79,114.23 546.39,114.24 548.34,115.09C550.29,115.94 551.58,117.26 553.45,118.6C555.33,119.93 557.89,121.39 559.59,123.1C561.3,124.8 562.37,126.93 563.67,128.82C564.97,130.71 566.55,132.49 567.41,134.44C568.26,136.39 568.41,138.62 568.78,140.5C569.15,142.38 569.73,144.02 569.61,145.72C569.49,147.42 568.8,149.27 568.05,150.72C567.3,152.16 566.1,153.15 565.13,154.36C564.16,155.58 563.43,157.16 562.21,158.01C561,158.87 559.29,158.99 557.83,159.47C556.37,159.96 555.03,160.93 553.45,160.93C551.87,160.93 550.05,159.96 548.34,159.47C546.64,158.99 544.39,158.11 543.23,158.01C542.08,157.92 542.02,158.6 541.41,158.89C540.8,159.18 539.95,159.28 539.58,159.77C539.22,160.25 539.34,161.13 539.22,161.81C539.1,162.49 539.52,163.27 538.85,163.85C538.18,164.44 536.42,164.83 535.2,165.31C533.99,165.8 532.89,166.77 531.55,166.77C530.22,166.77 528.64,165.8 527.18,165.31C525.72,164.83 524.26,164.71 522.8,163.85C521.34,163 519.88,161.42 518.42,160.2C516.96,158.99 515.5,157.53 514.04,156.55C512.58,155.58 511.12,155.09 509.66,154.36C508.2,153.64 506.74,152.78 505.28,152.18C503.82,151.57 502.36,151.2 500.9,150.72C499.44,150.23 497.98,149.74 496.52,149.26C495.06,148.77 493.6,148.28 492.14,147.8C490.68,147.31 488.99,147.12 487.76,146.34C486.53,145.55 485.34,144.18 484.73,143.09C484.13,141.99 484.11,141.02 484.11,139.77Z" fill="none" stroke="#3a2018" stroke-width="3.2" opacity="0.45" filter="url(#blur1)"/></g><path d="M484.11,139.77C484.11,138.52 484.14,136.92 484.75,135.58C485.35,134.25 486.59,133.18 487.76,131.74C488.93,130.29 490.05,128.37 491.76,126.91C493.46,125.45 496.36,124.37 497.98,122.98C499.59,121.58 499.99,119.76 501.45,118.54C502.91,117.33 504.73,116.85 506.74,115.68C508.75,114.51 511.08,112.56 513.51,111.53C515.95,110.51 519.32,110.03 521.34,109.55C523.35,109.07 524.16,108.55 525.62,108.64C527.08,108.74 528.33,109.8 530.09,110.13C531.86,110.47 534.29,110.09 536.24,110.65C538.18,111.21 539.76,112.75 541.77,113.49C543.79,114.23 546.39,114.24 548.34,115.09C550.29,115.94 551.58,117.26 553.45,118.6C555.33,119.93 557.89,121.39 559.59,123.1C561.3,124.8 562.37,126.93 563.67,128.82C564.97,130.71 566.55,132.49 567.41,134.44C568.26,136.39 568.41,138.62 568.78,140.5C569.15,142.38 569.73,144.02 569.61,145.72C569.49,147.42 568.8,149.27 568.05,150.72C567.3,152.16 566.1,153.15 565.13,154.36C564.16,155.58 563.43,157.16 562.21,158.01C561,158.87 559.29,158.99 557.83,159.47C556.37,159.96 555.03,160.93 553.45,160.93C551.87,160.93 550.05,159.96 548.34,159.47C546.64,158.99 544.39,158.11 543.23,158.01C542.08,157.92 542.02,158.6 541.41,158.89C540.8,159.18 539.95,159.28 539.58,159.77C539.22,160.25 539.34,161.13 539.22,161.81C539.1,162.49 539.52,163.27 538.85,163.85C538.18,164.44 536.42,164.83 535.2,165.31C533.99,165.8 532.89,166.77 531.55,166.77C530.22,166.77 528.64,165.8 527.18,165.31C525.72,164.83 524.26,164.71 522.8,163.85C521.34,163 519.88,161.42 518.42,160.2C516.96,158.99 515.5,157.53 514.04,156.55C512.58,155.58 511.12,155.09 509.66,154.36C508.2,153.64 506.74,152.78 505.28,152.18C503.82,151.57 502.36,151.2 500.9,150.72C499.44,150.23 497.98,149.74 496.52,149.26C495.06,148.77 493.6,148.28 492.14,147.8C490.68,147.31 488.99,147.12 487.76,146.34C486.53,145.55 485.34,144.18 484.73,143.09C484.13,141.99 484.11,141.02 484.11,139.77Z" fill="none" stroke="#3a2018" stroke-width="0.6" opacity="0.55"/>
<clipPath id="cc36"><path d="M575.39,138.05C575.54,136.69 575.66,135.54 576.39,134.37C577.12,133.2 578.81,132.17 579.77,131.04C580.73,129.91 580.97,128.59 582.14,127.57C583.31,126.55 585.44,126.05 586.78,124.91C588.11,123.76 588.71,121.88 590.17,120.72C591.63,119.55 594.18,118.89 595.53,117.9C596.89,116.91 597.13,115.5 598.3,114.77C599.47,114.04 601.18,114.28 602.54,113.52C603.91,112.76 605.02,110.94 606.48,110.21C607.94,109.48 609.94,109.41 611.3,109.14C612.67,108.86 613.5,108.36 614.66,108.56C615.83,108.77 616.79,110.15 618.31,110.37C619.83,110.59 622.02,109.65 623.77,109.88C625.52,110.12 627,111.33 628.82,111.77C630.64,112.2 632.93,111.9 634.68,112.48C636.43,113.07 637.52,114.2 639.33,115.27C641.14,116.34 643.78,117.44 645.53,118.9C647.28,120.36 648.28,122.21 649.84,124.03C651.41,125.85 653.62,127.78 654.94,129.83C656.25,131.87 656.84,134.18 657.73,136.29C658.61,138.4 659.8,140.44 660.24,142.49C660.68,144.53 660.63,146.74 660.36,148.56C660.08,150.37 659.19,151.77 658.6,153.38C658.02,154.98 657.87,156.95 656.85,158.19C655.83,159.43 653.93,159.95 652.47,160.82C651.01,161.7 649.55,163.16 648.09,163.45C646.63,163.74 645.17,162.87 643.71,162.57C642.25,162.28 640.62,162.21 639.33,161.7C638.05,161.19 637.11,160.24 636,159.51C634.89,158.78 633.32,157.1 632.68,157.32C632.03,157.54 632.33,159.65 632.15,160.82C631.97,161.99 632.38,163.45 631.62,164.33C630.87,165.2 628.94,165.49 627.59,166.08C626.25,166.66 624.82,167.68 623.57,167.83C622.31,167.98 621.23,167.25 620.06,166.95C618.89,166.66 617.87,166.81 616.56,166.08C615.24,165.35 613.64,163.74 612.18,162.57C610.72,161.41 609.4,160.09 607.8,159.07C606.19,158.05 604.29,157.32 602.54,156.44C600.79,155.57 599.04,154.54 597.29,153.81C595.53,153.08 593.78,152.65 592.03,152.06C590.28,151.48 588.38,150.89 586.78,150.31C585.17,149.73 583.86,149.14 582.4,148.56C580.94,147.97 579.16,147.82 578.02,146.81C576.87,145.79 575.94,143.94 575.5,142.48C575.06,141.02 575.24,139.4 575.39,138.05Z"/></clipPath><path d="M575.39,138.05C575.54,136.69 575.66,135.54 576.39,134.37C577.12,133.2 578.81,132.17 579.77,131.04C580.73,129.91 580.97,128.59 582.14,127.57C583.31,126.55 585.44,126.05 586.78,124.91C588.11,123.76 588.71,121.88 590.17,120.72C591.63,119.55 594.18,118.89 595.53,117.9C596.89,116.91 597.13,115.5 598.3,114.77C599.47,114.04 601.18,114.28 602.54,113.52C603.91,112.76 605.02,110.94 606.48,110.21C607.94,109.48 609.94,109.41 611.3,109.14C612.67,108.86 613.5,108.36 614.66,108.56C615.83,108.77 616.79,110.15 618.31,110.37C619.83,110.59 622.02,109.65 623.77,109.88C625.52,110.12 627,111.33 628.82,111.77C630.64,112.2 632.93,111.9 634.68,112.48C636.43,113.07 637.52,114.2 639.33,115.27C641.14,116.34 643.78,117.44 645.53,118.9C647.28,120.36 648.28,122.21 649.84,124.03C651.41,125.85 653.62,127.78 654.94,129.83C656.25,131.87 656.84,134.18 657.73,136.29C658.61,138.4 659.8,140.44 660.24,142.49C660.68,144.53 660.63,146.74 660.36,148.56C660.08,150.37 659.19,151.77 658.6,153.38C658.02,154.98 657.87,156.95 656.85,158.19C655.83,159.43 653.93,159.95 652.47,160.82C651.01,161.7 649.55,163.16 648.09,163.45C646.63,163.74 645.17,162.87 643.71,162.57C642.25,162.28 640.62,162.21 639.33,161.7C638.05,161.19 637.11,160.24 636,159.51C634.89,158.78 633.32,157.1 632.68,157.32C632.03,157.54 632.33,159.65 632.15,160.82C631.97,161.99 632.38,163.45 631.62,164.33C630.87,165.2 628.94,165.49 627.59,166.08C626.25,166.66 624.82,167.68 623.57,167.83C622.31,167.98 621.23,167.25 620.06,166.95C618.89,166.66 617.87,166.81 616.56,166.08C615.24,165.35 613.64,163.74 612.18,162.57C610.72,161.41 609.4,160.09 607.8,159.07C606.19,158.05 604.29,157.32 602.54,156.44C600.79,155.57 599.04,154.54 597.29,153.81C595.53,153.08 593.78,152.65 592.03,152.06C590.28,151.48 588.38,150.89 586.78,150.31C585.17,149.73 583.86,149.14 582.4,148.56C580.94,147.97 579.16,147.82 578.02,146.81C576.87,145.79 575.94,143.94 575.5,142.48C575.06,141.02 575.24,139.4 575.39,138.05Z" fill="#c8335c"/><g clip-path="url(#cc36)"><ellipse cx="600.88" cy="133.45" rx="11.05" ry="15.41" fill="#ee8a58" opacity="0.9" filter="url(#blur3)"/><ellipse cx="615.32" cy="127.53" rx="6.8" ry="9.48" fill="#f08e5a" opacity="0.85" filter="url(#blur3)"/><ellipse cx="596.63" cy="148.86" rx="8.5" ry="8.3" fill="#ee8a58" opacity="0.75" filter="url(#blur3)"/><ellipse cx="628.07" cy="125.16" rx="6.8" ry="8.89" fill="#e86a5c" opacity="0.6" filter="url(#blur3)"/><ellipse cx="639.11" cy="120.41" rx="5.95" ry="7.11" fill="#e8705a" opacity="0.5" filter="url(#blur3)"/><ellipse cx="577.09" cy="141.16" rx="6.8" ry="14.82" fill="#b82458" opacity="1" filter="url(#blur3)"/><path d="M611.07,129.9C612.85,128.93 623.11,134.8 626.96,137.01C630.82,139.22 639.36,144.28 639.96,146.49C640.56,148.71 634.19,152.34 631.47,153.6C628.75,154.87 621.95,157.22 619.57,155.98C617.19,154.73 614.76,147.72 613.62,144.24C612.49,140.76 609.3,130.86 611.07,129.9Z" fill="#c02a58" filter="url(#blur05)"/><path d="M622.97,109.75C622.55,111.03 621.27,114.88 620.42,117.45C619.57,120.02 618.72,122.88 617.87,125.16C617.02,127.43 615.75,130.1 615.32,131.08" fill="none" stroke="#e4705a" stroke-width="2.6" stroke-linecap="round" opacity="0.6" transform="translate(2.2,0)" filter="url(#blur05)"/><path d="M622.97,109.75C622.55,111.03 621.27,114.88 620.42,117.45C619.57,120.02 618.72,122.88 617.87,125.16C617.02,127.43 615.75,130.1 615.32,131.08" fill="none" stroke="#4a1a20" stroke-width="1.26" stroke-linecap="round" opacity="0.6" filter="url(#blur05)"/><path d="M615.32,111.52C614.9,112.81 613.62,116.76 612.77,119.23C611.92,121.7 610.79,124.17 610.22,126.34C609.66,128.51 609.52,131.28 609.37,132.27" fill="none" stroke="#e4705a" stroke-width="2.6" stroke-linecap="round" opacity="0.6" transform="translate(2.2,0)" filter="url(#blur05)"/><path d="M615.32,111.52C614.9,112.81 613.62,116.76 612.77,119.23C611.92,121.7 610.79,124.17 610.22,126.34C609.66,128.51 609.52,131.28 609.37,132.27" fill="none" stroke="#4a1a20" stroke-width="1.26" stroke-linecap="round" opacity="0.6" filter="url(#blur05)"/><path d="M629.77,112.12C629.34,113.5 628.07,117.75 627.22,120.41C626.37,123.08 625.38,125.65 624.67,128.12C623.96,130.59 623.25,134.05 622.97,135.23" fill="none" stroke="#e4705a" stroke-width="2.6" stroke-linecap="round" opacity="0.6" transform="translate(2.2,0)" filter="url(#blur05)"/><path d="M629.77,112.12C629.34,113.5 628.07,117.75 627.22,120.41C626.37,123.08 625.38,125.65 624.67,128.12C623.96,130.59 623.25,134.05 622.97,135.23" fill="none" stroke="#4a1a20" stroke-width="1.26" stroke-linecap="round" opacity="0.6" filter="url(#blur05)"/><path d="M628.07,118.04C629.48,118.44 633.73,119.23 636.56,120.41C639.4,121.6 642.51,123.18 645.06,125.16C647.61,127.13 650.73,131.08 651.86,132.27" fill="none" stroke="#e4705a" stroke-width="2.6" stroke-linecap="round" opacity="0.6" transform="translate(2.2,0)" filter="url(#blur05)"/><path d="M628.07,118.04C629.48,118.44 633.73,119.23 636.56,120.41C639.4,121.6 642.51,123.18 645.06,125.16C647.61,127.13 650.73,131.08 651.86,132.27" fill="none" stroke="#4a1a20" stroke-width="1.26" stroke-linecap="round" opacity="0.6" filter="url(#blur05)"/><path d="M626.37,129.9C627.78,130.29 632.03,131.08 634.87,132.27C637.7,133.45 640.81,134.84 643.36,137.01C645.91,139.18 649.03,143.92 650.16,145.31" fill="none" stroke="#e4705a" stroke-width="2.6" stroke-linecap="round" opacity="0.6" transform="translate(2.2,0)" filter="url(#blur05)"/><path d="M626.37,129.9C627.78,130.29 632.03,131.08 634.87,132.27C637.7,133.45 640.81,134.84 643.36,137.01C645.91,139.18 649.03,143.92 650.16,145.31" fill="none" stroke="#4a1a20" stroke-width="1.26" stroke-linecap="round" opacity="0.6" filter="url(#blur05)"/><path d="M631.47,138.2C632.32,138.79 636,140.57 636.56,141.75C637.13,142.94 635.15,144.71 634.87,145.31" fill="none" stroke="#e4705a" stroke-width="2.6" stroke-linecap="round" opacity="0.6" transform="translate(2.2,0)" filter="url(#blur05)"/><path d="M631.47,138.2C632.32,138.79 636,140.57 636.56,141.75C637.13,142.94 635.15,144.71 634.87,145.31" fill="none" stroke="#4a1a20" stroke-width="1.26" stroke-linecap="round" opacity="0.6" filter="url(#blur05)"/><path d="M600.88,119.23C601.73,120.02 605.41,122.19 605.98,123.97C606.54,125.75 605.13,127.92 604.28,129.9C603.43,131.87 601.44,134.84 600.88,135.82" fill="none" stroke="#e4705a" stroke-width="2.6" stroke-linecap="round" opacity="0.6" transform="translate(2.2,0)" filter="url(#blur05)"/><path d="M600.88,119.23C601.73,120.02 605.41,122.19 605.98,123.97C606.54,125.75 605.13,127.92 604.28,129.9C603.43,131.87 601.44,134.84 600.88,135.82" fill="none" stroke="#4a1a20" stroke-width="1.26" stroke-linecap="round" opacity="0.6" filter="url(#blur05)"/><path d="M588.98,126.34C590.12,126.74 594.08,127.33 595.78,128.71C597.48,130.1 598.61,133.65 599.18,134.64" fill="none" stroke="#e4705a" stroke-width="2.6" stroke-linecap="round" opacity="0.6" transform="translate(2.2,0)" filter="url(#blur05)"/><path d="M588.98,126.34C590.12,126.74 594.08,127.33 595.78,128.71C597.48,130.1 598.61,133.65 599.18,134.64" fill="none" stroke="#4a1a20" stroke-width="1.26" stroke-linecap="round" opacity="0.6" filter="url(#blur05)"/><path d="M580.49,138.2C581.62,138.59 585.02,139.78 587.28,140.57C589.55,141.36 591.81,142.15 594.08,142.94C596.35,143.73 599.75,144.91 600.88,145.31" fill="none" stroke="#e4705a" stroke-width="2.6" stroke-linecap="round" opacity="0.6" transform="translate(2.2,0)" filter="url(#blur05)"/><path d="M580.49,138.2C581.62,138.59 585.02,139.78 587.28,140.57C589.55,141.36 591.81,142.15 594.08,142.94C596.35,143.73 599.75,144.91 600.88,145.31" fill="none" stroke="#4a1a20" stroke-width="1.26" stroke-linecap="round" opacity="0.6" filter="url(#blur05)"/><path d="M604.28,147.68C605.69,148.27 609.94,149.85 612.77,151.23C615.61,152.62 618.72,154.2 621.27,155.98C623.82,157.75 626.94,160.91 628.07,161.9" fill="none" stroke="#e4705a" stroke-width="2.6" stroke-linecap="round" opacity="0.6" transform="translate(2.2,0)" filter="url(#blur05)"/><path d="M604.28,147.68C605.69,148.27 609.94,149.85 612.77,151.23C615.61,152.62 618.72,154.2 621.27,155.98C623.82,157.75 626.94,160.91 628.07,161.9" fill="none" stroke="#4a1a20" stroke-width="1.26" stroke-linecap="round" opacity="0.6" filter="url(#blur05)"/><path d="M600.88,154.79C602.29,155.38 606.54,156.96 609.37,158.35C612.21,159.73 616.46,162.3 617.87,163.09" fill="none" stroke="#e4705a" stroke-width="2.6" stroke-linecap="round" opacity="0.6" transform="translate(2.2,0)" filter="url(#blur05)"/><path d="M600.88,154.79C602.29,155.38 606.54,156.96 609.37,158.35C612.21,159.73 616.46,162.3 617.87,163.09" fill="none" stroke="#4a1a20" stroke-width="1.26" stroke-linecap="round" opacity="0.6" filter="url(#blur05)"/><path d="M641.66,150.05C642.8,150.84 646.19,153.6 648.46,154.79C650.73,155.98 654.12,156.77 655.26,157.16" fill="none" stroke="#e4705a" stroke-width="2.6" stroke-linecap="round" opacity="0.6" transform="translate(2.2,0)" filter="url(#blur05)"/><path d="M641.66,150.05C642.8,150.84 646.19,153.6 648.46,154.79C650.73,155.98 654.12,156.77 655.26,157.16" fill="none" stroke="#4a1a20" stroke-width="1.26" stroke-linecap="round" opacity="0.6" filter="url(#blur05)"/><path d="M592.38,115.67C593.23,116.07 596.63,117.65 597.48,118.04" fill="none" stroke="#e4705a" stroke-width="2.6" stroke-linecap="round" opacity="0.6" transform="translate(2.2,0)" filter="url(#blur05)"/><path d="M592.38,115.67C593.23,116.07 596.63,117.65 597.48,118.04" fill="none" stroke="#4a1a20" stroke-width="1.26" stroke-linecap="round" opacity="0.6" filter="url(#blur05)"/><path d="M638.26,114.49C638.83,114.88 641.38,115.67 641.66,116.86C641.95,118.04 640.25,120.81 639.96,121.6" fill="none" stroke="#e4705a" stroke-width="2.6" stroke-linecap="round" opacity="0.6" transform="translate(2.2,0)" filter="url(#blur05)"/><path d="M638.26,114.49C638.83,114.88 641.38,115.67 641.66,116.86C641.95,118.04 640.25,120.81 639.96,121.6" fill="none" stroke="#4a1a20" stroke-width="1.26" stroke-linecap="round" opacity="0.6" filter="url(#blur05)"/><path d="M611.07,129.9 Q625.52,136.42 639.96,146.49" fill="none" stroke="#4a3020" stroke-width="2" stroke-linecap="round" opacity="0.38" filter="url(#blur1)"/><path d="M611.07,129.9 Q613.62,142.94 619.57,155.98" fill="none" stroke="#4a3020" stroke-width="1.8" stroke-linecap="round" opacity="0.3" filter="url(#blur1)"/><path d="M575.39,138.05C575.54,136.69 575.66,135.54 576.39,134.37C577.12,133.2 578.81,132.17 579.77,131.04C580.73,129.91 580.97,128.59 582.14,127.57C583.31,126.55 585.44,126.05 586.78,124.91C588.11,123.76 588.71,121.88 590.17,120.72C591.63,119.55 594.18,118.89 595.53,117.9C596.89,116.91 597.13,115.5 598.3,114.77C599.47,114.04 601.18,114.28 602.54,113.52C603.91,112.76 605.02,110.94 606.48,110.21C607.94,109.48 609.94,109.41 611.3,109.14C612.67,108.86 613.5,108.36 614.66,108.56C615.83,108.77 616.79,110.15 618.31,110.37C619.83,110.59 622.02,109.65 623.77,109.88C625.52,110.12 627,111.33 628.82,111.77C630.64,112.2 632.93,111.9 634.68,112.48C636.43,113.07 637.52,114.2 639.33,115.27C641.14,116.34 643.78,117.44 645.53,118.9C647.28,120.36 648.28,122.21 649.84,124.03C651.41,125.85 653.62,127.78 654.94,129.83C656.25,131.87 656.84,134.18 657.73,136.29C658.61,138.4 659.8,140.44 660.24,142.49C660.68,144.53 660.63,146.74 660.36,148.56C660.08,150.37 659.19,151.77 658.6,153.38C658.02,154.98 657.87,156.95 656.85,158.19C655.83,159.43 653.93,159.95 652.47,160.82C651.01,161.7 649.55,163.16 648.09,163.45C646.63,163.74 645.17,162.87 643.71,162.57C642.25,162.28 640.62,162.21 639.33,161.7C638.05,161.19 637.11,160.24 636,159.51C634.89,158.78 633.32,157.1 632.68,157.32C632.03,157.54 632.33,159.65 632.15,160.82C631.97,161.99 632.38,163.45 631.62,164.33C630.87,165.2 628.94,165.49 627.59,166.08C626.25,166.66 624.82,167.68 623.57,167.83C622.31,167.98 621.23,167.25 620.06,166.95C618.89,166.66 617.87,166.81 616.56,166.08C615.24,165.35 613.64,163.74 612.18,162.57C610.72,161.41 609.4,160.09 607.8,159.07C606.19,158.05 604.29,157.32 602.54,156.44C600.79,155.57 599.04,154.54 597.29,153.81C595.53,153.08 593.78,152.65 592.03,152.06C590.28,151.48 588.38,150.89 586.78,150.31C585.17,149.73 583.86,149.14 582.4,148.56C580.94,147.97 579.16,147.82 578.02,146.81C576.87,145.79 575.94,143.94 575.5,142.48C575.06,141.02 575.24,139.4 575.39,138.05Z" fill="none" stroke="#3a2018" stroke-width="3.2" opacity="0.45" filter="url(#blur1)"/></g><path d="M575.39,138.05C575.54,136.69 575.66,135.54 576.39,134.37C577.12,133.2 578.81,132.17 579.77,131.04C580.73,129.91 580.97,128.59 582.14,127.57C583.31,126.55 585.44,126.05 586.78,124.91C588.11,123.76 588.71,121.88 590.17,120.72C591.63,119.55 594.18,118.89 595.53,117.9C596.89,116.91 597.13,115.5 598.3,114.77C599.47,114.04 601.18,114.28 602.54,113.52C603.91,112.76 605.02,110.94 606.48,110.21C607.94,109.48 609.94,109.41 611.3,109.14C612.67,108.86 613.5,108.36 614.66,108.56C615.83,108.77 616.79,110.15 618.31,110.37C619.83,110.59 622.02,109.65 623.77,109.88C625.52,110.12 627,111.33 628.82,111.77C630.64,112.2 632.93,111.9 634.68,112.48C636.43,113.07 637.52,114.2 639.33,115.27C641.14,116.34 643.78,117.44 645.53,118.9C647.28,120.36 648.28,122.21 649.84,124.03C651.41,125.85 653.62,127.78 654.94,129.83C656.25,131.87 656.84,134.18 657.73,136.29C658.61,138.4 659.8,140.44 660.24,142.49C660.68,144.53 660.63,146.74 660.36,148.56C660.08,150.37 659.19,151.77 658.6,153.38C658.02,154.98 657.87,156.95 656.85,158.19C655.83,159.43 653.93,159.95 652.47,160.82C651.01,161.7 649.55,163.16 648.09,163.45C646.63,163.74 645.17,162.87 643.71,162.57C642.25,162.28 640.62,162.21 639.33,161.7C638.05,161.19 637.11,160.24 636,159.51C634.89,158.78 633.32,157.1 632.68,157.32C632.03,157.54 632.33,159.65 632.15,160.82C631.97,161.99 632.38,163.45 631.62,164.33C630.87,165.2 628.94,165.49 627.59,166.08C626.25,166.66 624.82,167.68 623.57,167.83C622.31,167.98 621.23,167.25 620.06,166.95C618.89,166.66 617.87,166.81 616.56,166.08C615.24,165.35 613.64,163.74 612.18,162.57C610.72,161.41 609.4,160.09 607.8,159.07C606.19,158.05 604.29,157.32 602.54,156.44C600.79,155.57 599.04,154.54 597.29,153.81C595.53,153.08 593.78,152.65 592.03,152.06C590.28,151.48 588.38,150.89 586.78,150.31C585.17,149.73 583.86,149.14 582.4,148.56C580.94,147.97 579.16,147.82 578.02,146.81C576.87,145.79 575.94,143.94 575.5,142.48C575.06,141.02 575.24,139.4 575.39,138.05Z" fill="none" stroke="#3a2018" stroke-width="0.6" opacity="0.55"/>
<text x="275" y="77.2" font-size="9.8" textLength="9.6" lengthAdjust="spacingAndGlyphs">21</text>
<text x="272.2" y="174" font-size="9.8" textLength="9.6" lengthAdjust="spacingAndGlyphs">21</text>
<text x="370.2" y="77.2" font-size="9.8" textLength="10.9" lengthAdjust="spacingAndGlyphs">25</text>
<text x="367.4" y="174" font-size="9.8" textLength="10.9" lengthAdjust="spacingAndGlyphs">25</text>
<text x="465.7" y="77.2" font-size="9.8" textLength="10.5" lengthAdjust="spacingAndGlyphs">29</text>
<text x="462.9" y="174" font-size="9.8" textLength="10.5" lengthAdjust="spacingAndGlyphs">29</text>
<text x="558" y="77.2" font-size="9.8" textLength="9.6" lengthAdjust="spacingAndGlyphs">33</text>
<text x="555.2" y="174" font-size="9.8" textLength="9.6" lengthAdjust="spacingAndGlyphs">33</text>
<text x="647.7" y="77.2" font-size="9.8" textLength="10.2" lengthAdjust="spacingAndGlyphs">36</text>
<text x="644.9" y="174" font-size="9.8" textLength="10.2" lengthAdjust="spacingAndGlyphs">36</text>
<text x="212.8" y="75.9" font-size="9.4" textLength="16.6" lengthAdjust="spacingAndGlyphs">GW</text>
<text x="213.6" y="173.7" font-size="9.4" textLength="16.4" lengthAdjust="spacingAndGlyphs">GW</text>
<text x="546.6" y="102.5" font-size="9" textLength="22.4" lengthAdjust="spacingAndGlyphs">lower</text>
<text x="657.9" y="102.6" font-size="9" textLength="26.2" lengthAdjust="spacingAndGlyphs">higher</text>
<rect x="572" y="96.9" width="85" height="6.1" fill="url(#magma)"/>
<rect x="44.5" y="303.4" width="119.8" height="88" fill="none" stroke="#888" stroke-width="0.8"/>
<text x="42.3" y="393.8" font-size="7.6" text-anchor="end" fill="#222">0</text>
<text x="42.3" y="372" font-size="7.6" text-anchor="end" fill="#222">10000</text>
<text x="42.3" y="350.2" font-size="7.6" text-anchor="end" fill="#222">20000</text>
<text x="42.3" y="328.4" font-size="7.6" text-anchor="end" fill="#222">30000</text>
<text x="74.4" y="399.6" font-size="7.6" text-anchor="middle" fill="#222">25</text>
<text x="106.2" y="399.6" font-size="7.6" text-anchor="middle" fill="#222">30</text>
<text x="138" y="399.6" font-size="7.6" text-anchor="middle" fill="#222">35</text>
<text x="104.4" y="409.2" font-size="7.8" text-anchor="middle" fill="#222" textLength="98.8" lengthAdjust="spacingAndGlyphs">gestational age / weeks</text>
<text transform="translate(16.6,394.5) rotate(-90)" font-size="7.8" fill="#222" textLength="96.5" lengthAdjust="spacingAndGlyphs">total surface area/mm<tspan font-size="5.2" dy="-3">2</tspan></text>
<g fill="#f9b8c5" fill-opacity="0.9" stroke="#5a4448" stroke-width="0.4"><circle cx="98.86" cy="368.13" r="3.3"/><circle cx="100.09" cy="365.89" r="3.3"/><circle cx="103.98" cy="363.49" r="3.3"/><circle cx="104.36" cy="362.99" r="3.3"/><circle cx="115.07" cy="355.68" r="3.3"/><circle cx="84.75" cy="372" r="3.3"/><circle cx="63.14" cy="377.93" r="3.3"/><circle cx="57.63" cy="380.43" r="3.3"/><circle cx="146.01" cy="322.53" r="3.3"/><circle cx="113.78" cy="357.31" r="3.3"/><circle cx="70.22" cy="375.49" r="3.3"/><circle cx="59.67" cy="379.06" r="3.3"/><circle cx="73.56" cy="375.39" r="3.3"/><circle cx="99.93" cy="364.54" r="3.3"/><circle cx="97.76" cy="365.12" r="3.3"/><circle cx="116.01" cy="357.07" r="3.3"/><circle cx="103.24" cy="363.94" r="3.3"/><circle cx="82.3" cy="373.37" r="3.3"/><circle cx="147.34" cy="322.53" r="3.3"/><circle cx="122.04" cy="350.9" r="3.3"/><circle cx="85.9" cy="371.03" r="3.3"/><circle cx="60.88" cy="378.34" r="3.3"/><circle cx="127.22" cy="350.04" r="3.3"/><circle cx="92.69" cy="367.02" r="3.3"/><circle cx="143.93" cy="329.39" r="3.3"/><circle cx="75.53" cy="374.81" r="3.3"/><circle cx="139.8" cy="342.05" r="3.3"/><circle cx="93.72" cy="367.24" r="3.3"/><circle cx="61.19" cy="379.51" r="3.3"/><circle cx="81.48" cy="373.94" r="3.3"/><circle cx="62.75" cy="379.21" r="3.3"/><circle cx="126.49" cy="342.22" r="3.3"/><circle cx="66.08" cy="377.53" r="3.3"/><circle cx="59.71" cy="378.84" r="3.3"/><circle cx="129.92" cy="342.8" r="3.3"/><circle cx="98.4" cy="364.17" r="3.3"/><circle cx="73.61" cy="375.43" r="3.3"/><circle cx="116.32" cy="355.98" r="3.3"/><circle cx="65.92" cy="377.99" r="3.3"/><circle cx="81.48" cy="372.48" r="3.3"/><circle cx="145.04" cy="327.22" r="3.3"/><circle cx="137.6" cy="338.78" r="3.3"/><circle cx="75.63" cy="376.03" r="3.3"/><circle cx="116.15" cy="352.97" r="3.3"/><circle cx="64.19" cy="377.57" r="3.3"/><circle cx="80.35" cy="373.22" r="3.3"/><circle cx="127.78" cy="346.94" r="3.3"/><circle cx="61.23" cy="378.3" r="3.3"/><circle cx="63.08" cy="378.72" r="3.3"/><circle cx="112.5" cy="358.23" r="3.3"/><circle cx="91.29" cy="371.62" r="3.3"/><circle cx="101.76" cy="362.92" r="3.3"/><circle cx="110.08" cy="358.47" r="3.3"/><circle cx="69.87" cy="376.84" r="3.3"/><circle cx="139.64" cy="333.49" r="3.3"/><circle cx="73.52" cy="375.96" r="3.3"/><circle cx="124.84" cy="347.22" r="3.3"/><circle cx="143.25" cy="331" r="3.3"/><circle cx="137.36" cy="339.09" r="3.3"/><circle cx="64.56" cy="378.35" r="3.3"/><circle cx="57.25" cy="379.27" r="3.3"/><circle cx="121.75" cy="351.36" r="3.3"/><circle cx="80.22" cy="372.68" r="3.3"/><circle cx="83.79" cy="373.1" r="3.3"/><circle cx="72.06" cy="375.91" r="3.3"/><circle cx="77.4" cy="374.5" r="3.3"/><circle cx="108.7" cy="358.7" r="3.3"/><circle cx="82.5" cy="373.45" r="3.3"/><circle cx="140.41" cy="333.37" r="3.3"/><circle cx="81.42" cy="372.64" r="3.3"/><circle cx="98.24" cy="364.98" r="3.3"/><circle cx="91.01" cy="368.79" r="3.3"/><circle cx="109.86" cy="358.26" r="3.3"/><circle cx="138.12" cy="334.1" r="3.3"/><circle cx="145.86" cy="329.81" r="3.3"/><circle cx="110.97" cy="360.67" r="3.3"/><circle cx="68.43" cy="376.76" r="3.3"/><circle cx="139.8" cy="334.09" r="3.3"/><circle cx="121.43" cy="350.86" r="3.3"/><circle cx="115.64" cy="355.59" r="3.3"/><circle cx="101.63" cy="364.14" r="3.3"/><circle cx="147.48" cy="327.93" r="3.3"/><circle cx="61.44" cy="379.69" r="3.3"/><circle cx="138.93" cy="336.46" r="3.3"/><circle cx="124.64" cy="349.79" r="3.3"/><circle cx="140.21" cy="338.63" r="3.3"/><circle cx="89.4" cy="370.64" r="3.3"/><circle cx="136.4" cy="343.1" r="3.3"/><circle cx="95.57" cy="366.39" r="3.3"/><circle cx="109.92" cy="362.33" r="3.3"/><circle cx="114.63" cy="357.9" r="3.3"/><circle cx="113.18" cy="355.65" r="3.3"/><circle cx="61.99" cy="379.85" r="3.3"/><circle cx="137.15" cy="343.63" r="3.3"/><circle cx="123.85" cy="351.96" r="3.3"/><circle cx="110.66" cy="357.08" r="3.3"/><circle cx="97.76" cy="365.68" r="3.3"/><circle cx="125.8" cy="348.51" r="3.3"/><circle cx="56.18" cy="380.44" r="3.3"/><circle cx="77.58" cy="374.7" r="3.3"/><circle cx="121.2" cy="354.19" r="3.3"/><circle cx="140.68" cy="333.15" r="3.3"/><circle cx="80.11" cy="372.51" r="3.3"/><circle cx="119.4" cy="352.69" r="3.3"/><circle cx="74.81" cy="374.16" r="3.3"/><circle cx="117.77" cy="350.46" r="3.3"/><circle cx="97.89" cy="365.01" r="3.3"/><circle cx="118.3" cy="354.67" r="3.3"/><circle cx="74.4" cy="376.46" r="3.3"/><circle cx="140.14" cy="331.63" r="3.3"/><circle cx="137.2" cy="339.68" r="3.3"/><circle cx="86.01" cy="370.21" r="3.3"/><circle cx="68" cy="378.37" r="3.3"/><circle cx="134.45" cy="339.7" r="3.3"/><circle cx="122.34" cy="349" r="3.3"/><circle cx="71.41" cy="376.23" r="3.3"/><circle cx="98.7" cy="365.63" r="3.3"/><circle cx="95.28" cy="366.31" r="3.3"/><circle cx="114.7" cy="357.67" r="3.3"/><circle cx="133.61" cy="340.56" r="3.3"/><circle cx="49.6" cy="381.61" r="3.3"/><circle cx="57.86" cy="379.86" r="3.3"/><circle cx="160.26" cy="321.88" r="3.3"/><circle cx="153.9" cy="323.18" r="3.3"/><circle cx="148.18" cy="331.25" r="3.3"/><circle cx="151.36" cy="328.42" r="3.3"/><circle cx="146.27" cy="322.97" r="3.3"/><circle cx="139.27" cy="341.06" r="3.3"/><circle cx="125.28" cy="349.78" r="3.3"/><circle cx="141.18" cy="324.71" r="3.3"/><circle cx="150.08" cy="325.36" r="3.3"/></g>
<path d="M48.96,381.39 L50.55,381.08 L52.14,380.77 L53.73,380.44 L55.32,380.1 L56.91,379.76 L58.5,379.4 L60.09,379.03 L61.68,378.65 L63.27,378.26 L64.86,377.85 L66.45,377.43 L68.04,377 L69.63,376.56 L71.22,376.1 L72.81,375.63 L74.4,375.14 L75.99,374.64 L77.58,374.12 L79.17,373.59 L80.76,373.04 L82.35,372.47 L83.94,371.88 L85.53,371.28 L87.12,370.66 L88.71,370.01 L90.3,369.35 L91.89,368.67 L93.48,367.96 L95.07,367.23 L96.66,366.49 L98.25,365.71 L99.84,364.91 L101.43,364.09 L103.02,363.24 L104.61,362.37 L106.2,361.47 L107.79,360.54 L109.38,359.58 L110.97,358.59 L112.56,357.57 L114.15,356.52 L115.74,355.43 L117.33,354.32 L118.92,353.16 L120.51,351.97 L122.1,350.74 L123.69,349.48 L125.28,348.17 L126.87,346.83 L128.46,345.44 L130.05,344.01 L131.64,342.53 L133.23,341.01 L134.82,339.44 L136.41,337.82 L138,336.15 L139.59,334.43 L141.18,332.65 L142.77,330.82 L144.36,328.93 L145.95,326.99 L147.54,324.98 L149.13,322.91 L150.72,320.77 L152.31,318.57 L153.9,316.3 L155.49,313.95 L157.08,311.54 L158.67,309.05" fill="none" stroke="#111" stroke-width="1"/>
<text x="208.4" y="228.2" font-size="9.4" font-weight="bold" textLength="83.6" lengthAdjust="spacingAndGlyphs">log-log regression</text>
<line x1="215.4" y1="283.8" x2="299" y2="247.9" stroke="#444" stroke-width="0.6"/>
<line x1="215.4" y1="278.5" x2="299" y2="252.6" stroke="#4060d8" stroke-width="1.4"/>
<line x1="215.4" y1="292" x2="299" y2="240.9" stroke="#d8203e" stroke-width="1.5"/>
<text x="214.9" y="252.4" font-size="8.5" fill="#d8203e" textLength="32.6" lengthAdjust="spacingAndGlyphs"><tspan font-style="italic">β</tspan> = 1.42</text>
<text x="256.6" y="286.2" font-size="8.5" fill="#4a6ad8" textLength="31.9" lengthAdjust="spacingAndGlyphs"><tspan font-style="italic">β</tspan> = 0.72</text>
<text x="211.9" y="305.8" font-size="8.5" fill="#111" textLength="46.8" lengthAdjust="spacingAndGlyphs">log<tspan font-size="6" dy="1.8">10</tspan><tspan dy="-1.8">(area)</tspan></text>
<text transform="translate(206.6,294.3) rotate(-90)" font-size="8.5" fill="#111" textLength="54" lengthAdjust="spacingAndGlyphs">log<tspan font-size="6" dy="1.8">10</tspan><tspan dy="-1.8">(vertex)</tspan></text>
<path d="M250.4,246.6 C256,229 290,226 314,236.5" fill="none" stroke="#111" stroke-width="1.1"/>
<path d="M319,238.8 L311.5,239.6 L314.6,233.2Z" fill="#111"/>
<path d="M280.2,288.4 C284,298 306,298 316.5,283.5" fill="none" stroke="#111" stroke-width="1.1"/>
<path d="M320.3,278.6 L318.8,286.2 L313.3,282.3Z" fill="#111"/>
<circle cx="215.6" cy="356.94" r="1.5" fill="#4a6ad8" stroke="#fff" stroke-width="0.35" fill-opacity="0.5"/><circle cx="216.84" cy="355.6" r="1.5" fill="#4a6ad8" stroke="#fff" stroke-width="0.35" fill-opacity="0.5"/><circle cx="216.75" cy="355.02" r="1.5" fill="#4a6ad8" stroke="#fff" stroke-width="0.35" fill-opacity="0.95"/><circle cx="219.2" cy="357.01" r="1.5" fill="#4a6ad8" stroke="#fff" stroke-width="0.35" fill-opacity="0.95"/><circle cx="219.56" cy="356.5" r="1.5" fill="#4a6ad8" stroke="#fff" stroke-width="0.35" fill-opacity="0.95"/><circle cx="219.89" cy="357.34" r="1.5" fill="#4a6ad8" stroke="#fff" stroke-width="0.35" fill-opacity="0.95"/><circle cx="221.37" cy="357.39" r="1.5" fill="#4a6ad8" stroke="#fff" stroke-width="0.35" fill-opacity="0.95"/><circle cx="223.25" cy="355.3" r="1.5" fill="#4a6ad8" stroke="#fff" stroke-width="0.35" fill-opacity="0.95"/><circle cx="224.01" cy="355.89" r="1.5" fill="#4a6ad8" stroke="#fff" stroke-width="0.35" fill-opacity="0.5"/><circle cx="224.41" cy="355.72" r="1.5" fill="#4a6ad8" stroke="#fff" stroke-width="0.35" fill-opacity="0.95"/><circle cx="226.7" cy="356.01" r="1.5" fill="#4a6ad8" stroke="#fff" stroke-width="0.35" fill-opacity="0.5"/><circle cx="227.05" cy="354.76" r="1.5" fill="#4a6ad8" stroke="#fff" stroke-width="0.35" fill-opacity="0.95"/><circle cx="227.57" cy="356.45" r="1.5" fill="#4a6ad8" stroke="#fff" stroke-width="0.35" fill-opacity="0.5"/><circle cx="229.72" cy="354.36" r="1.5" fill="#4a6ad8" stroke="#fff" stroke-width="0.35" fill-opacity="0.95"/><circle cx="229.92" cy="354.96" r="1.5" fill="#4a6ad8" stroke="#fff" stroke-width="0.35" fill-opacity="0.95"/><circle cx="230.88" cy="354.95" r="1.5" fill="#4a6ad8" stroke="#fff" stroke-width="0.35" fill-opacity="0.95"/><circle cx="231.46" cy="353.82" r="1.5" fill="#4a6ad8" stroke="#fff" stroke-width="0.35" fill-opacity="0.95"/><circle cx="233.81" cy="353.13" r="1.5" fill="#4a6ad8" stroke="#fff" stroke-width="0.35" fill-opacity="0.95"/><circle cx="234.06" cy="352.08" r="1.5" fill="#4a6ad8" stroke="#fff" stroke-width="0.35" fill-opacity="0.95"/><circle cx="236.17" cy="353.67" r="1.5" fill="#4a6ad8" stroke="#fff" stroke-width="0.35" fill-opacity="0.95"/><circle cx="236.86" cy="353.33" r="1.5" fill="#4a6ad8" stroke="#fff" stroke-width="0.35" fill-opacity="0.5"/><circle cx="237.3" cy="352.75" r="1.5" fill="#4a6ad8" stroke="#fff" stroke-width="0.35" fill-opacity="0.95"/><circle cx="237.78" cy="353.34" r="1.5" fill="#4a6ad8" stroke="#fff" stroke-width="0.35" fill-opacity="0.5"/><circle cx="239.14" cy="352.56" r="1.5" fill="#4a6ad8" stroke="#fff" stroke-width="0.35" fill-opacity="0.5"/><circle cx="241.36" cy="353.06" r="1.5" fill="#4a6ad8" stroke="#fff" stroke-width="0.35" fill-opacity="0.95"/><circle cx="241.77" cy="351.33" r="1.5" fill="#4a6ad8" stroke="#fff" stroke-width="0.35" fill-opacity="0.5"/><circle cx="242.16" cy="351.38" r="1.5" fill="#4a6ad8" stroke="#fff" stroke-width="0.35" fill-opacity="0.5"/><circle cx="243.09" cy="348.84" r="1.5" fill="#4a6ad8" stroke="#fff" stroke-width="0.35" fill-opacity="0.5"/><circle cx="244.23" cy="349.78" r="1.5" fill="#4a6ad8" stroke="#fff" stroke-width="0.35" fill-opacity="0.5"/><circle cx="245.69" cy="351.86" r="1.5" fill="#4a6ad8" stroke="#fff" stroke-width="0.35" fill-opacity="0.5"/><circle cx="247.07" cy="349.57" r="1.5" fill="#4a6ad8" stroke="#fff" stroke-width="0.35" fill-opacity="0.95"/><circle cx="247.37" cy="350.7" r="1.5" fill="#4a6ad8" stroke="#fff" stroke-width="0.35" fill-opacity="0.95"/><circle cx="249.4" cy="350.05" r="1.5" fill="#4a6ad8" stroke="#fff" stroke-width="0.35" fill-opacity="0.95"/><circle cx="250.93" cy="348.84" r="1.5" fill="#4a6ad8" stroke="#fff" stroke-width="0.35" fill-opacity="0.95"/><circle cx="251.06" cy="348.6" r="1.5" fill="#4a6ad8" stroke="#fff" stroke-width="0.35" fill-opacity="0.5"/><circle cx="252.19" cy="349.92" r="1.5" fill="#4a6ad8" stroke="#fff" stroke-width="0.35" fill-opacity="0.95"/><circle cx="252.6" cy="347.93" r="1.5" fill="#4a6ad8" stroke="#fff" stroke-width="0.35" fill-opacity="0.95"/><circle cx="254.91" cy="346.99" r="1.5" fill="#4a6ad8" stroke="#fff" stroke-width="0.35" fill-opacity="0.95"/><circle cx="255.79" cy="348.71" r="1.5" fill="#4a6ad8" stroke="#fff" stroke-width="0.35" fill-opacity="0.5"/><circle cx="255.84" cy="345.63" r="1.5" fill="#4a6ad8" stroke="#fff" stroke-width="0.35" fill-opacity="0.95"/><circle cx="256.97" cy="346.52" r="1.5" fill="#4a6ad8" stroke="#fff" stroke-width="0.35" fill-opacity="0.95"/><circle cx="259.38" cy="344.28" r="1.5" fill="#4a6ad8" stroke="#fff" stroke-width="0.35" fill-opacity="0.5"/><circle cx="260.39" cy="343.13" r="1.5" fill="#4a6ad8" stroke="#fff" stroke-width="0.35" fill-opacity="0.5"/><circle cx="260.65" cy="344.88" r="1.5" fill="#4a6ad8" stroke="#fff" stroke-width="0.35" fill-opacity="0.95"/><circle cx="261.59" cy="344.78" r="1.5" fill="#4a6ad8" stroke="#fff" stroke-width="0.35" fill-opacity="0.5"/><circle cx="263.53" cy="344.57" r="1.5" fill="#4a6ad8" stroke="#fff" stroke-width="0.35" fill-opacity="0.95"/><circle cx="263.84" cy="342.42" r="1.5" fill="#4a6ad8" stroke="#fff" stroke-width="0.35" fill-opacity="0.95"/><circle cx="265.35" cy="342.86" r="1.5" fill="#4a6ad8" stroke="#fff" stroke-width="0.35" fill-opacity="0.5"/><circle cx="265.73" cy="342.35" r="1.5" fill="#4a6ad8" stroke="#fff" stroke-width="0.35" fill-opacity="0.95"/><circle cx="267.27" cy="338.29" r="1.5" fill="#4a6ad8" stroke="#fff" stroke-width="0.35" fill-opacity="0.5"/><circle cx="267.84" cy="340.18" r="1.5" fill="#4a6ad8" stroke="#fff" stroke-width="0.35" fill-opacity="0.95"/><circle cx="269.54" cy="338.63" r="1.5" fill="#4a6ad8" stroke="#fff" stroke-width="0.35" fill-opacity="0.95"/><circle cx="269.83" cy="341.78" r="1.5" fill="#4a6ad8" stroke="#fff" stroke-width="0.35" fill-opacity="0.95"/><circle cx="270.44" cy="337.92" r="1.5" fill="#4a6ad8" stroke="#fff" stroke-width="0.35" fill-opacity="0.95"/><circle cx="271.87" cy="337.22" r="1.5" fill="#4a6ad8" stroke="#fff" stroke-width="0.35" fill-opacity="0.5"/><circle cx="273.56" cy="335.75" r="1.5" fill="#4a6ad8" stroke="#fff" stroke-width="0.35" fill-opacity="0.5"/><circle cx="274.13" cy="335.04" r="1.5" fill="#4a6ad8" stroke="#fff" stroke-width="0.35" fill-opacity="0.5"/><circle cx="275.19" cy="333.86" r="1.5" fill="#4a6ad8" stroke="#fff" stroke-width="0.35" fill-opacity="0.5"/><circle cx="277.08" cy="333.65" r="1.5" fill="#4a6ad8" stroke="#fff" stroke-width="0.35" fill-opacity="0.5"/><circle cx="277.57" cy="330.12" r="1.5" fill="#4a6ad8" stroke="#fff" stroke-width="0.35" fill-opacity="0.95"/><circle cx="278.06" cy="336.56" r="1.5" fill="#4a6ad8" stroke="#fff" stroke-width="0.35" fill-opacity="0.95"/><circle cx="279.95" cy="329.63" r="1.5" fill="#4a6ad8" stroke="#fff" stroke-width="0.35" fill-opacity="0.5"/><circle cx="281.06" cy="334.43" r="1.5" fill="#4a6ad8" stroke="#fff" stroke-width="0.35" fill-opacity="0.95"/><circle cx="282.01" cy="335.14" r="1.5" fill="#4a6ad8" stroke="#fff" stroke-width="0.35" fill-opacity="0.95"/><circle cx="283" cy="331.81" r="1.5" fill="#4a6ad8" stroke="#fff" stroke-width="0.35" fill-opacity="0.5"/><circle cx="283.1" cy="327.79" r="1.5" fill="#4a6ad8" stroke="#fff" stroke-width="0.35" fill-opacity="0.95"/><circle cx="284.81" cy="329.03" r="1.5" fill="#4a6ad8" stroke="#fff" stroke-width="0.35" fill-opacity="0.95"/><circle cx="286.17" cy="327.94" r="1.5" fill="#4a6ad8" stroke="#fff" stroke-width="0.35" fill-opacity="0.95"/><circle cx="286.97" cy="328.43" r="1.5" fill="#4a6ad8" stroke="#fff" stroke-width="0.35" fill-opacity="0.95"/><circle cx="287.78" cy="328.23" r="1.5" fill="#4a6ad8" stroke="#fff" stroke-width="0.35" fill-opacity="0.95"/><circle cx="288.63" cy="329.05" r="1.5" fill="#4a6ad8" stroke="#fff" stroke-width="0.35" fill-opacity="0.95"/><circle cx="290.35" cy="326.46" r="1.5" fill="#4a6ad8" stroke="#fff" stroke-width="0.35" fill-opacity="0.95"/><circle cx="290.81" cy="325.17" r="1.5" fill="#4a6ad8" stroke="#fff" stroke-width="0.35" fill-opacity="0.95"/><circle cx="291.93" cy="324.22" r="1.5" fill="#4a6ad8" stroke="#fff" stroke-width="0.35" fill-opacity="0.95"/><circle cx="292.72" cy="324.46" r="1.5" fill="#4a6ad8" stroke="#fff" stroke-width="0.35" fill-opacity="0.95"/><circle cx="294.57" cy="320.69" r="1.5" fill="#4a6ad8" stroke="#fff" stroke-width="0.35" fill-opacity="0.95"/><circle cx="295.51" cy="320.12" r="1.5" fill="#4a6ad8" stroke="#fff" stroke-width="0.35" fill-opacity="0.5"/><circle cx="297" cy="323.33" r="1.5" fill="#4a6ad8" stroke="#fff" stroke-width="0.35" fill-opacity="0.95"/><circle cx="298.05" cy="318.54" r="1.5" fill="#4a6ad8" stroke="#fff" stroke-width="0.35" fill-opacity="0.95"/><circle cx="298.75" cy="317.28" r="1.5" fill="#4a6ad8" stroke="#fff" stroke-width="0.35" fill-opacity="0.95"/><circle cx="216.13" cy="368.94" r="1.5" fill="#d8203e" stroke="#fff" stroke-width="0.35" fill-opacity="0.95"/><circle cx="217.08" cy="367.7" r="1.5" fill="#d8203e" stroke="#fff" stroke-width="0.35" fill-opacity="0.95"/><circle cx="216.88" cy="366.85" r="1.5" fill="#d8203e" stroke="#fff" stroke-width="0.35" fill-opacity="0.95"/><circle cx="218.77" cy="367.26" r="1.5" fill="#d8203e" stroke="#fff" stroke-width="0.35" fill-opacity="0.5"/><circle cx="219.41" cy="367.05" r="1.5" fill="#d8203e" stroke="#fff" stroke-width="0.35" fill-opacity="0.95"/><circle cx="221.42" cy="367.68" r="1.5" fill="#d8203e" stroke="#fff" stroke-width="0.35" fill-opacity="0.95"/><circle cx="222.46" cy="368.26" r="1.5" fill="#d8203e" stroke="#fff" stroke-width="0.35" fill-opacity="0.95"/><circle cx="223.54" cy="366.59" r="1.5" fill="#d8203e" stroke="#fff" stroke-width="0.35" fill-opacity="0.95"/><circle cx="223.69" cy="365.99" r="1.5" fill="#d8203e" stroke="#fff" stroke-width="0.35" fill-opacity="0.95"/><circle cx="224.54" cy="369.19" r="1.5" fill="#d8203e" stroke="#fff" stroke-width="0.35" fill-opacity="0.95"/><circle cx="225.33" cy="366.03" r="1.5" fill="#d8203e" stroke="#fff" stroke-width="0.35" fill-opacity="0.95"/><circle cx="227.44" cy="365.88" r="1.5" fill="#d8203e" stroke="#fff" stroke-width="0.35" fill-opacity="0.5"/><circle cx="227.26" cy="365.67" r="1.5" fill="#d8203e" stroke="#fff" stroke-width="0.35" fill-opacity="0.5"/><circle cx="229.54" cy="366.07" r="1.5" fill="#d8203e" stroke="#fff" stroke-width="0.35" fill-opacity="0.95"/><circle cx="229.77" cy="367.71" r="1.5" fill="#d8203e" stroke="#fff" stroke-width="0.35" fill-opacity="0.95"/><circle cx="231.37" cy="368.35" r="1.5" fill="#d8203e" stroke="#fff" stroke-width="0.35" fill-opacity="0.95"/><circle cx="232.48" cy="364.32" r="1.5" fill="#d8203e" stroke="#fff" stroke-width="0.35" fill-opacity="0.95"/><circle cx="233.72" cy="364.42" r="1.5" fill="#d8203e" stroke="#fff" stroke-width="0.35" fill-opacity="0.95"/><circle cx="234.41" cy="364.79" r="1.5" fill="#d8203e" stroke="#fff" stroke-width="0.35" fill-opacity="0.95"/><circle cx="235.35" cy="365.81" r="1.5" fill="#d8203e" stroke="#fff" stroke-width="0.35" fill-opacity="0.95"/><circle cx="236.86" cy="364.55" r="1.5" fill="#d8203e" stroke="#fff" stroke-width="0.35" fill-opacity="0.95"/><circle cx="237.45" cy="364.41" r="1.5" fill="#d8203e" stroke="#fff" stroke-width="0.35" fill-opacity="0.5"/><circle cx="239.19" cy="364.14" r="1.5" fill="#d8203e" stroke="#fff" stroke-width="0.35" fill-opacity="0.5"/><circle cx="239.51" cy="364.03" r="1.5" fill="#d8203e" stroke="#fff" stroke-width="0.35" fill-opacity="0.95"/><circle cx="241.01" cy="362.91" r="1.5" fill="#d8203e" stroke="#fff" stroke-width="0.35" fill-opacity="0.5"/><circle cx="241.55" cy="362.54" r="1.5" fill="#d8203e" stroke="#fff" stroke-width="0.35" fill-opacity="0.95"/><circle cx="243.35" cy="363.63" r="1.5" fill="#d8203e" stroke="#fff" stroke-width="0.35" fill-opacity="0.5"/><circle cx="243.14" cy="363.99" r="1.5" fill="#d8203e" stroke="#fff" stroke-width="0.35" fill-opacity="0.5"/><circle cx="245.2" cy="361.77" r="1.5" fill="#d8203e" stroke="#fff" stroke-width="0.35" fill-opacity="0.5"/><circle cx="246.6" cy="362.85" r="1.5" fill="#d8203e" stroke="#fff" stroke-width="0.35" fill-opacity="0.95"/><circle cx="246.96" cy="360.65" r="1.5" fill="#d8203e" stroke="#fff" stroke-width="0.35" fill-opacity="0.95"/><circle cx="247.49" cy="361.32" r="1.5" fill="#d8203e" stroke="#fff" stroke-width="0.35" fill-opacity="0.95"/><circle cx="249.6" cy="362.36" r="1.5" fill="#d8203e" stroke="#fff" stroke-width="0.35" fill-opacity="0.5"/><circle cx="250.62" cy="361.55" r="1.5" fill="#d8203e" stroke="#fff" stroke-width="0.35" fill-opacity="0.95"/><circle cx="250.45" cy="360.14" r="1.5" fill="#d8203e" stroke="#fff" stroke-width="0.35" fill-opacity="0.5"/><circle cx="252.58" cy="356.6" r="1.5" fill="#d8203e" stroke="#fff" stroke-width="0.35" fill-opacity="0.95"/><circle cx="253.86" cy="360.49" r="1.5" fill="#d8203e" stroke="#fff" stroke-width="0.35" fill-opacity="0.5"/><circle cx="254.71" cy="361.78" r="1.5" fill="#d8203e" stroke="#fff" stroke-width="0.35" fill-opacity="0.95"/><circle cx="255.09" cy="360.08" r="1.5" fill="#d8203e" stroke="#fff" stroke-width="0.35" fill-opacity="0.95"/><circle cx="256.34" cy="358.55" r="1.5" fill="#d8203e" stroke="#fff" stroke-width="0.35" fill-opacity="0.95"/><circle cx="257.72" cy="359.28" r="1.5" fill="#d8203e" stroke="#fff" stroke-width="0.35" fill-opacity="0.95"/><circle cx="257.89" cy="358.38" r="1.5" fill="#d8203e" stroke="#fff" stroke-width="0.35" fill-opacity="0.95"/><circle cx="259.75" cy="357.62" r="1.5" fill="#d8203e" stroke="#fff" stroke-width="0.35" fill-opacity="0.95"/><circle cx="260.58" cy="354.13" r="1.5" fill="#d8203e" stroke="#fff" stroke-width="0.35" fill-opacity="0.95"/><circle cx="261.9" cy="353.17" r="1.5" fill="#d8203e" stroke="#fff" stroke-width="0.35" fill-opacity="0.95"/><circle cx="262.08" cy="356.73" r="1.5" fill="#d8203e" stroke="#fff" stroke-width="0.35" fill-opacity="0.95"/><circle cx="263.29" cy="354.72" r="1.5" fill="#d8203e" stroke="#fff" stroke-width="0.35" fill-opacity="0.5"/><circle cx="264.99" cy="354.14" r="1.5" fill="#d8203e" stroke="#fff" stroke-width="0.35" fill-opacity="0.95"/><circle cx="265.57" cy="353.91" r="1.5" fill="#d8203e" stroke="#fff" stroke-width="0.35" fill-opacity="0.5"/><circle cx="267.03" cy="354.23" r="1.5" fill="#d8203e" stroke="#fff" stroke-width="0.35" fill-opacity="0.95"/><circle cx="267.63" cy="352.23" r="1.5" fill="#d8203e" stroke="#fff" stroke-width="0.35" fill-opacity="0.95"/><circle cx="269.45" cy="355.72" r="1.5" fill="#d8203e" stroke="#fff" stroke-width="0.35" fill-opacity="0.95"/><circle cx="269.5" cy="352.79" r="1.5" fill="#d8203e" stroke="#fff" stroke-width="0.35" fill-opacity="0.95"/><circle cx="271.37" cy="351.98" r="1.5" fill="#d8203e" stroke="#fff" stroke-width="0.35" fill-opacity="0.95"/><circle cx="272.87" cy="350.57" r="1.5" fill="#d8203e" stroke="#fff" stroke-width="0.35" fill-opacity="0.5"/><circle cx="272.57" cy="351.81" r="1.5" fill="#d8203e" stroke="#fff" stroke-width="0.35" fill-opacity="0.5"/><circle cx="273.66" cy="353.71" r="1.5" fill="#d8203e" stroke="#fff" stroke-width="0.35" fill-opacity="0.95"/><circle cx="274.99" cy="354.23" r="1.5" fill="#d8203e" stroke="#fff" stroke-width="0.35" fill-opacity="0.95"/><circle cx="277.24" cy="348.2" r="1.5" fill="#d8203e" stroke="#fff" stroke-width="0.35" fill-opacity="0.95"/><circle cx="277.74" cy="346.37" r="1.5" fill="#d8203e" stroke="#fff" stroke-width="0.35" fill-opacity="0.95"/><circle cx="278.17" cy="347.5" r="1.5" fill="#d8203e" stroke="#fff" stroke-width="0.35" fill-opacity="0.95"/><circle cx="279.46" cy="350.55" r="1.5" fill="#d8203e" stroke="#fff" stroke-width="0.35" fill-opacity="0.95"/><circle cx="281.23" cy="345.52" r="1.5" fill="#d8203e" stroke="#fff" stroke-width="0.35" fill-opacity="0.95"/><circle cx="282.31" cy="344.17" r="1.5" fill="#d8203e" stroke="#fff" stroke-width="0.35" fill-opacity="0.95"/><circle cx="282.95" cy="343.48" r="1.5" fill="#d8203e" stroke="#fff" stroke-width="0.35" fill-opacity="0.95"/><circle cx="283.21" cy="344.32" r="1.5" fill="#d8203e" stroke="#fff" stroke-width="0.35" fill-opacity="0.95"/><circle cx="284.43" cy="349.3" r="1.5" fill="#d8203e" stroke="#fff" stroke-width="0.35" fill-opacity="0.95"/><circle cx="286.38" cy="345.57" r="1.5" fill="#d8203e" stroke="#fff" stroke-width="0.35" fill-opacity="0.95"/><circle cx="286.97" cy="346.08" r="1.5" fill="#d8203e" stroke="#fff" stroke-width="0.35" fill-opacity="0.95"/><circle cx="288.01" cy="341.33" r="1.5" fill="#d8203e" stroke="#fff" stroke-width="0.35" fill-opacity="0.95"/><circle cx="288.57" cy="343.63" r="1.5" fill="#d8203e" stroke="#fff" stroke-width="0.35" fill-opacity="0.95"/><circle cx="290.78" cy="343.58" r="1.5" fill="#d8203e" stroke="#fff" stroke-width="0.35" fill-opacity="0.95"/><circle cx="290.83" cy="340.92" r="1.5" fill="#d8203e" stroke="#fff" stroke-width="0.35" fill-opacity="0.95"/><circle cx="291.86" cy="341.71" r="1.5" fill="#d8203e" stroke="#fff" stroke-width="0.35" fill-opacity="0.95"/><circle cx="292.59" cy="341.6" r="1.5" fill="#d8203e" stroke="#fff" stroke-width="0.35" fill-opacity="0.5"/><circle cx="294.69" cy="338.03" r="1.5" fill="#d8203e" stroke="#fff" stroke-width="0.35" fill-opacity="0.95"/><circle cx="295.4" cy="339.32" r="1.5" fill="#d8203e" stroke="#fff" stroke-width="0.35" fill-opacity="0.95"/><circle cx="296.16" cy="337.14" r="1.5" fill="#d8203e" stroke="#fff" stroke-width="0.35" fill-opacity="0.95"/><circle cx="297.91" cy="337.56" r="1.5" fill="#d8203e" stroke="#fff" stroke-width="0.35" fill-opacity="0.95"/><circle cx="298.17" cy="337.32" r="1.5" fill="#d8203e" stroke="#fff" stroke-width="0.35" fill-opacity="0.95"/>
<text transform="translate(206.4,370.4) rotate(-90)" font-size="8.5" fill="#111" textLength="49" lengthAdjust="spacingAndGlyphs">vertex area</text>
<text x="211.9" y="380.2" font-size="8.5" fill="#111" textLength="15.2" lengthAdjust="spacingAndGlyphs">age</text>
<g transform="translate(300,200) scale(0.21896)"><clipPath id="clat"><path d="M40,270C40,257.5 41.67,247.5 50,235C58.33,222.5 81.67,205.83 90,195C98.33,184.17 91.67,180.83 100,170C108.33,159.17 127.5,141.67 140,130C152.5,118.33 161.67,110 175,100C188.33,90 205.83,78.33 220,70C234.17,61.67 246.67,54.67 260,50C273.33,45.33 286.67,42.33 300,42C313.33,41.67 326.67,45.83 340,48C353.33,50.17 365,51.33 380,55C395,58.67 411.67,62.5 430,70C448.33,77.5 470,88.33 490,100C510,111.67 531.67,125.83 550,140C568.33,154.17 585,168.33 600,185C615,201.67 630.83,222.5 640,240C649.17,257.5 655,273.33 655,290C655,306.67 647.5,325 640,340C632.5,355 623.33,368.33 610,380C596.67,391.67 578.33,405 560,410C541.67,415 515,411.67 500,410C485,408.33 479.17,396.67 470,400C460.83,403.33 456.67,419.67 445,430C433.33,440.33 414.17,456.17 400,462C385.83,467.83 376.67,468.67 360,465C343.33,461.33 320,450.83 300,440C280,429.17 260,410 240,400C220,390 200,386.67 180,380C160,373.33 136.67,366.67 120,360C103.33,353.33 91.67,348.33 80,340C68.33,331.67 56.67,321.67 50,310C43.33,298.33 40,282.5 40,270Z"/></clipPath><path d="M40,270C40,257.5 41.67,247.5 50,235C58.33,222.5 81.67,205.83 90,195C98.33,184.17 91.67,180.83 100,170C108.33,159.17 127.5,141.67 140,130C152.5,118.33 161.67,110 175,100C188.33,90 205.83,78.33 220,70C234.17,61.67 246.67,54.67 260,50C273.33,45.33 286.67,42.33 300,42C313.33,41.67 326.67,45.83 340,48C353.33,50.17 365,51.33 380,55C395,58.67 411.67,62.5 430,70C448.33,77.5 470,88.33 490,100C510,111.67 531.67,125.83 550,140C568.33,154.17 585,168.33 600,185C615,201.67 630.83,222.5 640,240C649.17,257.5 655,273.33 655,290C655,306.67 647.5,325 640,340C632.5,355 623.33,368.33 610,380C596.67,391.67 578.33,405 560,410C541.67,415 515,411.67 500,410C485,408.33 479.17,396.67 470,400C460.83,403.33 456.67,419.67 445,430C433.33,440.33 414.17,456.17 400,462C385.83,467.83 376.67,468.67 360,465C343.33,461.33 320,450.83 300,440C280,429.17 260,410 240,400C220,390 200,386.67 180,380C160,373.33 136.67,366.67 120,360C103.33,353.33 91.67,348.33 80,340C68.33,331.67 56.67,321.67 50,310C43.33,298.33 40,282.5 40,270Z" fill="#ecc6b8"/><g clip-path="url(#clat)"><g filter="url(#blurE)"><path d="M420,60C441,46 478,66.67 520,90C562,113.33 572,125 600,160C628,195 630.67,200.33 640,240C649.33,279.67 658.67,302 640,330C621.33,358 597.33,360 560,360C522.67,360 508,355.67 480,330C452,304.33 451.67,292 440,250C428.33,208 434.67,194.33 430,150C425.33,105.67 399,74 420,60Z" fill="#e8d6d2"/><path d="M560,150C576.33,150 612,185 640,220C668,255 677.67,262.67 680,300C682.33,337.33 668.67,356.67 650,380C631.33,403.33 614,418.67 600,400C586,381.33 597,342 590,300C583,258 577,255 570,220C563,185 543.67,150 560,150Z" fill="#c6d2ec"/><path d="M470,350C491,333.67 520.33,364.67 560,360C599.67,355.33 616.67,316 640,330C663.33,344 699.67,396.67 660,420C620.33,443.33 514.33,446.33 470,430C425.67,413.67 449,366.33 470,350Z" fill="#aec2ec"/><path d="M200,70C218.67,37.33 255.67,34.67 300,30C344.33,25.33 357.33,36 390,50C422.67,64 428.33,62 440,90C451.67,118 449.33,139.67 440,170C430.67,200.33 432.67,209.5 400,220C367.33,230.5 342,226.67 300,215C258,203.33 243.33,203.83 220,170C196.67,136.17 181.33,102.67 200,70Z" fill="#e98670"/><path d="M160,120C181,96.67 214.33,81.33 240,100C265.67,118.67 267.67,155.67 270,200C272.33,244.33 271,273.67 250,290C229,306.33 203.33,291 180,270C156.67,249 154.67,235 150,200C145.33,165 139,143.33 160,120Z" fill="#efac96"/><path d="M90,170C100.5,149 119,141.67 140,130C161,118.33 173,108.33 180,120C187,131.67 181.67,159 170,180C158.33,201 147.5,200.67 130,210C112.5,219.33 104.33,229.33 95,220C85.67,210.67 79.5,191 90,170Z" fill="#dc624f"/><path d="M20,220C34,182.67 64.33,207.67 90,210C115.67,212.33 116,209 130,230C144,251 147.67,265 150,300C152.33,335 168,363.67 140,380C112,396.33 58,407.33 30,370C2,332.67 6,257.33 20,220Z" fill="#7a96dc"/><path d="M140,260C156.33,241.33 189.33,256 250,270C310.67,284 351,299 400,320C449,341 450.67,341.33 460,360C469.33,378.67 477.33,390.67 440,400C402.67,409.33 360.67,411.67 300,400C239.33,388.33 217.33,382.67 180,350C142.67,317.33 123.67,278.67 140,260Z" fill="#f2d6cc"/><path d="M110,345C131,320.5 181.67,363.33 240,375C298.33,386.67 311,389.17 360,395C409,400.83 424.33,380.17 450,400C475.67,419.83 540,461.33 470,480C400,498.67 234,511.5 150,480C66,448.5 89,369.5 110,345Z" fill="#7e9ce4"/><path d="M290,200C313.33,186 375.67,201.67 420,225C464.33,248.33 473,274.33 480,300C487,325.67 487.33,338.5 450,335C412.67,331.5 357.33,316.5 320,285C282.67,253.5 266.67,214 290,200Z" fill="#ec9a84"/></g><path d="M300,222 Q370,240 430,295 L420,318 Q360,278 300,250Z" fill="#e0243a" filter="url(#blurE2)"/><path d="M200,120 Q240,170 215,230 T250,320" fill="none" stroke="#fff" stroke-width="9" opacity="0.18" stroke-linecap="round" transform="translate(9,-4)"/><path d="M200,120 Q240,170 215,230 T250,320" fill="none" stroke="#4a2a2a" stroke-width="5" opacity="0.45" stroke-linecap="round"/><path d="M265,75 Q300,120 285,170 T300,225" fill="none" stroke="#fff" stroke-width="9" opacity="0.18" stroke-linecap="round" transform="translate(9,-4)"/><path d="M265,75 Q300,120 285,170 T300,225" fill="none" stroke="#4a2a2a" stroke-width="5" opacity="0.45" stroke-linecap="round"/><path d="M330,60 Q370,100 360,150 T390,210" fill="none" stroke="#fff" stroke-width="9" opacity="0.18" stroke-linecap="round" transform="translate(9,-4)"/><path d="M330,60 Q370,100 360,150 T390,210" fill="none" stroke="#4a2a2a" stroke-width="5" opacity="0.45" stroke-linecap="round"/><path d="M400,75 Q440,130 420,190" fill="none" stroke="#fff" stroke-width="9" opacity="0.18" stroke-linecap="round" transform="translate(9,-4)"/><path d="M400,75 Q440,130 420,190" fill="none" stroke="#4a2a2a" stroke-width="5" opacity="0.45" stroke-linecap="round"/><path d="M450,110 Q500,160 485,230 T520,330" fill="none" stroke="#fff" stroke-width="9" opacity="0.18" stroke-linecap="round" transform="translate(9,-4)"/><path d="M450,110 Q500,160 485,230 T520,330" fill="none" stroke="#4a2a2a" stroke-width="5" opacity="0.45" stroke-linecap="round"/><path d="M520,140 Q560,190 560,250" fill="none" stroke="#fff" stroke-width="9" opacity="0.18" stroke-linecap="round" transform="translate(9,-4)"/><path d="M520,140 Q560,190 560,250" fill="none" stroke="#4a2a2a" stroke-width="5" opacity="0.45" stroke-linecap="round"/><path d="M120,200 Q160,230 150,290" fill="none" stroke="#fff" stroke-width="9" opacity="0.18" stroke-linecap="round" transform="translate(9,-4)"/><path d="M120,200 Q160,230 150,290" fill="none" stroke="#4a2a2a" stroke-width="5" opacity="0.45" stroke-linecap="round"/><path d="M240,330 Q330,370 420,405" fill="none" stroke="#fff" stroke-width="9" opacity="0.18" stroke-linecap="round" transform="translate(9,-4)"/><path d="M240,330 Q330,370 420,405" fill="none" stroke="#4a2a2a" stroke-width="5" opacity="0.45" stroke-linecap="round"/><path d="M300,255 Q380,285 445,345" fill="none" stroke="#fff" stroke-width="9" opacity="0.18" stroke-linecap="round" transform="translate(9,-4)"/><path d="M300,255 Q380,285 445,345" fill="none" stroke="#4a2a2a" stroke-width="5" opacity="0.45" stroke-linecap="round"/><path d="M570,200 Q610,260 600,340" fill="none" stroke="#fff" stroke-width="9" opacity="0.18" stroke-linecap="round" transform="translate(9,-4)"/><path d="M570,200 Q610,260 600,340" fill="none" stroke="#4a2a2a" stroke-width="5" opacity="0.45" stroke-linecap="round"/><path d="M170,300 Q200,320 230,360" fill="none" stroke="#fff" stroke-width="9" opacity="0.18" stroke-linecap="round" transform="translate(9,-4)"/><path d="M170,300 Q200,320 230,360" fill="none" stroke="#4a2a2a" stroke-width="5" opacity="0.45" stroke-linecap="round"/><path d="M140,140 Q170,170 160,200" fill="none" stroke="#fff" stroke-width="9" opacity="0.18" stroke-linecap="round" transform="translate(9,-4)"/><path d="M140,140 Q170,170 160,200" fill="none" stroke="#4a2a2a" stroke-width="5" opacity="0.45" stroke-linecap="round"/><path d="M90,250 Q120,270 110,320" fill="none" stroke="#fff" stroke-width="9" opacity="0.18" stroke-linecap="round" transform="translate(9,-4)"/><path d="M90,250 Q120,270 110,320" fill="none" stroke="#4a2a2a" stroke-width="5" opacity="0.45" stroke-linecap="round"/><path d="M300,150 Q330,170 350,160" fill="none" stroke="#fff" stroke-width="9" opacity="0.18" stroke-linecap="round" transform="translate(9,-4)"/><path d="M300,150 Q330,170 350,160" fill="none" stroke="#4a2a2a" stroke-width="5" opacity="0.45" stroke-linecap="round"/><path d="M430,260 Q480,260 520,290" fill="none" stroke="#fff" stroke-width="9" opacity="0.18" stroke-linecap="round" transform="translate(9,-4)"/><path d="M430,260 Q480,260 520,290" fill="none" stroke="#4a2a2a" stroke-width="5" opacity="0.45" stroke-linecap="round"/><path d="M480,350 Q540,360 600,360" fill="none" stroke="#fff" stroke-width="9" opacity="0.18" stroke-linecap="round" transform="translate(9,-4)"/><path d="M480,350 Q540,360 600,360" fill="none" stroke="#4a2a2a" stroke-width="5" opacity="0.45" stroke-linecap="round"/><path d="M280,400 Q340,430 400,440" fill="none" stroke="#fff" stroke-width="9" opacity="0.18" stroke-linecap="round" transform="translate(9,-4)"/><path d="M280,400 Q340,430 400,440" fill="none" stroke="#4a2a2a" stroke-width="5" opacity="0.45" stroke-linecap="round"/><path d="M32,71 Q27,51 41,35 M102,53 Q101,30 101,7 M127,68 Q114,53 118,34 M181,70 Q191,43 165,32 M220,63 Q232,43 228,20 M280,64 Q301,49 318,68 M340,60 Q361,43 365,17 M387,55 Q404,42 403,20 M413,65 Q438,77 463,89 M464,52 Q480,34 465,15 M520,65 Q510,49 511,31 M561,58 Q560,27 583,5 M613,52 Q626,71 649,70 M34,92 Q54,88 73,89 M80,102 Q70,78 77,52 M125,94 Q138,73 127,50 M184,109 Q196,89 217,97 M229,106 Q257,83 288,101 M289,97 Q321,96 345,76 M342,106 Q339,78 365,66 M379,104 Q375,85 366,68 M423,95 Q429,69 437,44 M469,101 Q447,84 455,57 M526,109 Q513,91 505,70 M557,115 Q584,105 609,118 M608,105 Q625,112 643,111 M51,154 Q73,156 87,173 M89,159 Q104,135 117,110 M140,159 Q166,143 195,151 M180,159 Q202,161 222,154 M242,152 Q267,163 295,166 M276,146 Q268,118 279,90 M316,154 Q328,134 313,116 M370,143 Q390,160 412,145 M422,145 Q450,143 473,161 M481,150 Q509,160 535,147 M517,152 Q537,176 568,179 M558,151 Q585,157 602,136 M627,158 Q637,131 635,102 M35,181 Q61,185 83,200 M97,200 Q120,194 140,206 M132,188 Q116,166 111,139 M174,186 Q157,160 171,132 M224,187 Q213,164 235,151 M282,198 Q301,215 325,202 M335,191 Q364,173 363,139 M366,188 Q340,168 348,137 M435,194 Q436,165 431,136 M483,202 Q506,208 525,224 M530,193 Q520,167 540,147 M577,192 Q607,186 636,197 M608,193 Q637,187 656,210 M37,225 Q55,210 58,187 M91,227 Q111,224 129,215 M126,247 Q115,215 135,189 M198,225 Q198,195 209,166 M245,240 Q233,222 231,201 M276,233 Q300,213 326,230 M318,241 Q334,228 354,237 M372,233 Q378,205 362,183 M432,242 Q417,217 418,187 M482,235 Q476,209 483,183 M522,242 Q524,219 528,196 M565,237 Q587,245 602,228 M604,243 Q627,228 654,233 M51,273 Q28,255 26,226 M83,291 Q105,303 130,304 M122,288 Q146,273 140,246 M170,292 Q190,269 172,245 M238,292 Q257,277 277,291 M286,291 Q311,295 336,286 M321,285 Q312,269 304,253 M381,273 Q387,253 391,233 M427,278 Q421,249 439,227 M481,284 Q501,299 526,298 M515,284 Q527,258 508,237 M573,290 Q593,305 618,313 M615,273 Q636,266 654,279 M32,329 Q27,304 16,280 M81,323 Q102,321 121,312 M146,334 Q147,315 157,298 M194,328 Q199,305 200,281 M243,335 Q256,309 260,279 M280,321 Q267,294 286,271 M342,319 Q318,300 326,270 M371,321 Q371,302 372,282 M432,327 Q454,336 474,348 M479,333 Q485,308 490,282 M520,322 Q506,294 520,267 M557,334 Q573,308 571,278 M618,335 Q603,316 616,295 M48,378 Q54,352 51,326 M82,378 Q86,352 95,327 M142,361 Q138,334 151,311 M175,358 Q170,335 160,314 M238,367 Q253,344 278,351 M280,370 Q273,348 279,326 M317,361 Q333,343 321,323 M363,359 Q366,334 355,312 M427,375 Q417,349 436,330 M460,360 Q461,335 449,313 M532,360 Q566,366 584,337 M564,375 Q584,349 569,319 M610,361 Q640,354 667,369 M50,404 Q39,376 38,347 M86,407 Q79,384 84,360 M142,407 Q172,403 188,428 M186,415 Q213,434 239,414 M238,401 Q259,380 245,353 M267,400 Q290,407 304,389 M324,421 Q349,409 367,430 M389,421 Q410,427 431,423 M422,405 Q411,386 419,366 M485,422 Q513,411 539,426 M523,423 Q549,428 568,447 M555,406 Q579,420 605,410 M610,403 Q627,414 646,408 M46,462 Q47,435 34,411 M84,467 Q91,449 100,433 M150,461 Q172,472 197,480 M193,457 Q212,454 227,467 M243,447 Q265,423 249,395 M293,459 Q320,469 349,463 M318,459 Q331,435 311,416 M368,453 Q353,433 354,409 M430,463 Q449,446 450,420 M461,453 Q466,430 481,410 M525,467 Q545,487 574,483 M570,453 Q565,432 559,411 M626,450 Q603,431 615,404" fill="none" stroke="#fff" stroke-width="16" opacity="0.2" stroke-linecap="round" transform="translate(8,-6)" filter="url(#blur4)"/><path d="M32,71 Q27,51 41,35 M102,53 Q101,30 101,7 M127,68 Q114,53 118,34 M181,70 Q191,43 165,32 M220,63 Q232,43 228,20 M280,64 Q301,49 318,68 M340,60 Q361,43 365,17 M387,55 Q404,42 403,20 M413,65 Q438,77 463,89 M464,52 Q480,34 465,15 M520,65 Q510,49 511,31 M561,58 Q560,27 583,5 M613,52 Q626,71 649,70 M34,92 Q54,88 73,89 M80,102 Q70,78 77,52 M125,94 Q138,73 127,50 M184,109 Q196,89 217,97 M229,106 Q257,83 288,101 M289,97 Q321,96 345,76 M342,106 Q339,78 365,66 M379,104 Q375,85 366,68 M423,95 Q429,69 437,44 M469,101 Q447,84 455,57 M526,109 Q513,91 505,70 M557,115 Q584,105 609,118 M608,105 Q625,112 643,111 M51,154 Q73,156 87,173 M89,159 Q104,135 117,110 M140,159 Q166,143 195,151 M180,159 Q202,161 222,154 M242,152 Q267,163 295,166 M276,146 Q268,118 279,90 M316,154 Q328,134 313,116 M370,143 Q390,160 412,145 M422,145 Q450,143 473,161 M481,150 Q509,160 535,147 M517,152 Q537,176 568,179 M558,151 Q585,157 602,136 M627,158 Q637,131 635,102 M35,181 Q61,185 83,200 M97,200 Q120,194 140,206 M132,188 Q116,166 111,139 M174,186 Q157,160 171,132 M224,187 Q213,164 235,151 M282,198 Q301,215 325,202 M335,191 Q364,173 363,139 M366,188 Q340,168 348,137 M435,194 Q436,165 431,136 M483,202 Q506,208 525,224 M530,193 Q520,167 540,147 M577,192 Q607,186 636,197 M608,193 Q637,187 656,210 M37,225 Q55,210 58,187 M91,227 Q111,224 129,215 M126,247 Q115,215 135,189 M198,225 Q198,195 209,166 M245,240 Q233,222 231,201 M276,233 Q300,213 326,230 M318,241 Q334,228 354,237 M372,233 Q378,205 362,183 M432,242 Q417,217 418,187 M482,235 Q476,209 483,183 M522,242 Q524,219 528,196 M565,237 Q587,245 602,228 M604,243 Q627,228 654,233 M51,273 Q28,255 26,226 M83,291 Q105,303 130,304 M122,288 Q146,273 140,246 M170,292 Q190,269 172,245 M238,292 Q257,277 277,291 M286,291 Q311,295 336,286 M321,285 Q312,269 304,253 M381,273 Q387,253 391,233 M427,278 Q421,249 439,227 M481,284 Q501,299 526,298 M515,284 Q527,258 508,237 M573,290 Q593,305 618,313 M615,273 Q636,266 654,279 M32,329 Q27,304 16,280 M81,323 Q102,321 121,312 M146,334 Q147,315 157,298 M194,328 Q199,305 200,281 M243,335 Q256,309 260,279 M280,321 Q267,294 286,271 M342,319 Q318,300 326,270 M371,321 Q371,302 372,282 M432,327 Q454,336 474,348 M479,333 Q485,308 490,282 M520,322 Q506,294 520,267 M557,334 Q573,308 571,278 M618,335 Q603,316 616,295 M48,378 Q54,352 51,326 M82,378 Q86,352 95,327 M142,361 Q138,334 151,311 M175,358 Q170,335 160,314 M238,367 Q253,344 278,351 M280,370 Q273,348 279,326 M317,361 Q333,343 321,323 M363,359 Q366,334 355,312 M427,375 Q417,349 436,330 M460,360 Q461,335 449,313 M532,360 Q566,366 584,337 M564,375 Q584,349 569,319 M610,361 Q640,354 667,369 M50,404 Q39,376 38,347 M86,407 Q79,384 84,360 M142,407 Q172,403 188,428 M186,415 Q213,434 239,414 M238,401 Q259,380 245,353 M267,400 Q290,407 304,389 M324,421 Q349,409 367,430 M389,421 Q410,427 431,423 M422,405 Q411,386 419,366 M485,422 Q513,411 539,426 M523,423 Q549,428 568,447 M555,406 Q579,420 605,410 M610,403 Q627,414 646,408 M46,462 Q47,435 34,411 M84,467 Q91,449 100,433 M150,461 Q172,472 197,480 M193,457 Q212,454 227,467 M243,447 Q265,423 249,395 M293,459 Q320,469 349,463 M318,459 Q331,435 311,416 M368,453 Q353,433 354,409 M430,463 Q449,446 450,420 M461,453 Q466,430 481,410 M525,467 Q545,487 574,483 M570,453 Q565,432 559,411 M626,450 Q603,431 615,404" fill="none" stroke="#4a2a2a" stroke-width="7" opacity="0.5" stroke-linecap="round" filter="url(#blur4)"/><path d="M40,270C40,257.5 41.67,247.5 50,235C58.33,222.5 81.67,205.83 90,195C98.33,184.17 91.67,180.83 100,170C108.33,159.17 127.5,141.67 140,130C152.5,118.33 161.67,110 175,100C188.33,90 205.83,78.33 220,70C234.17,61.67 246.67,54.67 260,50C273.33,45.33 286.67,42.33 300,42C313.33,41.67 326.67,45.83 340,48C353.33,50.17 365,51.33 380,55C395,58.67 411.67,62.5 430,70C448.33,77.5 470,88.33 490,100C510,111.67 531.67,125.83 550,140C568.33,154.17 585,168.33 600,185C615,201.67 630.83,222.5 640,240C649.17,257.5 655,273.33 655,290C655,306.67 647.5,325 640,340C632.5,355 623.33,368.33 610,380C596.67,391.67 578.33,405 560,410C541.67,415 515,411.67 500,410C485,408.33 479.17,396.67 470,400C460.83,403.33 456.67,419.67 445,430C433.33,440.33 414.17,456.17 400,462C385.83,467.83 376.67,468.67 360,465C343.33,461.33 320,450.83 300,440C280,429.17 260,410 240,400C220,390 200,386.67 180,380C160,373.33 136.67,366.67 120,360C103.33,353.33 91.67,348.33 80,340C68.33,331.67 56.67,321.67 50,310C43.33,298.33 40,282.5 40,270Z" fill="none" stroke="#3a2a2a" stroke-width="16" opacity="0.3" filter="url(#blurE2)"/></g><path d="M40,270C40,257.5 41.67,247.5 50,235C58.33,222.5 81.67,205.83 90,195C98.33,184.17 91.67,180.83 100,170C108.33,159.17 127.5,141.67 140,130C152.5,118.33 161.67,110 175,100C188.33,90 205.83,78.33 220,70C234.17,61.67 246.67,54.67 260,50C273.33,45.33 286.67,42.33 300,42C313.33,41.67 326.67,45.83 340,48C353.33,50.17 365,51.33 380,55C395,58.67 411.67,62.5 430,70C448.33,77.5 470,88.33 490,100C510,111.67 531.67,125.83 550,140C568.33,154.17 585,168.33 600,185C615,201.67 630.83,222.5 640,240C649.17,257.5 655,273.33 655,290C655,306.67 647.5,325 640,340C632.5,355 623.33,368.33 610,380C596.67,391.67 578.33,405 560,410C541.67,415 515,411.67 500,410C485,408.33 479.17,396.67 470,400C460.83,403.33 456.67,419.67 445,430C433.33,440.33 414.17,456.17 400,462C385.83,467.83 376.67,468.67 360,465C343.33,461.33 320,450.83 300,440C280,429.17 260,410 240,400C220,390 200,386.67 180,380C160,373.33 136.67,366.67 120,360C103.33,353.33 91.67,348.33 80,340C68.33,331.67 56.67,321.67 50,310C43.33,298.33 40,282.5 40,270Z" fill="none" stroke="#333" stroke-width="2.5" opacity="0.55"/></g>
<g transform="translate(300,300) scale(0.21896)"><clipPath id="cmed"><path d="M45,245C45.83,231.67 50.83,224.17 60,210C69.17,195.83 85,176.67 100,160C115,143.33 133.33,125 150,110C166.67,95 181.67,82.5 200,70C218.33,57.5 243.33,43 260,35C276.67,27 285,22.83 300,22C315,21.17 331.67,26.17 350,30C368.33,33.83 390,40 410,45C430,50 450,52.5 470,60C490,67.5 510,76.67 530,90C550,103.33 571.67,121.67 590,140C608.33,158.33 627.5,180 640,200C652.5,220 661.67,240 665,260C668.33,280 665.83,301.67 660,320C654.17,338.33 643.33,357.5 630,370C616.67,382.5 598.33,390 580,395C561.67,400 538.33,400 520,400C501.67,400 481.67,393.33 470,395C458.33,396.67 456.67,402.5 450,410C443.33,417.5 438.33,433.33 430,440C421.67,446.67 411.67,450 400,450C388.33,450 373.33,446.67 360,440C346.67,433.33 335,421.67 320,410C305,398.33 290,380 270,370C250,360 221.67,355 200,350C178.33,345 158.33,345 140,340C121.67,335 104.17,328.33 90,320C75.83,311.67 62.5,302.5 55,290C47.5,277.5 44.17,258.33 45,245Z"/></clipPath><path d="M45,245C45.83,231.67 50.83,224.17 60,210C69.17,195.83 85,176.67 100,160C115,143.33 133.33,125 150,110C166.67,95 181.67,82.5 200,70C218.33,57.5 243.33,43 260,35C276.67,27 285,22.83 300,22C315,21.17 331.67,26.17 350,30C368.33,33.83 390,40 410,45C430,50 450,52.5 470,60C490,67.5 510,76.67 530,90C550,103.33 571.67,121.67 590,140C608.33,158.33 627.5,180 640,200C652.5,220 661.67,240 665,260C668.33,280 665.83,301.67 660,320C654.17,338.33 643.33,357.5 630,370C616.67,382.5 598.33,390 580,395C561.67,400 538.33,400 520,400C501.67,400 481.67,393.33 470,395C458.33,396.67 456.67,402.5 450,410C443.33,417.5 438.33,433.33 430,440C421.67,446.67 411.67,450 400,450C388.33,450 373.33,446.67 360,440C346.67,433.33 335,421.67 320,410C305,398.33 290,380 270,370C250,360 221.67,355 200,350C178.33,345 158.33,345 140,340C121.67,335 104.17,328.33 90,320C75.83,311.67 62.5,302.5 55,290C47.5,277.5 44.17,258.33 45,245Z" fill="#aac0f0"/><g clip-path="url(#cmed)"><g filter="url(#blurE)"><path d="M90,160C97,125 119.67,125.67 150,100C180.33,74.33 185,71 220,50C255,29 262.67,17 300,10C337.33,3 347.33,13 380,20C412.67,27 419,23.67 440,40C461,56.33 474.67,67.83 470,90C465.33,112.17 452.67,122.17 420,135C387.33,147.83 365,138 330,145C295,152 293.33,152.17 270,165C246.67,177.83 246.33,180.17 230,200C213.67,219.83 225.67,238.33 200,250C174.33,261.67 145.67,271 120,250C94.33,229 83,195 90,160Z" fill="#f0c4b4"/><path d="M440,40C458.67,22.5 481.33,41.33 500,60C518.67,78.67 529.33,101.33 520,120C510.67,138.67 483.33,136.5 460,140C436.67,143.5 424.67,158.33 420,135C415.33,111.67 421.33,57.5 440,40Z" fill="#e8dad8"/><path d="M110,175C115.83,151.67 131.33,139 150,125C168.67,111 174.83,109.17 190,115C205.17,120.83 207.53,127.83 215,150C222.47,172.17 225.5,186.67 222,210C218.5,233.33 213.3,241.83 200,250C186.7,258.17 182.5,250.83 165,245C147.5,239.17 137.83,241.33 125,225C112.17,208.67 104.17,198.33 110,175Z" fill="#de7a68"/><path d="M40,250C49.33,233.67 80.33,248.83 120,250C159.67,251.17 176.17,246.83 210,255C243.83,263.17 244,266.33 265,285C286,303.67 296.5,314.7 300,335C303.5,355.3 303.33,368.03 280,372C256.67,375.97 235,359 200,352C165,345 158,349.47 130,342C102,334.53 101,341.47 80,320C59,298.53 30.67,266.33 40,250Z" fill="#c8d2ee"/><path d="M340,330C358.67,299.67 389.67,313 420,320C450.33,327 460.67,329.67 470,360C479.33,390.33 490.33,429 460,450C429.67,471 368,478 340,450C312,422 321.33,360.33 340,330Z" fill="#4a66d4"/></g><path d="M120,170 Q165,190 195,245" fill="none" stroke="#c62a36" stroke-width="20" filter="url(#blurE2)" opacity="0.9"/><path d="M90,250 Q150,270 200,290" fill="none" stroke="#eed8d4" stroke-width="18" filter="url(#blurE2)" opacity="0.8"/><path d="M330,340 L440,325 L470,400 L430,455 L350,445Z" fill="#3e5cd2" filter="url(#blur4)"/><path d="M301,198C304.33,191.17 312.33,186.83 328,184C343.67,181.17 372.67,179.83 395,181C417.33,182.17 443.17,184.83 462,191C480.83,197.17 495.83,208 508,218C520.17,228 530,241 535,251C540,261 541.33,271.33 538,278C534.67,284.67 526.5,286.5 515,291C503.5,295.5 480.17,300.5 469,305C457.83,309.5 453.67,312.5 448,318C442.33,323.5 441.67,333.5 435,338C428.33,342.5 418,345 408,345C398,345 388.33,342.5 375,338C361.67,333.5 341.33,323.5 328,318C314.67,312.5 301,310.5 295,305C289,299.5 287.67,292.83 292,285C296.33,277.17 315,264.67 321,258C327,251.33 330.17,250.5 328,245C325.83,239.5 312.5,232.83 308,225C303.5,217.17 297.67,204.83 301,198Z" fill="none" stroke="#a8c2f4" stroke-width="96" opacity="0.9" filter="url(#blur4)"/><path d="M262.92,162.8C267.32,152.21 277.88,145.49 298.56,141.1C319.24,136.71 357.52,134.64 387,136.45C416.48,138.26 450.58,142.39 475.44,151.95C500.3,161.51 520.1,178.3 536.16,193.8C552.22,209.3 565.2,229.45 571.8,244.95C578.4,260.45 580.16,276.47 575.76,286.8C571.36,297.13 560.58,299.98 545.4,306.95C530.22,313.92 499.42,321.67 484.68,328.65C469.94,335.62 464.44,340.27 456.96,348.8C449.48,357.33 448.6,372.83 439.8,379.8C431,386.77 417.36,390.65 404.16,390.65C390.96,390.65 378.2,386.77 360.6,379.8C343,372.83 316.16,357.33 298.56,348.8C280.96,340.27 262.92,337.17 255,328.65C247.08,320.12 245.32,309.79 251.04,297.65C256.76,285.51 281.4,266.13 289.32,255.8C297.24,245.47 301.42,244.18 298.56,235.65C295.7,227.12 278.1,216.79 272.16,204.65C266.22,192.51 258.52,173.39 262.92,162.8Z" fill="none" stroke="#445" stroke-width="3" opacity="0.35"/><path d="M301,198C304.33,191.17 312.33,186.83 328,184C343.67,181.17 372.67,179.83 395,181C417.33,182.17 443.17,184.83 462,191C480.83,197.17 495.83,208 508,218C520.17,228 530,241 535,251C540,261 541.33,271.33 538,278C534.67,284.67 526.5,286.5 515,291C503.5,295.5 480.17,300.5 469,305C457.83,309.5 453.67,312.5 448,318C442.33,323.5 441.67,333.5 435,338C428.33,342.5 418,345 408,345C398,345 388.33,342.5 375,338C361.67,333.5 341.33,323.5 328,318C314.67,312.5 301,310.5 295,305C289,299.5 287.67,292.83 292,285C296.33,277.17 315,264.67 321,258C327,251.33 330.17,250.5 328,245C325.83,239.5 312.5,232.83 308,225C303.5,217.17 297.67,204.83 301,198Z" fill="none" stroke="#7896e6" stroke-width="46" filter="url(#blur4)"/><path d="M301,198C304.33,191.17 312.33,186.83 328,184C343.67,181.17 372.67,179.83 395,181C417.33,182.17 443.17,184.83 462,191C480.83,197.17 495.83,208 508,218C520.17,228 530,241 535,251C540,261 541.33,271.33 538,278C534.67,284.67 526.5,286.5 515,291C503.5,295.5 480.17,300.5 469,305C457.83,309.5 453.67,312.5 448,318C442.33,323.5 441.67,333.5 435,338C428.33,342.5 418,345 408,345C398,345 388.33,342.5 375,338C361.67,333.5 341.33,323.5 328,318C314.67,312.5 301,310.5 295,305C289,299.5 287.67,292.83 292,285C296.33,277.17 315,264.67 321,258C327,251.33 330.17,250.5 328,245C325.83,239.5 312.5,232.83 308,225C303.5,217.17 297.67,204.83 301,198Z" fill="none" stroke="#3c5ad4" stroke-width="10"/><path d="M301,198C304.33,191.17 312.33,186.83 328,184C343.67,181.17 372.67,179.83 395,181C417.33,182.17 443.17,184.83 462,191C480.83,197.17 495.83,208 508,218C520.17,228 530,241 535,251C540,261 541.33,271.33 538,278C534.67,284.67 526.5,286.5 515,291C503.5,295.5 480.17,300.5 469,305C457.83,309.5 453.67,312.5 448,318C442.33,323.5 441.67,333.5 435,338C428.33,342.5 418,345 408,345C398,345 388.33,342.5 375,338C361.67,333.5 341.33,323.5 328,318C314.67,312.5 301,310.5 295,305C289,299.5 287.67,292.83 292,285C296.33,277.17 315,264.67 321,258C327,251.33 330.17,250.5 328,245C325.83,239.5 312.5,232.83 308,225C303.5,217.17 297.67,204.83 301,198Z" fill="#c8c8c8"/><path d="M45,245C45.83,231.67 50.83,224.17 60,210C69.17,195.83 85,176.67 100,160C115,143.33 133.33,125 150,110C166.67,95 181.67,82.5 200,70C218.33,57.5 243.33,43 260,35C276.67,27 285,22.83 300,22C315,21.17 331.67,26.17 350,30C368.33,33.83 390,40 410,45C430,50 450,52.5 470,60C490,67.5 510,76.67 530,90C550,103.33 571.67,121.67 590,140C608.33,158.33 627.5,180 640,200C652.5,220 661.67,240 665,260C668.33,280 665.83,301.67 660,320C654.17,338.33 643.33,357.5 630,370C616.67,382.5 598.33,390 580,395C561.67,400 538.33,400 520,400C501.67,400 481.67,393.33 470,395C458.33,396.67 456.67,402.5 450,410C443.33,417.5 438.33,433.33 430,440C421.67,446.67 411.67,450 400,450C388.33,450 373.33,446.67 360,440C346.67,433.33 335,421.67 320,410C305,398.33 290,380 270,370C250,360 221.67,355 200,350C178.33,345 158.33,345 140,340C121.67,335 104.17,328.33 90,320C75.83,311.67 62.5,302.5 55,290C47.5,277.5 44.17,258.33 45,245Z" fill="none" stroke="#3a2a2a" stroke-width="16" opacity="0.28" filter="url(#blurE2)"/></g><path d="M45,245C45.83,231.67 50.83,224.17 60,210C69.17,195.83 85,176.67 100,160C115,143.33 133.33,125 150,110C166.67,95 181.67,82.5 200,70C218.33,57.5 243.33,43 260,35C276.67,27 285,22.83 300,22C315,21.17 331.67,26.17 350,30C368.33,33.83 390,40 410,45C430,50 450,52.5 470,60C490,67.5 510,76.67 530,90C550,103.33 571.67,121.67 590,140C608.33,158.33 627.5,180 640,200C652.5,220 661.67,240 665,260C668.33,280 665.83,301.67 660,320C654.17,338.33 643.33,357.5 630,370C616.67,382.5 598.33,390 580,395C561.67,400 538.33,400 520,400C501.67,400 481.67,393.33 470,395C458.33,396.67 456.67,402.5 450,410C443.33,417.5 438.33,433.33 430,440C421.67,446.67 411.67,450 400,450C388.33,450 373.33,446.67 360,440C346.67,433.33 335,421.67 320,410C305,398.33 290,380 270,370C250,360 221.67,355 200,350C178.33,345 158.33,345 140,340C121.67,335 104.17,328.33 90,320C75.83,311.67 62.5,302.5 55,290C47.5,277.5 44.17,258.33 45,245Z" fill="none" stroke="#333" stroke-width="2.5" opacity="0.55"/></g>
<rect x="305.2" y="389.5" width="43.1" height="6.1" fill="url(#cwgrad)"/>
<text x="289.9" y="396.6" font-size="9" textLength="12.1" lengthAdjust="spacingAndGlyphs">0.5</text>
<text x="349.1" y="396.6" font-size="9" textLength="12.4" lengthAdjust="spacingAndGlyphs">1.5</text>
<text x="322.8" y="386.6" font-size="9" font-style="italic">β</text>
<rect x="539.8" y="208" width="134.9" height="186" fill="none" stroke="#999" stroke-width="0.7"/>
<line x1="610.5" y1="208" x2="610.5" y2="394" stroke="#333" stroke-width="0.6" stroke-dasharray="1.5,1.2"/>
<text x="539.3" y="214" font-size="7.8" text-anchor="end" fill="#111">hippocampus</text><text x="539.3" y="220.42" font-size="7.8" text-anchor="end" fill="#111">entorhinal</text><text x="539.3" y="226.84" font-size="7.8" text-anchor="end" fill="#111">retrosplenial</text><text x="539.3" y="233.26" font-size="7.8" text-anchor="end" fill="#111">perirhinal</text><text x="539.3" y="239.68" font-size="7.8" text-anchor="end" fill="#111">subcallosal cingulate</text><text x="539.3" y="246.1" font-size="7.8" text-anchor="end" fill="#111">parahippocampal</text><text x="539.3" y="252.52" font-size="7.8" text-anchor="end" fill="#111">paleocortex</text><text x="539.3" y="258.94" font-size="7.8" text-anchor="end" fill="#111">midcingulate</text><text x="539.3" y="265.36" font-size="7.8" text-anchor="end" fill="#111">frontal pole</text><text x="539.3" y="271.78" font-size="7.8" text-anchor="end" fill="#111">rostral cingulate</text><text x="539.3" y="278.2" font-size="7.8" text-anchor="end" fill="#111">caudal cingulate</text><text x="539.3" y="284.62" font-size="7.8" text-anchor="end" fill="#111">orbitofrontal</text><text x="539.3" y="291.04" font-size="7.8" text-anchor="end" fill="#111">ventrolateral temporal</text><text x="539.3" y="297.46" font-size="7.8" text-anchor="end" fill="#111">medial temporal-occipital</text><text x="539.3" y="303.88" font-size="7.8" text-anchor="end" fill="#111">primary visual</text><text x="539.3" y="310.3" font-size="7.8" text-anchor="end" fill="#111">extrastriate</text><text x="539.3" y="316.72" font-size="7.8" text-anchor="end" fill="#111">agranular insula</text><text x="539.3" y="323.14" font-size="7.8" text-anchor="end" fill="#111">dorsolateral pfc</text><text x="539.3" y="329.56" font-size="7.8" text-anchor="end" fill="#111">premotor</text><text x="539.3" y="335.98" font-size="7.8" text-anchor="end" fill="#111">ventrolateral pfc</text><text x="539.3" y="342.4" font-size="7.8" text-anchor="end" fill="#111">lateral temporal-occipital</text><text x="539.3" y="348.82" font-size="7.8" text-anchor="end" fill="#111">dysgranular insula</text><text x="539.3" y="355.24" font-size="7.8" text-anchor="end" fill="#111">auditory</text><text x="539.3" y="361.66" font-size="7.8" text-anchor="end" fill="#111">ventral parietal</text><text x="539.3" y="368.08" font-size="7.8" text-anchor="end" fill="#111">dorsolateral temporal</text><text x="539.3" y="374.5" font-size="7.8" text-anchor="end" fill="#111">dorsal parietal</text><text x="539.3" y="380.92" font-size="7.8" text-anchor="end" fill="#111">motor</text><text x="539.3" y="387.34" font-size="7.8" text-anchor="end" fill="#111">sensory</text><text x="539.3" y="393.76" font-size="7.8" text-anchor="end" fill="#111">granular insula</text>
<line x1="568.3" y1="211.4" x2="608.4" y2="211.4" stroke="#666" stroke-width="0.5"/><line x1="568.3" y1="210.2" x2="568.3" y2="212.6" stroke="#666" stroke-width="0.5"/><line x1="608.4" y1="210.2" x2="608.4" y2="212.6" stroke="#666" stroke-width="0.5"/><rect x="574.4" y="209.15" width="13.6" height="4.5" fill="#455acb" stroke="#334398" stroke-width="0.5"/><line x1="579.9" y1="209.15" x2="579.9" y2="213.65" stroke="#222d65" stroke-width="0.6"/><circle cx="608.4" cy="211.4" r="0.9" fill="#2a2a2a" fill-opacity="0.9"/><circle cx="609.71" cy="211.4" r="0.9" fill="#2a2a2a" fill-opacity="0.9"/><circle cx="611.01" cy="211.4" r="0.9" fill="#2a2a2a" fill-opacity="0.9"/><circle cx="612.32" cy="211.4" r="0.9" fill="#2a2a2a" fill-opacity="0.9"/><circle cx="613.63" cy="211.4" r="0.9" fill="#2a2a2a" fill-opacity="0.9"/><circle cx="614.93" cy="211.4" r="0.9" fill="#2a2a2a" fill-opacity="0.9"/><circle cx="616.24" cy="211.4" r="0.9" fill="#2a2a2a" fill-opacity="0.9"/><circle cx="617.55" cy="211.4" r="0.9" fill="#2a2a2a" fill-opacity="0.9"/><circle cx="618.85" cy="211.4" r="0.9" fill="#2a2a2a" fill-opacity="0.9"/><circle cx="620.16" cy="211.4" r="0.9" fill="#2a2a2a" fill-opacity="0.9"/><circle cx="621.47" cy="211.4" r="0.9" fill="#2a2a2a" fill-opacity="0.9"/><circle cx="622.77" cy="211.4" r="0.9" fill="#2a2a2a" fill-opacity="0.9"/><circle cx="624.08" cy="211.4" r="0.9" fill="#2a2a2a" fill-opacity="0.9"/><circle cx="625.39" cy="211.4" r="0.9" fill="#2a2a2a" fill-opacity="0.9"/><circle cx="626.69" cy="211.4" r="0.9" fill="#2a2a2a" fill-opacity="0.9"/><circle cx="628" cy="211.4" r="0.9" fill="#2a2a2a" fill-opacity="0.9"/><line x1="565.7" y1="217.82" x2="602.9" y2="217.82" stroke="#666" stroke-width="0.5"/><line x1="565.7" y1="216.62" x2="565.7" y2="219.02" stroke="#666" stroke-width="0.5"/><line x1="602.9" y1="216.62" x2="602.9" y2="219.02" stroke="#666" stroke-width="0.5"/><rect x="577.3" y="215.57" width="10.3" height="4.5" fill="#4d66d4" stroke="#394c9f" stroke-width="0.5"/><line x1="581.4" y1="215.57" x2="581.4" y2="220.07" stroke="#26336a" stroke-width="0.6"/><circle cx="602.9" cy="217.82" r="0.9" fill="#2a2a2a" fill-opacity="0.9"/><circle cx="604.15" cy="217.82" r="0.9" fill="#2a2a2a" fill-opacity="0.9"/><circle cx="605.4" cy="217.82" r="0.9" fill="#2a2a2a" fill-opacity="0.9"/><circle cx="606.65" cy="217.82" r="0.9" fill="#2a2a2a" fill-opacity="0.9"/><circle cx="607.9" cy="217.82" r="0.9" fill="#2a2a2a" fill-opacity="0.9"/><circle cx="609.15" cy="217.82" r="0.9" fill="#2a2a2a" fill-opacity="0.9"/><circle cx="610.4" cy="217.82" r="0.9" fill="#2a2a2a" fill-opacity="0.9"/><circle cx="611.65" cy="217.82" r="0.9" fill="#2a2a2a" fill-opacity="0.9"/><circle cx="612.9" cy="217.82" r="0.9" fill="#2a2a2a" fill-opacity="0.9"/><circle cx="614.15" cy="217.82" r="0.9" fill="#2a2a2a" fill-opacity="0.9"/><circle cx="615.4" cy="217.82" r="0.9" fill="#2a2a2a" fill-opacity="0.9"/><circle cx="616.65" cy="217.82" r="0.9" fill="#2a2a2a" fill-opacity="0.9"/><circle cx="617.9" cy="217.82" r="0.9" fill="#2a2a2a" fill-opacity="0.9"/><circle cx="619.15" cy="217.82" r="0.9" fill="#2a2a2a" fill-opacity="0.9"/><circle cx="620.4" cy="217.82" r="0.9" fill="#2a2a2a" fill-opacity="0.9"/><line x1="553.6" y1="224.24" x2="609.4" y2="224.24" stroke="#666" stroke-width="0.5"/><line x1="553.6" y1="223.04" x2="553.6" y2="225.44" stroke="#666" stroke-width="0.5"/><line x1="609.4" y1="223.04" x2="609.4" y2="225.44" stroke="#666" stroke-width="0.5"/><rect x="574.4" y="221.99" width="16.9" height="4.5" fill="#5571de" stroke="#3f54a6" stroke-width="0.5"/><line x1="584.3" y1="221.99" x2="584.3" y2="226.49" stroke="#2a386f" stroke-width="0.6"/><circle cx="547" cy="224.24" r="0.9" fill="#2a2a2a" fill-opacity="0.9"/><circle cx="549" cy="224.24" r="0.9" fill="#2a2a2a" fill-opacity="0.9"/><line x1="579.9" y1="230.66" x2="598.5" y2="230.66" stroke="#666" stroke-width="0.5"/><line x1="579.9" y1="229.46" x2="579.9" y2="231.86" stroke="#666" stroke-width="0.5"/><line x1="598.5" y1="229.46" x2="598.5" y2="231.86" stroke="#666" stroke-width="0.5"/><rect x="584.3" y="228.41" width="6.5" height="4.5" fill="#5e7ce5" stroke="#465dab" stroke-width="0.5"/><line x1="587.6" y1="228.41" x2="587.6" y2="232.91" stroke="#2f3e72" stroke-width="0.6"/><circle cx="599.6" cy="230.66" r="0.9" fill="#2a2a2a" fill-opacity="0.9"/><circle cx="601" cy="230.66" r="0.9" fill="#2a2a2a" fill-opacity="0.9"/><circle cx="602.4" cy="230.66" r="0.9" fill="#2a2a2a" fill-opacity="0.9"/><circle cx="603.8" cy="230.66" r="0.9" fill="#2a2a2a" fill-opacity="0.9"/><circle cx="605.2" cy="230.66" r="0.9" fill="#2a2a2a" fill-opacity="0.9"/><circle cx="606.6" cy="230.66" r="0.9" fill="#2a2a2a" fill-opacity="0.9"/><circle cx="608" cy="230.66" r="0.9" fill="#2a2a2a" fill-opacity="0.9"/><circle cx="609.4" cy="230.66" r="0.9" fill="#2a2a2a" fill-opacity="0.9"/><line x1="575.5" y1="237.08" x2="597.4" y2="237.08" stroke="#666" stroke-width="0.5"/><line x1="575.5" y1="235.88" x2="575.5" y2="238.28" stroke="#666" stroke-width="0.5"/><line x1="597.4" y1="235.88" x2="597.4" y2="238.28" stroke="#666" stroke-width="0.5"/><rect x="585.4" y="234.83" width="5.4" height="4.5" fill="#6786eb" stroke="#4d64b0" stroke-width="0.5"/><line x1="587.6" y1="234.83" x2="587.6" y2="239.33" stroke="#334375" stroke-width="0.6"/><circle cx="573.3" cy="237.08" r="0.9" fill="#2a2a2a" fill-opacity="0.9"/><circle cx="575.5" cy="237.08" r="0.9" fill="#2a2a2a" fill-opacity="0.9"/><circle cx="610.5" cy="237.08" r="0.9" fill="#2a2a2a"/><line x1="572.2" y1="243.5" x2="620" y2="243.5" stroke="#666" stroke-width="0.5"/><line x1="572.2" y1="242.3" x2="572.2" y2="244.7" stroke="#666" stroke-width="0.5"/><line x1="620" y1="242.3" x2="620" y2="244.7" stroke="#666" stroke-width="0.5"/><rect x="583.2" y="241.25" width="15.3" height="4.5" fill="#7091f1" stroke="#546cb4" stroke-width="0.5"/><line x1="589.7" y1="241.25" x2="589.7" y2="245.75" stroke="#384878" stroke-width="0.6"/><line x1="579.9" y1="249.92" x2="604.6" y2="249.92" stroke="#666" stroke-width="0.5"/><line x1="579.9" y1="248.72" x2="579.9" y2="251.12" stroke="#666" stroke-width="0.5"/><line x1="604.6" y1="248.72" x2="604.6" y2="251.12" stroke="#666" stroke-width="0.5"/><rect x="588.6" y="247.67" width="8.1" height="4.5" fill="#799bf7" stroke="#5a74b9" stroke-width="0.5"/><line x1="591.9" y1="247.67" x2="591.9" y2="252.17" stroke="#3c4d7b" stroke-width="0.6"/><line x1="557.3" y1="256.34" x2="620.4" y2="256.34" stroke="#666" stroke-width="0.5"/><line x1="557.3" y1="255.14" x2="557.3" y2="257.54" stroke="#666" stroke-width="0.5"/><line x1="620.4" y1="255.14" x2="620.4" y2="257.54" stroke="#666" stroke-width="0.5"/><rect x="581.4" y="254.09" width="23.2" height="4.5" fill="#83a5f9" stroke="#627bba" stroke-width="0.5"/><line x1="593.7" y1="254.09" x2="593.7" y2="258.59" stroke="#41527c" stroke-width="0.6"/><line x1="582.1" y1="262.76" x2="616.5" y2="262.76" stroke="#666" stroke-width="0.5"/><line x1="582.1" y1="261.56" x2="582.1" y2="263.96" stroke="#666" stroke-width="0.5"/><line x1="616.5" y1="261.56" x2="616.5" y2="263.96" stroke="#666" stroke-width="0.5"/><rect x="593" y="260.51" width="9.9" height="4.5" fill="#8daefa" stroke="#6982bb" stroke-width="0.5"/><line x1="597.4" y1="260.51" x2="597.4" y2="265.01" stroke="#46577d" stroke-width="0.6"/><line x1="563.5" y1="269.18" x2="608.4" y2="269.18" stroke="#666" stroke-width="0.5"/><line x1="563.5" y1="267.98" x2="563.5" y2="270.38" stroke="#666" stroke-width="0.5"/><line x1="608.4" y1="267.98" x2="608.4" y2="270.38" stroke="#666" stroke-width="0.5"/><rect x="587.6" y="266.93" width="13.7" height="4.5" fill="#98b8fb" stroke="#728abc" stroke-width="0.5"/><line x1="598.5" y1="266.93" x2="598.5" y2="271.43" stroke="#4c5c7d" stroke-width="0.6"/><circle cx="558" cy="269.18" r="0.9" fill="#2a2a2a" fill-opacity="0.9"/><circle cx="559.45" cy="269.18" r="0.9" fill="#2a2a2a" fill-opacity="0.9"/><circle cx="560.9" cy="269.18" r="0.9" fill="#2a2a2a" fill-opacity="0.9"/><circle cx="562.35" cy="269.18" r="0.9" fill="#2a2a2a" fill-opacity="0.9"/><circle cx="563.8" cy="269.18" r="0.9" fill="#2a2a2a" fill-opacity="0.9"/><circle cx="565.25" cy="269.18" r="0.9" fill="#2a2a2a" fill-opacity="0.9"/><circle cx="566.7" cy="269.18" r="0.9" fill="#2a2a2a" fill-opacity="0.9"/><line x1="569.6" y1="275.6" x2="625.9" y2="275.6" stroke="#666" stroke-width="0.5"/><line x1="569.6" y1="274.4" x2="569.6" y2="276.8" stroke="#666" stroke-width="0.5"/><line x1="625.9" y1="274.4" x2="625.9" y2="276.8" stroke="#666" stroke-width="0.5"/><rect x="590.4" y="273.35" width="17.3" height="4.5" fill="#a3c1fc" stroke="#7a90bd" stroke-width="0.5"/><line x1="597.4" y1="273.35" x2="597.4" y2="277.85" stroke="#51607e" stroke-width="0.6"/><line x1="581.4" y1="282.02" x2="624.3" y2="282.02" stroke="#666" stroke-width="0.5"/><line x1="581.4" y1="280.82" x2="581.4" y2="283.22" stroke="#666" stroke-width="0.5"/><line x1="624.3" y1="280.82" x2="624.3" y2="283.22" stroke="#666" stroke-width="0.5"/><rect x="592.4" y="279.77" width="19.2" height="4.5" fill="#b1c8f5" stroke="#8496b7" stroke-width="0.5"/><line x1="601.8" y1="279.77" x2="601.8" y2="284.27" stroke="#58647a" stroke-width="0.6"/><line x1="584.9" y1="288.44" x2="625.2" y2="288.44" stroke="#666" stroke-width="0.5"/><line x1="584.9" y1="287.24" x2="584.9" y2="289.64" stroke="#666" stroke-width="0.5"/><line x1="625.2" y1="287.24" x2="625.2" y2="289.64" stroke="#666" stroke-width="0.5"/><rect x="598.5" y="286.19" width="12" height="4.5" fill="#c0cfed" stroke="#909bb1" stroke-width="0.5"/><line x1="603.3" y1="286.19" x2="603.3" y2="290.69" stroke="#606776" stroke-width="0.6"/><circle cx="628" cy="288.44" r="0.9" fill="#2a2a2a" fill-opacity="0.9"/><circle cx="629.65" cy="288.44" r="0.9" fill="#2a2a2a" fill-opacity="0.9"/><circle cx="631.3" cy="288.44" r="0.9" fill="#2a2a2a" fill-opacity="0.9"/><line x1="601.1" y1="294.86" x2="620.4" y2="294.86" stroke="#666" stroke-width="0.5"/><line x1="601.1" y1="293.66" x2="601.1" y2="296.06" stroke="#666" stroke-width="0.5"/><line x1="620.4" y1="293.66" x2="620.4" y2="296.06" stroke="#666" stroke-width="0.5"/><rect x="605.5" y="292.61" width="6.6" height="4.5" fill="#ced6e5" stroke="#9aa0ab" stroke-width="0.5"/><line x1="607.7" y1="292.61" x2="607.7" y2="297.11" stroke="#676b72" stroke-width="0.6"/><line x1="580.5" y1="301.28" x2="638.4" y2="301.28" stroke="#666" stroke-width="0.5"/><line x1="580.5" y1="300.08" x2="580.5" y2="302.48" stroke="#666" stroke-width="0.5"/><line x1="638.4" y1="300.08" x2="638.4" y2="302.48" stroke="#666" stroke-width="0.5"/><rect x="596.3" y="299.03" width="19.3" height="4.5" fill="#dddddd" stroke="#a5a5a5" stroke-width="0.5"/><line x1="607.3" y1="299.03" x2="607.3" y2="303.53" stroke="#6e6e6e" stroke-width="0.6"/><line x1="584.3" y1="307.7" x2="651" y2="307.7" stroke="#666" stroke-width="0.5"/><line x1="584.3" y1="306.5" x2="584.3" y2="308.9" stroke="#666" stroke-width="0.5"/><line x1="651" y1="306.5" x2="651" y2="308.9" stroke="#666" stroke-width="0.5"/><rect x="600.3" y="305.45" width="20.1" height="4.5" fill="#e3d6d0" stroke="#aaa09c" stroke-width="0.5"/><line x1="610.5" y1="305.45" x2="610.5" y2="309.95" stroke="#716b68" stroke-width="0.6"/><circle cx="651" cy="307.7" r="0.9" fill="#2a2a2a" fill-opacity="0.9"/><circle cx="652.32" cy="307.7" r="0.9" fill="#2a2a2a" fill-opacity="0.9"/><circle cx="653.64" cy="307.7" r="0.9" fill="#2a2a2a" fill-opacity="0.9"/><circle cx="654.96" cy="307.7" r="0.9" fill="#2a2a2a" fill-opacity="0.9"/><circle cx="656.28" cy="307.7" r="0.9" fill="#2a2a2a" fill-opacity="0.9"/><circle cx="657.6" cy="307.7" r="0.9" fill="#2a2a2a" fill-opacity="0.9"/><line x1="602.9" y1="314.12" x2="634.6" y2="314.12" stroke="#666" stroke-width="0.5"/><line x1="602.9" y1="312.92" x2="602.9" y2="315.32" stroke="#666" stroke-width="0.5"/><line x1="634.6" y1="312.92" x2="634.6" y2="315.32" stroke="#666" stroke-width="0.5"/><rect x="607.3" y="311.87" width="11.3" height="4.5" fill="#e9d0c4" stroke="#ae9c93" stroke-width="0.5"/><line x1="612.1" y1="311.87" x2="612.1" y2="316.37" stroke="#746862" stroke-width="0.6"/><circle cx="639" cy="314.12" r="0.9" fill="#2a2a2a"/><circle cx="642.3" cy="314.12" r="0.9" fill="#2a2a2a"/><circle cx="645.6" cy="314.12" r="0.9" fill="#2a2a2a"/><line x1="593" y1="320.54" x2="634.6" y2="320.54" stroke="#666" stroke-width="0.5"/><line x1="593" y1="319.34" x2="593" y2="321.74" stroke="#666" stroke-width="0.5"/><line x1="634.6" y1="319.34" x2="634.6" y2="321.74" stroke="#666" stroke-width="0.5"/><rect x="608.4" y="318.29" width="14.2" height="4.5" fill="#efc9b7" stroke="#b39689" stroke-width="0.5"/><line x1="614.9" y1="318.29" x2="614.9" y2="322.79" stroke="#77645b" stroke-width="0.6"/><line x1="599.2" y1="326.96" x2="629.6" y2="326.96" stroke="#666" stroke-width="0.5"/><line x1="599.2" y1="325.76" x2="599.2" y2="328.16" stroke="#666" stroke-width="0.5"/><line x1="629.6" y1="325.76" x2="629.6" y2="328.16" stroke="#666" stroke-width="0.5"/><rect x="612.7" y="324.71" width="8.8" height="4.5" fill="#f4c2aa" stroke="#b7917f" stroke-width="0.5"/><line x1="617.1" y1="324.71" x2="617.1" y2="329.21" stroke="#7a6155" stroke-width="0.6"/><line x1="604.6" y1="333.38" x2="629.2" y2="333.38" stroke="#666" stroke-width="0.5"/><line x1="604.6" y1="332.18" x2="604.6" y2="334.58" stroke="#666" stroke-width="0.5"/><line x1="629.2" y1="332.18" x2="629.2" y2="334.58" stroke="#666" stroke-width="0.5"/><rect x="614.3" y="331.13" width="6.1" height="4.5" fill="#f4b79d" stroke="#b78975" stroke-width="0.5"/><line x1="617.1" y1="331.13" x2="617.1" y2="335.63" stroke="#7a5b4e" stroke-width="0.6"/><circle cx="598.5" cy="333.38" r="0.9" fill="#2a2a2a" fill-opacity="0.9"/><circle cx="600.02" cy="333.38" r="0.9" fill="#2a2a2a" fill-opacity="0.9"/><circle cx="601.55" cy="333.38" r="0.9" fill="#2a2a2a" fill-opacity="0.9"/><circle cx="603.08" cy="333.38" r="0.9" fill="#2a2a2a" fill-opacity="0.9"/><circle cx="604.6" cy="333.38" r="0.9" fill="#2a2a2a" fill-opacity="0.9"/><circle cx="629.2" cy="333.38" r="0.9" fill="#2a2a2a" fill-opacity="0.9"/><circle cx="630.5" cy="333.38" r="0.9" fill="#2a2a2a" fill-opacity="0.9"/><circle cx="631.8" cy="333.38" r="0.9" fill="#2a2a2a" fill-opacity="0.9"/><circle cx="633.1" cy="333.38" r="0.9" fill="#2a2a2a" fill-opacity="0.9"/><circle cx="634.4" cy="333.38" r="0.9" fill="#2a2a2a" fill-opacity="0.9"/><circle cx="635.7" cy="333.38" r="0.9" fill="#2a2a2a" fill-opacity="0.9"/><line x1="602.9" y1="339.8" x2="631.3" y2="339.8" stroke="#666" stroke-width="0.5"/><line x1="602.9" y1="338.6" x2="602.9" y2="341" stroke="#666" stroke-width="0.5"/><line x1="631.3" y1="338.6" x2="631.3" y2="341" stroke="#666" stroke-width="0.5"/><rect x="613.4" y="337.55" width="8.7" height="4.5" fill="#f4ac90" stroke="#b7816c" stroke-width="0.5"/><line x1="618.2" y1="337.55" x2="618.2" y2="342.05" stroke="#7a5648" stroke-width="0.6"/><line x1="598.5" y1="346.22" x2="644.5" y2="346.22" stroke="#666" stroke-width="0.5"/><line x1="598.5" y1="345.02" x2="598.5" y2="347.42" stroke="#666" stroke-width="0.5"/><line x1="644.5" y1="345.02" x2="644.5" y2="347.42" stroke="#666" stroke-width="0.5"/><rect x="615.6" y="343.97" width="11.8" height="4.5" fill="#f4a183" stroke="#b77862" stroke-width="0.5"/><line x1="621.5" y1="343.97" x2="621.5" y2="348.47" stroke="#7a5041" stroke-width="0.6"/><circle cx="644.5" cy="346.22" r="0.9" fill="#2a2a2a" fill-opacity="0.9"/><circle cx="645.79" cy="346.22" r="0.9" fill="#2a2a2a" fill-opacity="0.9"/><circle cx="647.08" cy="346.22" r="0.9" fill="#2a2a2a" fill-opacity="0.9"/><circle cx="648.36" cy="346.22" r="0.9" fill="#2a2a2a" fill-opacity="0.9"/><circle cx="649.65" cy="346.22" r="0.9" fill="#2a2a2a" fill-opacity="0.9"/><circle cx="650.94" cy="346.22" r="0.9" fill="#2a2a2a" fill-opacity="0.9"/><circle cx="652.23" cy="346.22" r="0.9" fill="#2a2a2a" fill-opacity="0.9"/><circle cx="653.52" cy="346.22" r="0.9" fill="#2a2a2a" fill-opacity="0.9"/><circle cx="654.81" cy="346.22" r="0.9" fill="#2a2a2a" fill-opacity="0.9"/><circle cx="656.09" cy="346.22" r="0.9" fill="#2a2a2a" fill-opacity="0.9"/><circle cx="657.38" cy="346.22" r="0.9" fill="#2a2a2a" fill-opacity="0.9"/><circle cx="658.67" cy="346.22" r="0.9" fill="#2a2a2a" fill-opacity="0.9"/><circle cx="659.96" cy="346.22" r="0.9" fill="#2a2a2a" fill-opacity="0.9"/><circle cx="661.25" cy="346.22" r="0.9" fill="#2a2a2a" fill-opacity="0.9"/><circle cx="662.54" cy="346.22" r="0.9" fill="#2a2a2a" fill-opacity="0.9"/><circle cx="663.82" cy="346.22" r="0.9" fill="#2a2a2a" fill-opacity="0.9"/><circle cx="665.11" cy="346.22" r="0.9" fill="#2a2a2a" fill-opacity="0.9"/><circle cx="666.4" cy="346.22" r="0.9" fill="#2a2a2a" fill-opacity="0.9"/><circle cx="598.5" cy="346.22" r="0.9" fill="#2a2a2a"/><line x1="610.5" y1="352.64" x2="635.3" y2="352.64" stroke="#666" stroke-width="0.5"/><line x1="610.5" y1="351.44" x2="610.5" y2="353.84" stroke="#666" stroke-width="0.5"/><line x1="635.3" y1="351.44" x2="635.3" y2="353.84" stroke="#666" stroke-width="0.5"/><rect x="616" y="350.39" width="9.4" height="4.5" fill="#f29476" stroke="#b56f58" stroke-width="0.5"/><line x1="621.5" y1="350.39" x2="621.5" y2="354.89" stroke="#794a3b" stroke-width="0.6"/><line x1="613.4" y1="359.06" x2="636.8" y2="359.06" stroke="#666" stroke-width="0.5"/><line x1="613.4" y1="357.86" x2="613.4" y2="360.26" stroke="#666" stroke-width="0.5"/><line x1="636.8" y1="357.86" x2="636.8" y2="360.26" stroke="#666" stroke-width="0.5"/><rect x="621.5" y="356.81" width="5.9" height="4.5" fill="#ec856a" stroke="#b1634f" stroke-width="0.5"/><line x1="623.7" y1="356.81" x2="623.7" y2="361.31" stroke="#764235" stroke-width="0.6"/><circle cx="636.8" cy="359.06" r="0.9" fill="#2a2a2a" fill-opacity="0.9"/><circle cx="638.17" cy="359.06" r="0.9" fill="#2a2a2a" fill-opacity="0.9"/><circle cx="639.55" cy="359.06" r="0.9" fill="#2a2a2a" fill-opacity="0.9"/><circle cx="640.92" cy="359.06" r="0.9" fill="#2a2a2a" fill-opacity="0.9"/><circle cx="642.3" cy="359.06" r="0.9" fill="#2a2a2a" fill-opacity="0.9"/><line x1="594.6" y1="365.48" x2="650" y2="365.48" stroke="#666" stroke-width="0.5"/><line x1="594.6" y1="364.28" x2="594.6" y2="366.68" stroke="#666" stroke-width="0.5"/><line x1="650" y1="364.28" x2="650" y2="366.68" stroke="#666" stroke-width="0.5"/><rect x="613.4" y="363.23" width="15.3" height="4.5" fill="#e6765e" stroke="#ac5846" stroke-width="0.5"/><line x1="623.7" y1="363.23" x2="623.7" y2="367.73" stroke="#733b2f" stroke-width="0.6"/><circle cx="650" cy="365.48" r="0.9" fill="#2a2a2a" fill-opacity="0.9"/><circle cx="651.33" cy="365.48" r="0.9" fill="#2a2a2a" fill-opacity="0.9"/><circle cx="652.66" cy="365.48" r="0.9" fill="#2a2a2a" fill-opacity="0.9"/><circle cx="653.99" cy="365.48" r="0.9" fill="#2a2a2a" fill-opacity="0.9"/><circle cx="655.31" cy="365.48" r="0.9" fill="#2a2a2a" fill-opacity="0.9"/><circle cx="656.64" cy="365.48" r="0.9" fill="#2a2a2a" fill-opacity="0.9"/><circle cx="657.97" cy="365.48" r="0.9" fill="#2a2a2a" fill-opacity="0.9"/><circle cx="659.3" cy="365.48" r="0.9" fill="#2a2a2a" fill-opacity="0.9"/><circle cx="660.63" cy="365.48" r="0.9" fill="#2a2a2a" fill-opacity="0.9"/><circle cx="661.96" cy="365.48" r="0.9" fill="#2a2a2a" fill-opacity="0.9"/><circle cx="663.29" cy="365.48" r="0.9" fill="#2a2a2a" fill-opacity="0.9"/><circle cx="664.61" cy="365.48" r="0.9" fill="#2a2a2a" fill-opacity="0.9"/><circle cx="665.94" cy="365.48" r="0.9" fill="#2a2a2a" fill-opacity="0.9"/><circle cx="667.27" cy="365.48" r="0.9" fill="#2a2a2a" fill-opacity="0.9"/><circle cx="668.6" cy="365.48" r="0.9" fill="#2a2a2a" fill-opacity="0.9"/><line x1="613.2" y1="371.9" x2="636.8" y2="371.9" stroke="#666" stroke-width="0.5"/><line x1="613.2" y1="370.7" x2="613.2" y2="373.1" stroke="#666" stroke-width="0.5"/><line x1="636.8" y1="370.7" x2="636.8" y2="373.1" stroke="#666" stroke-width="0.5"/><rect x="619.7" y="369.65" width="7.9" height="4.5" fill="#e06652" stroke="#a84c3d" stroke-width="0.5"/><line x1="623.7" y1="369.65" x2="623.7" y2="374.15" stroke="#703329" stroke-width="0.6"/><circle cx="639" cy="371.9" r="0.9" fill="#2a2a2a" fill-opacity="0.9"/><circle cx="640.47" cy="371.9" r="0.9" fill="#2a2a2a" fill-opacity="0.9"/><circle cx="641.93" cy="371.9" r="0.9" fill="#2a2a2a" fill-opacity="0.9"/><circle cx="643.4" cy="371.9" r="0.9" fill="#2a2a2a" fill-opacity="0.9"/><line x1="610.5" y1="378.32" x2="635.3" y2="378.32" stroke="#666" stroke-width="0.5"/><line x1="610.5" y1="377.12" x2="610.5" y2="379.52" stroke="#666" stroke-width="0.5"/><line x1="635.3" y1="377.12" x2="635.3" y2="379.52" stroke="#666" stroke-width="0.5"/><rect x="620.4" y="376.07" width="8.3" height="4.5" fill="#d85247" stroke="#a23d35" stroke-width="0.5"/><line x1="625.2" y1="376.07" x2="625.2" y2="380.57" stroke="#6c2923" stroke-width="0.6"/><circle cx="608.4" cy="378.32" r="0.9" fill="#2a2a2a"/><line x1="618.2" y1="384.74" x2="639.7" y2="384.74" stroke="#666" stroke-width="0.5"/><line x1="618.2" y1="383.54" x2="618.2" y2="385.94" stroke="#666" stroke-width="0.5"/><line x1="639.7" y1="383.54" x2="639.7" y2="385.94" stroke="#666" stroke-width="0.5"/><rect x="626.5" y="382.49" width="5.3" height="4.5" fill="#cc3a3d" stroke="#992b2d" stroke-width="0.5"/><line x1="629.2" y1="382.49" x2="629.2" y2="386.99" stroke="#661d1e" stroke-width="0.6"/><circle cx="608.4" cy="384.74" r="0.9" fill="#2a2a2a" fill-opacity="0.9"/><circle cx="609.8" cy="384.74" r="0.9" fill="#2a2a2a" fill-opacity="0.9"/><circle cx="611.2" cy="384.74" r="0.9" fill="#2a2a2a" fill-opacity="0.9"/><circle cx="612.6" cy="384.74" r="0.9" fill="#2a2a2a" fill-opacity="0.9"/><circle cx="614" cy="384.74" r="0.9" fill="#2a2a2a" fill-opacity="0.9"/><circle cx="615.4" cy="384.74" r="0.9" fill="#2a2a2a" fill-opacity="0.9"/><circle cx="616.8" cy="384.74" r="0.9" fill="#2a2a2a" fill-opacity="0.9"/><circle cx="618.2" cy="384.74" r="0.9" fill="#2a2a2a" fill-opacity="0.9"/><line x1="615.3" y1="391.16" x2="668.5" y2="391.16" stroke="#666" stroke-width="0.5"/><line x1="615.3" y1="389.96" x2="615.3" y2="392.36" stroke="#666" stroke-width="0.5"/><line x1="668.5" y1="389.96" x2="668.5" y2="392.36" stroke="#666" stroke-width="0.5"/><rect x="622.3" y="388.46" width="27.1" height="5.4" fill="#c12132" stroke="#901825" stroke-width="0.5"/><line x1="639.3" y1="388.46" x2="639.3" y2="393.86" stroke="#601019" stroke-width="0.6"/>
<text x="572.2" y="400.6" font-size="6.8" text-anchor="middle" fill="#222">0.5</text>
<text x="610.5" y="400.6" font-size="6.8" text-anchor="middle" fill="#222">1.0</text>
<text x="649" y="400.6" font-size="6.8" text-anchor="middle" fill="#222">1.5</text>
<text x="586.1" y="408.6" font-size="6.8" fill="#222" textLength="43.2" lengthAdjust="spacingAndGlyphs"><tspan font-style="italic">β</tspan> coefficient</text>
<text x="65.5" y="448" font-size="8.2" fill="#111" textLength="19.9" lengthAdjust="spacingAndGlyphs">early</text>
<text x="65.5" y="508.3" font-size="8.2" fill="#111" textLength="14.8" lengthAdjust="spacingAndGlyphs">mid</text>
<rect x="65.4" y="451.9" width="142" height="6.8" fill="#0b5a9a"/>
<rect x="65.4" y="461.6" width="8.8" height="6.7" fill="#1a87bb"/>
<rect x="65.4" y="471.2" width="0.9" height="6.8" fill="#4aa8d0"/>
<rect x="65.4" y="480" width="4.8" height="7.3" fill="#a4cce4"/>
<rect x="65.4" y="489.2" width="5.7" height="6.9" fill="#d2e4f3"/>
<rect x="65.4" y="513" width="94.4" height="7.7" fill="#046a2e"/>
<rect x="65.4" y="522.6" width="5.6" height="7.4" fill="#12924c"/>
<rect x="65.4" y="531.9" width="35.3" height="7.7" fill="#5cbd80"/>
<rect x="65.2" y="451.1" width="149.2" height="46.1" fill="none" stroke="#444" stroke-width="0.7"/>
<rect x="65.2" y="511.9" width="149.2" height="46.5" fill="none" stroke="#444" stroke-width="0.7"/>
<text x="63.2" y="459.2" font-size="8.2" text-anchor="end" fill="#111" textLength="53" lengthAdjust="spacingAndGlyphs">cortical plate</text>
<text x="63.2" y="468.5" font-size="8.2" text-anchor="end" fill="#111" textLength="33.2" lengthAdjust="spacingAndGlyphs">subplate</text>
<text x="63.2" y="477.6" font-size="8.2" text-anchor="end" fill="#111" textLength="52.2" lengthAdjust="spacingAndGlyphs">intermediate</text>
<text x="63.2" y="486.9" font-size="8.2" text-anchor="end" fill="#111" textLength="58.5" lengthAdjust="spacingAndGlyphs">subventricular</text>
<text x="63.2" y="496.1" font-size="8.2" text-anchor="end" fill="#111" textLength="43.5" lengthAdjust="spacingAndGlyphs">ventricular</text>
<text x="63.2" y="520.4" font-size="8.2" text-anchor="end" fill="#111" textLength="53" lengthAdjust="spacingAndGlyphs">cortical plate</text>
<text x="63.2" y="530" font-size="8.2" text-anchor="end" fill="#111" textLength="33.2" lengthAdjust="spacingAndGlyphs">subplate</text>
<text x="63.2" y="539.2" font-size="8.2" text-anchor="end" fill="#111" textLength="52.2" lengthAdjust="spacingAndGlyphs">intermediate</text>
<text x="63.2" y="548.8" font-size="8.2" text-anchor="end" fill="#111" textLength="58.5" lengthAdjust="spacingAndGlyphs">subventricular</text>
<text x="63.2" y="558.1" font-size="8.2" text-anchor="end" fill="#111" textLength="43.5" lengthAdjust="spacingAndGlyphs">ventricular</text>
<line x1="65.2" y1="558.4" x2="65.2" y2="560.4" stroke="#444" stroke-width="0.6"/>
<text x="65.2" y="567.6" font-size="8.2" text-anchor="middle" fill="#111">0</text>
<line x1="92.6" y1="558.4" x2="92.6" y2="560.4" stroke="#444" stroke-width="0.6"/>
<text x="92.6" y="567.6" font-size="8.2" text-anchor="middle" fill="#111">50</text>
<line x1="120" y1="558.4" x2="120" y2="560.4" stroke="#444" stroke-width="0.6"/>
<text x="120" y="567.6" font-size="8.2" text-anchor="middle" fill="#111">100</text>
<line x1="147.4" y1="558.4" x2="147.4" y2="560.4" stroke="#444" stroke-width="0.6"/>
<text x="147.4" y="567.6" font-size="8.2" text-anchor="middle" fill="#111">150</text>
<line x1="174.8" y1="558.4" x2="174.8" y2="560.4" stroke="#444" stroke-width="0.6"/>
<text x="174.8" y="567.6" font-size="8.2" text-anchor="middle" fill="#111">200</text>
<line x1="202.2" y1="558.4" x2="202.2" y2="560.4" stroke="#444" stroke-width="0.6"/>
<text x="202.2" y="567.6" font-size="8.2" text-anchor="middle" fill="#111">250</text>
<text x="140.2" y="577.8" font-size="8.2" text-anchor="middle" fill="#111" textLength="70" lengthAdjust="spacingAndGlyphs">number of genes</text>
<circle cx="276.1" cy="502" r="55.7" fill="none" stroke="#333" stroke-width="0.6"/>
<circle cx="311.7" cy="502" r="20.2" fill="#1b79b2" stroke="#222" stroke-width="0.5"/>
<circle cx="306.9" cy="523.7" r="18.3" fill="#118a48" stroke="#222" stroke-width="0.5"/>
<clipPath id="vclip"><circle cx="311.7" cy="502" r="20.2"/></clipPath>
<circle cx="306.9" cy="523.7" r="18.3" fill="#6592ba" stroke="#222" stroke-width="0.5" clip-path="url(#vclip)"/>
<circle cx="311.7" cy="502" r="20.2" fill="none" stroke="#222" stroke-width="0.5"/>
<text x="226.6" y="455.2" font-size="8.4" fill="#111" textLength="16.3" lengthAdjust="spacingAndGlyphs">ZRT</text>
<text x="256.8" y="501" font-size="8.4" fill="#111" textLength="18.5" lengthAdjust="spacingAndGlyphs">1712</text>
<text x="303.9" y="496.5" font-size="8.4" fill="#111" textLength="14.5" lengthAdjust="spacingAndGlyphs">206</text>
<text x="304.8" y="516.4" font-size="8.4" fill="#111" textLength="9.6" lengthAdjust="spacingAndGlyphs">76</text>
<text x="296.5" y="533.8" font-size="8.4" fill="#111" textLength="14.1" lengthAdjust="spacingAndGlyphs">151</text>
<text x="334.2" y="494.3" font-size="8.4" fill="#111" textLength="26.6" lengthAdjust="spacingAndGlyphs">EARLY</text>
<text x="325.9" y="535.7" font-size="8.4" fill="#111" textLength="16.3" lengthAdjust="spacingAndGlyphs">MID</text>
<text x="433.4" y="450.9" font-size="9" fill="#111" textLength="102.5" lengthAdjust="spacingAndGlyphs">hypoallometric ZRT<tspan font-size="6" dy="2">scaling</tspan></text>
<text x="553" y="450.8" font-size="9" fill="#111" textLength="106" lengthAdjust="spacingAndGlyphs">hyperallometric ZRT<tspan font-size="6" dy="2">scaling</tspan></text>
<rect x="434.3" y="455.3" width="115.3" height="49.6" fill="none" stroke="#888" stroke-width="0.7"/>
<rect x="553.5" y="455.1" width="116.1" height="49.9" fill="none" stroke="#888" stroke-width="0.7"/>
<text x="432.7" y="467.2" font-size="9" text-anchor="end" fill="#111" textLength="45.5" lengthAdjust="spacingAndGlyphs">allocortex</text>
<text x="432.7" y="483.3" font-size="9" text-anchor="end" fill="#111" textLength="61.2" lengthAdjust="spacingAndGlyphs">proneocortex</text>
<text x="432.7" y="499.5" font-size="9" text-anchor="end" fill="#111" textLength="46.4" lengthAdjust="spacingAndGlyphs">neocortex</text>
<circle cx="442.3" cy="463.9" r="3.8" fill="#e3edf8"/><circle cx="458.8" cy="463.9" r="3.2" fill="#b0d2ea"/><circle cx="475.4" cy="463.9" r="3.6" fill="#5eb0dc"/><circle cx="491.9" cy="463.9" r="4" fill="#c8e2f5" stroke="#111" stroke-width="0.9"/><circle cx="508.4" cy="463.9" r="4.1" fill="#0d64b4"/><circle cx="524.9" cy="463.9" r="1.3" fill="#0a4e9e"/><circle cx="541.4" cy="463.9" r="7.2" fill="#08306b" stroke="#111" stroke-width="0.9"/><circle cx="442.3" cy="480.2" r="3.6" fill="#1878c0"/><circle cx="458.8" cy="480.2" r="2.6" fill="#e0ecf8"/><circle cx="475.4" cy="480.2" r="3.6" fill="#0a56a8"/><circle cx="491.9" cy="480.2" r="3.3" fill="#a6cfea"/><circle cx="508.4" cy="480.2" r="2.6" fill="#3d9fd8"/><circle cx="541.4" cy="480.2" r="1.6" fill="#44a8e0"/><circle cx="442.3" cy="496.4" r="2.6" fill="#c0dbf0"/><circle cx="475.4" cy="496.4" r="1.6" fill="#80c2e8"/><circle cx="491.9" cy="496.4" r="1.5" fill="#0c62b0"/><circle cx="508.4" cy="496.4" r="2.7" fill="#1f90d0"/><circle cx="524.9" cy="496.4" r="2.7" fill="#1c9edc"/><circle cx="578.6" cy="463.9" r="3.8" fill="#fc8b6b"/><circle cx="594.9" cy="463.9" r="3" fill="#f04a3a"/><circle cx="611.5" cy="463.9" r="3.6" fill="#fddfd0"/><circle cx="628" cy="463.9" r="2.2" fill="#fc9b7d"/><circle cx="661" cy="463.9" r="2.8" fill="#f77a5a"/><circle cx="562.2" cy="480.2" r="2.8" fill="#df2030"/><circle cx="578.6" cy="480.2" r="3" fill="#f86a4a"/><circle cx="594.9" cy="480.2" r="3.4" fill="#f77252"/><circle cx="611.5" cy="480.2" r="2.2" fill="#fcb8a0"/><circle cx="628" cy="480.2" r="3.4" fill="#fb8a6a"/><circle cx="661" cy="480.2" r="2.8" fill="#fdcfbf"/><circle cx="562.2" cy="496.4" r="3.4" fill="#f0222a"/><circle cx="578.6" cy="496.4" r="3.4" fill="#f0222a"/><circle cx="594.9" cy="496.4" r="1.8" fill="#c61020"/><circle cx="611.5" cy="496.4" r="1.8" fill="#b00c18"/><circle cx="628" cy="496.4" r="2.2" fill="#d01020"/><circle cx="644.6" cy="496.4" r="3.2" fill="#f23232"/><circle cx="661" cy="496.4" r="7.6" fill="#7a0008" stroke="#111" stroke-width="0.9"/>
<text transform="translate(445.5,507.5) rotate(-90)" font-size="9" fill="#111" text-anchor="end" textLength="52.2" lengthAdjust="spacingAndGlyphs">progenitors</text>
<text transform="translate(462,507.5) rotate(-90)" font-size="9" fill="#111" text-anchor="end" textLength="53.5" lengthAdjust="spacingAndGlyphs">OPC &amp; oligo</text>
<text transform="translate(478.6,507.5) rotate(-90)" font-size="9" fill="#111" text-anchor="end" textLength="22.8" lengthAdjust="spacingAndGlyphs">astro</text>
<text transform="translate(495.1,507.5) rotate(-90)" font-size="9" fill="#111" text-anchor="end" textLength="52" lengthAdjust="spacingAndGlyphs">mature glia</text>
<text transform="translate(511.6,507.5) rotate(-90)" font-size="9" fill="#111" text-anchor="end" textLength="12.8" lengthAdjust="spacingAndGlyphs">RG</text>
<text transform="translate(528.1,507.5) rotate(-90)" font-size="9" fill="#111" text-anchor="end" textLength="14.8" lengthAdjust="spacingAndGlyphs">IPC</text>
<text transform="translate(544.6,507.5) rotate(-90)" font-size="9" fill="#111" text-anchor="end" textLength="31.8" lengthAdjust="spacingAndGlyphs">neuron</text>
<text transform="translate(565.4,507.5) rotate(-90)" font-size="9" fill="#111" text-anchor="end" textLength="52.2" lengthAdjust="spacingAndGlyphs">progenitors</text>
<text transform="translate(581.8,507.5) rotate(-90)" font-size="9" fill="#111" text-anchor="end" textLength="53.5" lengthAdjust="spacingAndGlyphs">OPC &amp; oligo</text>
<text transform="translate(598.1,507.5) rotate(-90)" font-size="9" fill="#111" text-anchor="end" textLength="22.8" lengthAdjust="spacingAndGlyphs">astro</text>
<text transform="translate(614.7,507.5) rotate(-90)" font-size="9" fill="#111" text-anchor="end" textLength="52" lengthAdjust="spacingAndGlyphs">mature glia</text>
<text transform="translate(631.2,507.5) rotate(-90)" font-size="9" fill="#111" text-anchor="end" textLength="12.8" lengthAdjust="spacingAndGlyphs">RG</text>
<text transform="translate(647.8,507.5) rotate(-90)" font-size="9" fill="#111" text-anchor="end" textLength="14.8" lengthAdjust="spacingAndGlyphs">IPC</text>
<text transform="translate(664.2,507.5) rotate(-90)" font-size="9" fill="#111" text-anchor="end" textLength="31.8" lengthAdjust="spacingAndGlyphs">neuron</text>
<linearGradient id="reds" x1="0" x2="0" y1="1" y2="0"><stop offset="0" stop-color="#fff5f0"/><stop offset="0.4" stop-color="#fc9272"/><stop offset="0.75" stop-color="#ef3b2c"/><stop offset="1" stop-color="#a50f15"/></linearGradient>
<linearGradient id="blues" x1="0" x2="0" y1="1" y2="0"><stop offset="0" stop-color="#f0f6fc"/><stop offset="0.45" stop-color="#6baed6"/><stop offset="0.6" stop-color="#2b9ad4"/><stop offset="1" stop-color="#08459a"/></linearGradient>
<rect x="416.8" y="521.8" width="5.2" height="48.2" fill="url(#reds)"/>
<rect x="422.2" y="521.8" width="4.8" height="48.2" fill="url(#blues)"/>
<text x="416.6" y="520.6" font-size="6.8" fill="#111" textLength="10.4" lengthAdjust="spacingAndGlyphs">5.5</text>
<text transform="translate(415.4,570) rotate(-90)" font-size="5.6" fill="#111" textLength="37.3" lengthAdjust="spacingAndGlyphs">enrichment</text>
</svg>
</body></html>
